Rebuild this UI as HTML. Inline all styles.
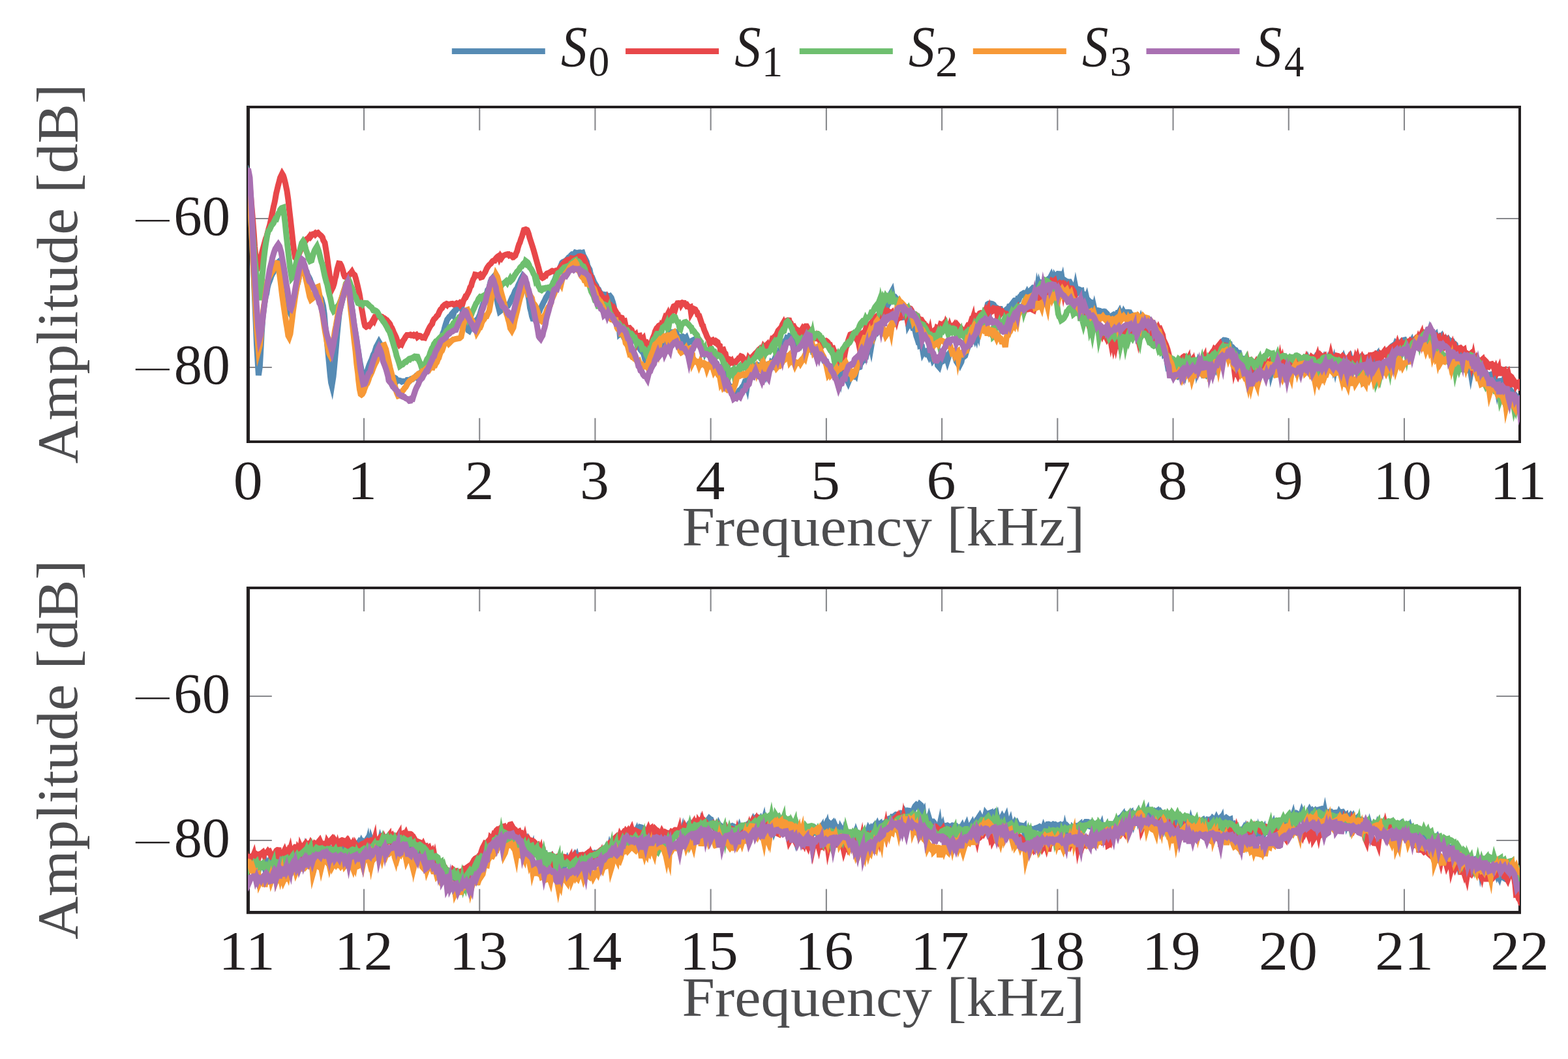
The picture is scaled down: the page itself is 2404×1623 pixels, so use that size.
<!DOCTYPE html>
<html><head><meta charset="utf-8"><title>Amplitude spectra</title><style>html,body{margin:0;padding:0;background:#fff;}svg{display:block;}</style></head><body>
<svg width="2404" height="1623" viewBox="0 0 2404 1623">
<rect width="2404" height="1623" fill="#ffffff"/>
<rect x="692.8" y="74.1" width="143" height="8.9" fill="#568bb4"/>
<text transform="translate(859.93 100.92) scale(0.8072 0.8787)" font-family='"Liberation Serif", serif' font-size="100" font-style="italic" fill="#231f20">S</text>
<text transform="translate(902.36 116.35) scale(0.6415 0.6533)" font-family='"Liberation Serif", serif' font-size="100" fill="#231f20">0</text>
<rect x="959.1" y="74.1" width="143" height="8.9" fill="#e8474a"/>
<text transform="translate(1126.23 100.92) scale(0.8072 0.8787)" font-family='"Liberation Serif", serif' font-size="100" font-style="italic" fill="#231f20">S</text>
<text transform="translate(1167.93 117.00) scale(0.6449 0.6682)" font-family='"Liberation Serif", serif' font-size="100" fill="#231f20">1</text>
<rect x="1225.8" y="74.1" width="143" height="8.9" fill="#6ebf6f"/>
<text transform="translate(1392.93 100.92) scale(0.8072 0.8787)" font-family='"Liberation Serif", serif' font-size="100" font-style="italic" fill="#231f20">S</text>
<text transform="translate(1433.93 117.00) scale(0.6983 0.6662)" font-family='"Liberation Serif", serif' font-size="100" fill="#231f20">2</text>
<rect x="1491.8" y="74.1" width="143" height="8.9" fill="#f79937"/>
<text transform="translate(1658.93 100.92) scale(0.8072 0.8787)" font-family='"Liberation Serif", serif' font-size="100" font-style="italic" fill="#231f20">S</text>
<text transform="translate(1701.42 116.34) scale(0.6634 0.6562)" font-family='"Liberation Serif", serif' font-size="100" fill="#231f20">3</text>
<rect x="1757.5" y="74.1" width="143" height="8.9" fill="#a970b2"/>
<text transform="translate(1924.63 100.92) scale(0.8072 0.8787)" font-family='"Liberation Serif", serif' font-size="100" font-style="italic" fill="#231f20">S</text>
<text transform="translate(1969.08 117.00) scale(0.6078 0.6702)" font-family='"Liberation Serif", serif' font-size="100" fill="#231f20">4</text>
<path d="M380.80 676.85V640.85 M380.80 163.80V199.80 M558.02 676.85V640.85 M558.02 163.80V199.80 M735.24 676.85V640.85 M735.24 163.80V199.80 M912.45 676.85V640.85 M912.45 163.80V199.80 M1089.67 676.85V640.85 M1089.67 163.80V199.80 M1266.89 676.85V640.85 M1266.89 163.80V199.80 M1444.11 676.85V640.85 M1444.11 163.80V199.80 M1621.33 676.85V640.85 M1621.33 163.80V199.80 M1798.55 676.85V640.85 M1798.55 163.80V199.80 M1975.76 676.85V640.85 M1975.76 163.80V199.80 M2152.98 676.85V640.85 M2152.98 163.80V199.80 M2330.20 676.85V640.85 M2330.20 163.80V199.80 M380.80 334.97H416.80 M2330.20 334.97H2294.20 M380.80 562.96H416.80 M2330.20 562.96H2294.20" stroke="#87888c" stroke-width="2.1" fill="none"/>
<path d="M377.9 162.1H2332.0V165.9H377.9Z M377.9 675.0H2332.0V678.9H377.9Z M377.9 162.1H383.0V678.9H377.9Z M2328.0 162.1H2332.0V678.9H2328.0Z" fill="#231f20"/>
<clipPath id="cu"><rect x="380.0" y="163.80" width="1950.0" height="513.05"/></clipPath>
<g clip-path="url(#cu)" fill="none" stroke-width="9.0" stroke-linejoin="miter" stroke-miterlimit="6">
<path d="M372.5 261.1 L374.3 261.8 L375.9 261.4 L376.9 263.2 L378.5 261.6 L381.0 270.7 L383.0 301.2 L385.2 343.5 L386.4 367.7 L387.7 397.2 L389.0 421.9 L390.9 464.8 L392.1 493.1 L393.5 527.9 L396.4 575.1 L398.3 562.3 L400.1 531.1 L401.3 509.0 L403.0 484.7 L405.8 463.0 L407.3 454.7 L408.7 449.9 L410.0 441.5 L411.6 435.2 L413.5 430.4 L415.1 425.9 L416.0 423.2 L417.8 419.3 L419.1 417.6 L420.5 412.9 L422.6 407.7 L423.7 404.4 L425.9 402.5 L428.1 408.5 L430.1 418.8 L431.1 422.1 L432.4 427.6 L434.1 435.7 L435.7 443.8 L437.3 450.4 L439.1 460.1 L440.5 465.6 L441.7 471.9 L442.9 475.6 L444.6 479.0 L446.7 474.4 L447.8 469.4 L449.5 463.4 L450.4 458.8 L451.9 454.4 L454.1 442.6 L455.4 436.6 L456.6 433.6 L458.2 426.0 L459.5 418.4 L461.0 411.8 L463.3 405.5 L464.6 405.1 L465.8 407.0 L467.0 409.0 L469.0 414.6 L470.1 416.0 L471.4 420.9 L473.4 424.4 L475.1 427.8 L475.9 430.1 L478.0 435.4 L480.0 439.6 L481.9 443.6 L483.6 445.1 L485.5 447.1 L486.8 451.0 L488.6 452.1 L489.6 453.9 L491.2 455.6 L492.6 458.2 L495.4 468.3 L497.2 481.2 L498.7 499.3 L500.2 512.0 L502.0 530.7 L502.9 540.0 L504.5 556.3 L506.2 574.7 L507.6 586.5 L508.8 591.1 L511.0 577.3 L512.3 564.2 L513.9 546.8 L515.5 529.0 L517.0 511.4 L518.6 495.0 L520.0 482.3 L521.4 473.7 L522.5 469.9 L524.3 462.1 L526.0 455.1 L527.6 448.9 L529.0 443.2 L529.9 440.6 L531.7 434.1 L533.0 433.7 L535.2 442.5 L536.0 447.7 L537.6 459.1 L539.2 469.1 L540.4 477.9 L542.6 495.8 L545.0 509.9 L546.8 520.8 L548.0 529.9 L549.9 541.8 L551.1 550.1 L552.4 557.6 L554.0 566.1 L557.0 581.4 L558.7 580.0 L560.4 577.4 L561.7 572.7 L563.0 568.6 L564.7 563.5 L566.2 559.0 L568.1 554.5 L570.0 550.3 L572.3 543.6 L574.2 540.3 L575.6 535.5 L577.0 531.4 L578.0 529.5 L581.0 523.9 L582.5 526.5 L584.3 531.7 L585.4 535.9 L587.5 544.6 L589.0 548.3 L590.5 552.8 L592.0 559.3 L593.1 562.1 L595.0 567.6 L597.0 573.2 L599.2 576.4 L600.8 576.7 L602.1 578.4 L603.9 579.4 L605.4 579.1 L606.6 579.8 L608.4 584.4 L609.7 583.1 L611.5 583.0 L612.6 583.2 L614.5 583.9 L616.0 584.9 L617.3 584.2 L618.9 584.2 L620.3 584.2 L621.6 583.9 L623.7 583.8 L624.5 582.4 L626.2 582.3 L627.8 582.4 L628.9 582.9 L630.5 580.9 L632.5 581.1 L634.8 579.2 L637.1 576.9 L638.5 578.1 L639.6 576.6 L641.4 575.5 L642.7 572.9 L644.5 571.3 L645.7 571.3 L647.0 570.5 L649.1 569.3 L650.5 567.4 L652.0 566.3 L653.5 563.9 L655.0 561.8 L656.3 561.8 L657.9 557.9 L659.0 556.6 L660.8 554.1 L662.6 551.8 L664.0 549.4 L665.5 546.4 L666.8 543.7 L668.6 543.1 L670.0 538.8 L671.6 533.9 L672.7 530.4 L674.0 527.7 L675.9 522.4 L677.3 516.4 L678.7 511.3 L680.6 507.3 L681.5 503.2 L683.4 496.5 L685.7 489.7 L687.8 487.1 L689.0 485.4 L690.8 484.2 L692.6 481.1 L693.5 480.1 L694.9 482.4 L696.5 477.3 L698.3 474.8 L700.2 472.0 L700.9 472.7 L703.2 469.5 L704.3 468.0 L705.5 466.3 L707.0 467.3 L708.6 474.9 L710.5 479.5 L711.8 486.6 L713.1 489.5 L714.6 494.8 L716.6 502.3 L717.8 506.3 L719.2 507.2 L720.7 504.3 L722.5 501.8 L724.2 498.8 L725.0 499.6 L726.5 496.1 L728.2 495.2 L729.8 491.4 L731.0 490.1 L732.4 489.7 L733.8 486.3 L735.7 482.1 L737.5 475.6 L738.9 471.1 L739.9 468.4 L741.4 463.8 L743.3 457.7 L745.1 452.1 L746.6 448.4 L747.7 444.3 L749.6 442.0 L751.1 435.7 L752.2 431.0 L754.0 427.4 L755.2 426.0 L756.5 430.1 L758.4 439.5 L759.5 444.1 L761.4 454.5 L763.0 465.3 L764.6 471.9 L766.0 477.6 L769.1 475.3 L770.6 473.5 L772.2 472.6 L773.4 472.2 L774.9 469.8 L776.2 470.2 L777.5 467.9 L779.1 468.0 L782.0 463.3 L784.0 458.4 L785.3 455.5 L786.8 453.2 L788.7 448.9 L789.5 446.5 L791.3 443.6 L792.5 442.6 L794.6 436.9 L795.8 434.4 L797.2 431.7 L798.5 428.5 L800.4 424.8 L801.7 422.4 L803.4 424.3 L806.2 437.1 L807.9 444.4 L809.3 450.7 L811.1 460.1 L812.6 471.8 L814.1 477.7 L815.5 484.5 L816.8 488.3 L818.3 488.3 L819.7 489.5 L821.2 487.1 L822.4 484.8 L824.5 479.1 L825.6 479.8 L826.9 477.9 L828.8 472.6 L830.2 470.1 L831.7 467.1 L833.2 463.7 L834.9 460.8 L836.0 458.3 L837.4 455.3 L839.4 452.7 L841.0 449.5 L842.6 446.2 L843.7 446.4 L845.5 440.3 L846.4 437.1 L847.9 434.9 L849.9 429.7 L851.1 427.0 L852.5 423.0 L854.0 424.5 L855.7 418.5 L857.2 413.4 L858.9 409.4 L861.7 402.7 L863.0 401.5 L864.9 400.7 L865.9 400.2 L867.7 401.3 L869.2 397.6 L870.7 395.9 L871.9 394.5 L873.8 393.6 L875.4 391.1 L877.0 389.7 L878.7 390.0 L879.7 390.6 L882.1 387.0 L884.1 387.6 L886.1 387.4 L887.5 387.0 L889.2 386.9 L890.6 387.6 L892.1 387.3 L893.0 387.1 L894.3 391.2 L896.1 394.3 L897.7 397.2 L899.5 400.9 L900.8 406.9 L902.3 410.2 L904.0 413.0 L905.0 417.5 L906.9 425.0 L907.9 425.2 L910.6 431.8 L912.9 435.7 L914.2 437.8 L915.6 441.4 L917.6 443.4 L918.6 445.8 L919.9 448.0 L921.6 454.8 L922.9 457.3 L925.0 453.0 L926.0 451.2 L928.2 451.6 L929.1 451.7 L930.6 452.8 L932.4 457.7 L933.6 454.3 L935.2 453.6 L937.2 456.1 L939.4 462.6 L941.1 468.9 L943.1 480.6 L944.1 483.1 L945.6 489.9 L947.4 495.8 L949.1 501.3 L950.1 511.5 L951.4 510.3 L953.5 511.4 L955.0 514.2 L956.4 512.3 L957.5 512.1 L959.0 511.9 L961.0 512.1 L962.5 513.5 L964.1 512.1 L965.5 510.7 L967.7 510.9 L970.1 515.2 L971.5 521.4 L972.9 520.7 L974.4 522.0 L975.7 524.4 L977.2 527.2 L978.9 532.0 L980.3 533.0 L982.0 536.2 L983.6 538.1 L985.1 539.9 L986.2 540.2 L988.1 547.6 L989.6 543.6 L990.7 544.7 L992.5 544.9 L993.5 541.4 L995.3 540.7 L996.8 539.1 L998.5 537.7 L1000.1 541.1 L1001.0 541.2 L1002.9 536.4 L1004.4 538.1 L1005.5 535.7 L1008.5 531.9 L1010.7 532.3 L1011.5 531.1 L1013.3 529.9 L1014.7 527.4 L1016.4 522.9 L1017.9 521.0 L1019.3 524.9 L1020.7 519.5 L1022.3 515.1 L1023.7 512.8 L1025.6 512.5 L1026.8 509.6 L1028.9 513.3 L1031.1 508.9 L1033.2 509.1 L1034.2 509.0 L1036.1 512.7 L1037.4 511.2 L1039.2 521.6 L1040.0 516.0 L1042.2 518.8 L1043.5 517.1 L1044.9 516.0 L1046.5 515.6 L1048.0 516.5 L1049.3 521.7 L1050.9 518.6 L1052.1 517.4 L1053.4 520.8 L1055.4 525.2 L1056.8 523.9 L1058.6 523.8 L1059.6 522.7 L1061.6 521.7 L1063.2 520.9 L1064.6 526.8 L1066.2 524.3 L1067.0 526.0 L1069.7 525.4 L1071.7 524.6 L1073.0 526.9 L1074.5 528.9 L1075.9 531.0 L1078.1 530.9 L1079.2 532.4 L1080.9 539.3 L1082.3 536.2 L1084.0 538.3 L1085.5 543.5 L1086.7 544.2 L1088.0 540.3 L1089.5 541.5 L1091.1 545.1 L1092.6 552.7 L1094.1 549.0 L1095.7 556.7 L1097.4 555.7 L1098.7 556.9 L1100.2 564.0 L1102.1 562.6 L1102.9 562.5 L1104.4 564.3 L1105.9 568.0 L1108.1 569.7 L1109.4 570.6 L1111.0 576.5 L1113.7 583.8 L1115.6 585.0 L1116.6 588.1 L1118.3 591.6 L1119.9 592.0 L1121.5 595.9 L1122.6 599.6 L1124.9 607.1 L1127.1 604.6 L1129.2 605.4 L1130.6 603.3 L1131.9 601.2 L1133.5 598.3 L1136.0 596.4 L1138.2 592.8 L1139.3 592.5 L1140.5 589.3 L1142.3 591.9 L1143.9 585.5 L1145.5 591.4 L1146.9 582.1 L1147.9 577.5 L1149.9 573.3 L1151.6 571.1 L1152.9 571.4 L1154.7 568.2 L1155.8 564.3 L1158.3 560.2 L1160.6 558.9 L1161.7 559.5 L1163.6 559.9 L1164.7 559.8 L1166.4 562.1 L1168.1 563.6 L1169.5 568.1 L1170.9 563.0 L1172.7 565.7 L1173.5 564.5 L1175.0 571.1 L1177.5 563.8 L1179.9 564.0 L1181.1 562.0 L1182.5 556.8 L1184.3 558.8 L1185.8 553.1 L1187.3 550.8 L1188.9 547.2 L1190.2 547.5 L1192.1 545.9 L1193.1 541.2 L1194.5 540.1 L1196.2 535.5 L1198.1 535.2 L1199.0 537.5 L1200.6 533.4 L1202.6 524.8 L1203.7 522.2 L1205.6 520.3 L1206.4 518.1 L1209.3 519.4 L1211.0 514.8 L1213.0 515.1 L1214.7 514.4 L1216.2 516.5 L1217.5 517.2 L1219.1 516.9 L1220.7 521.7 L1221.8 519.2 L1223.0 521.4 L1225.1 522.2 L1226.2 520.2 L1227.7 521.0 L1230.0 525.0 L1231.9 523.3 L1233.6 523.3 L1235.4 525.1 L1237.0 525.5 L1238.7 529.4 L1240.1 529.9 L1241.7 529.3 L1242.9 530.5 L1244.5 529.7 L1245.9 536.8 L1247.0 536.1 L1248.4 536.2 L1250.8 534.3 L1253.5 536.7 L1254.8 539.5 L1255.9 539.4 L1257.8 540.6 L1259.3 543.1 L1260.5 545.5 L1262.1 550.6 L1263.6 553.6 L1265.2 555.2 L1267.0 554.9 L1268.0 558.5 L1269.8 561.5 L1271.4 560.8 L1273.2 562.1 L1275.0 562.2 L1277.1 564.0 L1278.6 564.1 L1280.0 563.3 L1281.5 562.0 L1283.1 563.1 L1284.6 562.6 L1286.3 565.9 L1287.9 571.9 L1289.2 578.5 L1290.5 571.6 L1292.0 580.6 L1293.6 577.1 L1295.0 579.4 L1296.8 580.5 L1298.6 582.1 L1300.5 586.2 L1302.4 581.6 L1304.0 579.0 L1305.7 574.8 L1307.2 573.8 L1308.9 575.4 L1310.0 573.2 L1311.6 575.2 L1313.4 566.0 L1314.9 564.1 L1316.3 563.3 L1318.1 562.6 L1319.0 558.1 L1320.6 556.3 L1322.8 551.9 L1325.7 551.9 L1327.2 542.9 L1328.4 543.8 L1330.0 536.8 L1331.5 532.3 L1332.5 531.1 L1334.4 526.7 L1335.6 532.2 L1337.2 522.9 L1338.5 520.0 L1339.9 515.1 L1342.1 511.2 L1343.5 507.8 L1345.0 509.3 L1346.7 506.8 L1349.0 507.9 L1350.9 494.6 L1352.6 499.3 L1354.0 495.8 L1355.6 483.7 L1356.6 485.0 L1358.5 474.8 L1359.5 471.6 L1361.0 467.3 L1362.5 465.3 L1364.3 456.7 L1365.8 449.9 L1367.4 446.9 L1368.7 454.5 L1370.5 454.3 L1371.8 454.6 L1373.2 456.3 L1374.5 459.4 L1376.1 461.6 L1378.1 469.6 L1380.2 476.9 L1382.6 477.2 L1384.1 476.0 L1385.1 479.3 L1386.6 485.8 L1388.5 485.3 L1389.6 486.7 L1391.7 488.3 L1392.7 497.8 L1394.5 494.5 L1396.0 492.9 L1397.1 496.3 L1399.1 501.4 L1400.2 500.9 L1401.5 503.9 L1402.9 506.6 L1404.8 514.9 L1406.4 519.4 L1407.6 523.3 L1409.6 522.4 L1410.6 529.7 L1412.6 528.9 L1413.4 529.8 L1415.2 540.3 L1416.5 537.9 L1418.3 538.4 L1419.7 538.0 L1421.2 543.1 L1423.1 543.0 L1424.4 545.8 L1425.9 542.3 L1428.0 545.1 L1430.3 552.1 L1432.0 549.8 L1433.6 550.4 L1434.9 551.6 L1436.2 551.4 L1437.6 560.1 L1439.6 562.4 L1441.0 557.6 L1442.3 555.6 L1443.6 554.6 L1445.2 553.8 L1447.1 551.0 L1448.1 548.5 L1450.1 546.4 L1451.3 548.2 L1452.6 552.7 L1454.2 547.6 L1455.5 541.4 L1458.2 537.6 L1459.9 538.4 L1461.6 541.2 L1463.5 543.2 L1464.6 547.7 L1466.3 554.0 L1468.0 556.6 L1469.4 552.9 L1471.0 552.4 L1472.6 557.5 L1474.0 554.8 L1475.4 547.8 L1476.7 544.3 L1478.4 546.4 L1479.7 545.3 L1482.0 538.0 L1483.9 532.6 L1485.5 529.3 L1487.1 528.6 L1488.9 521.4 L1490.4 517.6 L1491.9 513.6 L1493.6 517.7 L1494.9 511.9 L1496.2 515.6 L1497.5 506.5 L1499.2 511.3 L1500.5 499.6 L1502.0 494.4 L1503.5 489.2 L1505.2 484.8 L1507.0 484.0 L1510.0 479.7 L1511.1 474.3 L1512.6 473.0 L1514.3 466.2 L1515.5 465.5 L1517.2 465.7 L1518.9 470.4 L1520.6 465.5 L1521.4 465.7 L1523.5 467.1 L1525.0 470.6 L1526.4 470.6 L1527.4 471.3 L1529.6 472.6 L1530.6 474.0 L1532.3 473.5 L1533.8 473.5 L1535.6 478.6 L1536.9 476.9 L1538.7 477.5 L1540.0 477.2 L1541.4 479.7 L1542.9 474.4 L1544.3 473.3 L1545.9 473.9 L1547.3 469.6 L1548.7 469.4 L1550.4 467.2 L1551.5 473.6 L1553.3 464.8 L1554.8 463.2 L1556.1 460.5 L1557.9 460.3 L1559.4 462.3 L1560.5 458.3 L1562.1 458.6 L1563.7 454.6 L1565.4 453.1 L1566.5 451.0 L1568.1 450.0 L1569.8 448.9 L1571.3 449.1 L1572.4 452.6 L1574.7 448.0 L1575.6 449.8 L1577.4 449.9 L1578.6 450.5 L1580.4 444.6 L1581.7 443.3 L1583.2 446.1 L1585.0 445.8 L1586.4 441.1 L1587.9 441.1 L1589.5 451.4 L1590.6 442.5 L1592.0 448.4 L1593.6 438.3 L1595.2 443.4 L1596.9 434.6 L1598.2 435.5 L1599.6 432.5 L1601.0 433.8 L1602.9 432.7 L1604.0 430.0 L1605.8 428.7 L1607.5 437.3 L1608.9 429.3 L1610.0 425.6 L1611.5 422.7 L1613.7 429.3 L1614.5 422.9 L1616.4 434.0 L1617.7 425.0 L1619.4 427.7 L1620.7 421.3 L1622.0 419.7 L1624.3 419.8 L1627.1 432.6 L1628.5 428.1 L1629.7 435.8 L1631.3 428.6 L1632.8 429.6 L1634.7 440.7 L1635.4 435.4 L1637.1 431.6 L1638.7 432.0 L1640.0 431.9 L1642.0 435.4 L1643.2 445.7 L1644.4 442.4 L1646.4 441.1 L1647.7 447.3 L1649.0 440.3 L1650.9 449.9 L1652.3 448.7 L1653.6 443.3 L1655.1 443.9 L1656.8 445.7 L1658.1 445.4 L1659.3 452.9 L1661.7 450.8 L1662.8 451.4 L1664.1 460.7 L1665.8 456.0 L1667.6 464.0 L1669.1 468.4 L1670.4 462.0 L1672.1 463.8 L1673.5 463.5 L1674.9 464.5 L1676.2 476.7 L1677.5 471.6 L1679.5 480.5 L1680.9 476.4 L1683.2 475.6 L1685.6 476.1 L1686.6 478.0 L1688.7 479.1 L1690.2 477.6 L1690.9 477.5 L1692.7 483.4 L1694.7 482.4 L1696.2 479.8 L1697.4 481.0 L1698.5 484.5 L1700.0 485.5 L1701.6 486.5 L1703.7 492.4 L1705.0 490.2 L1706.2 482.9 L1708.0 481.7 L1709.6 482.0 L1710.6 486.7 L1712.6 481.8 L1713.6 479.3 L1715.2 479.2 L1716.4 477.1 L1718.0 481.2 L1719.8 481.3 L1720.9 482.9 L1722.8 478.3 L1724.0 480.4 L1726.3 478.4 L1728.6 478.5 L1730.1 478.2 L1731.9 478.5 L1733.5 482.0 L1735.0 490.5 L1736.5 483.5 L1737.9 484.7 L1739.3 488.7 L1740.7 490.1 L1742.0 488.4 L1745.0 488.5 L1746.9 487.5 L1748.0 496.8 L1749.7 490.1 L1751.0 493.8 L1752.7 494.5 L1754.5 502.3 L1755.7 502.6 L1757.4 497.9 L1758.5 496.9 L1760.2 493.2 L1761.7 494.3 L1763.3 491.3 L1765.0 493.0 L1766.5 496.5 L1768.1 497.0 L1769.6 500.1 L1770.4 500.4 L1772.3 509.9 L1773.7 510.2 L1775.4 511.1 L1776.5 511.6 L1778.5 520.6 L1780.0 521.3 L1781.7 526.1 L1782.4 532.7 L1784.2 540.6 L1785.8 538.5 L1787.6 544.8 L1790.0 559.3 L1791.6 557.3 L1793.5 555.3 L1794.7 554.9 L1796.1 563.8 L1798.1 561.9 L1799.6 566.2 L1800.7 567.1 L1802.3 575.4 L1805.0 577.0 L1807.1 573.8 L1808.6 569.1 L1810.0 568.3 L1811.4 574.4 L1812.9 573.3 L1814.3 571.6 L1815.9 575.0 L1817.1 569.9 L1818.9 562.0 L1820.4 557.9 L1821.8 557.3 L1823.4 554.3 L1824.8 561.0 L1826.5 562.2 L1828.0 557.3 L1829.0 552.4 L1832.1 552.7 L1833.5 554.6 L1835.0 565.2 L1836.7 558.5 L1838.3 564.1 L1839.7 564.1 L1841.1 566.7 L1843.0 571.6 L1844.2 574.0 L1846.1 572.8 L1847.1 572.4 L1848.9 573.6 L1850.2 575.3 L1852.1 574.0 L1853.4 570.4 L1854.9 566.8 L1856.0 563.6 L1858.0 560.4 L1860.0 559.7 L1862.6 563.9 L1863.5 558.7 L1864.9 550.0 L1867.0 542.2 L1868.7 542.2 L1870.1 535.9 L1871.2 529.8 L1873.1 529.2 L1873.9 523.7 L1876.4 521.2 L1878.8 521.5 L1880.6 522.0 L1881.6 528.0 L1883.3 525.1 L1885.2 526.4 L1886.1 531.5 L1887.7 534.0 L1890.0 532.8 L1892.0 535.2 L1894.0 536.2 L1895.2 547.2 L1896.7 539.2 L1898.1 540.4 L1899.8 540.6 L1901.4 546.0 L1902.7 549.4 L1905.5 549.6 L1907.6 552.1 L1908.8 554.7 L1910.2 553.2 L1912.2 555.5 L1913.0 559.9 L1914.4 560.9 L1916.6 567.7 L1917.6 573.4 L1920.0 573.2 L1922.2 571.3 L1923.7 569.2 L1925.6 568.7 L1926.6 574.4 L1928.0 570.0 L1929.6 568.4 L1931.7 566.6 L1932.7 569.4 L1934.2 568.4 L1936.0 567.6 L1937.6 562.6 L1940.0 560.9 L1941.6 559.7 L1943.2 559.4 L1944.9 561.6 L1946.1 563.8 L1947.6 558.9 L1949.1 570.7 L1950.6 565.1 L1952.6 557.2 L1954.0 559.4 L1955.0 561.8 L1956.7 555.7 L1958.5 552.1 L1960.0 554.5 L1961.3 555.9 L1963.0 554.1 L1964.1 554.1 L1966.0 551.8 L1967.6 550.4 L1968.7 553.9 L1970.1 551.8 L1971.4 558.0 L1973.4 555.6 L1974.9 555.2 L1975.9 551.4 L1977.8 552.2 L1979.7 559.2 L1980.4 553.1 L1982.0 552.4 L1983.4 550.7 L1985.0 559.8 L1986.7 565.1 L1988.6 559.3 L1989.5 554.5 L1991.1 553.3 L1993.2 561.2 L1993.9 564.7 L1995.6 558.6 L1997.2 552.3 L1998.4 550.0 L2000.1 549.3 L2001.9 553.3 L2003.4 558.3 L2004.9 562.1 L2006.4 553.6 L2007.9 557.2 L2008.9 557.3 L2010.9 561.0 L2012.4 561.8 L2013.6 555.6 L2015.6 551.5 L2018.6 561.1 L2019.6 553.5 L2021.0 550.1 L2023.0 558.2 L2024.5 552.5 L2026.1 551.6 L2027.4 555.0 L2028.7 552.1 L2030.3 559.8 L2031.8 556.0 L2033.4 557.8 L2035.2 555.6 L2036.1 552.8 L2038.0 558.5 L2040.0 554.1 L2042.7 558.6 L2043.6 562.1 L2045.3 555.0 L2047.1 564.1 L2048.4 557.6 L2049.8 554.1 L2051.5 551.8 L2053.2 554.3 L2054.7 551.4 L2055.5 550.0 L2057.0 550.1 L2058.6 553.2 L2060.0 549.3 L2062.0 555.0 L2063.6 562.3 L2064.5 554.1 L2065.9 555.7 L2067.7 551.3 L2069.4 555.8 L2071.0 551.7 L2072.3 556.7 L2073.9 552.9 L2075.6 551.5 L2077.1 550.8 L2078.0 548.6 L2080.0 548.7 L2081.5 548.5 L2083.1 548.4 L2084.2 551.6 L2085.5 549.6 L2087.3 553.2 L2088.7 551.6 L2090.0 558.7 L2092.0 551.4 L2093.4 550.2 L2094.9 552.7 L2096.4 555.4 L2097.5 549.0 L2098.9 561.7 L2100.7 551.3 L2102.6 552.2 L2103.9 550.1 L2105.5 552.3 L2106.9 549.2 L2108.5 548.0 L2110.2 545.0 L2111.5 543.3 L2113.1 552.8 L2114.7 550.9 L2116.4 546.1 L2118.5 541.8 L2119.9 541.7 L2122.1 542.3 L2123.1 540.1 L2124.6 539.6 L2126.0 538.2 L2127.9 540.2 L2128.9 546.9 L2131.0 535.7 L2132.1 532.7 L2134.0 530.7 L2135.6 529.6 L2137.0 533.8 L2138.2 530.5 L2139.9 526.1 L2141.6 527.9 L2143.0 529.0 L2144.1 532.7 L2145.4 529.4 L2147.0 525.9 L2148.9 523.2 L2150.0 521.9 L2151.8 521.4 L2153.4 521.0 L2154.6 523.7 L2156.6 531.1 L2157.6 527.2 L2159.0 528.5 L2160.6 530.3 L2162.2 526.1 L2164.1 522.8 L2165.4 527.4 L2166.5 522.5 L2168.2 523.2 L2169.5 521.4 L2171.5 522.7 L2173.1 521.8 L2175.0 523.7 L2177.1 521.8 L2178.6 519.6 L2180.5 520.4 L2182.2 518.3 L2183.1 519.6 L2184.8 515.9 L2186.1 522.6 L2187.4 516.1 L2189.4 517.3 L2190.5 513.3 L2192.5 526.8 L2195.0 518.0 L2196.9 517.3 L2198.1 513.5 L2200.0 514.5 L2201.1 513.3 L2203.0 522.2 L2204.4 517.5 L2205.9 516.3 L2207.1 518.9 L2209.1 516.5 L2210.2 522.7 L2212.0 519.3 L2213.3 517.7 L2214.8 517.6 L2216.5 522.5 L2217.7 520.0 L2219.5 519.0 L2220.8 521.0 L2222.5 521.4 L2224.0 522.2 L2226.5 522.8 L2228.2 527.0 L2230.2 527.0 L2231.3 528.0 L2232.7 534.0 L2234.5 543.8 L2235.6 538.3 L2237.7 538.2 L2240.0 552.5 L2241.6 549.1 L2243.5 552.2 L2245.1 564.2 L2246.5 566.1 L2247.9 567.2 L2251.0 564.0 L2252.6 561.8 L2253.8 564.5 L2255.0 571.8 L2256.8 562.3 L2258.1 555.5 L2260.0 558.0 L2261.6 557.2 L2263.1 554.8 L2264.4 555.6 L2266.0 557.0 L2267.4 563.6 L2268.8 561.6 L2270.0 563.0 L2271.6 564.6 L2273.3 565.4 L2274.9 566.7 L2276.1 570.1 L2277.5 571.4 L2280.0 578.7 L2282.6 579.4 L2283.6 574.5 L2285.2 574.0 L2286.8 578.8 L2288.1 587.2 L2289.8 581.7 L2291.3 580.0 L2292.4 581.8 L2294.7 594.0 L2295.8 586.7 L2297.0 584.0 L2299.2 583.8 L2300.0 585.0 L2302.0 595.3 L2303.3 590.8 L2304.6 597.6 L2306.2 596.6 L2307.8 590.8 L2309.2 593.7 L2310.6 594.9 L2312.2 597.3 L2313.7 602.5 L2315.5 603.1 L2316.6 599.0 L2317.9 601.1 L2320.1 604.6 L2321.0 603.6 L2322.9 608.6 L2324.3 606.6 L2326.2 608.7 L2327.1 609.9 L2329.1 610.6 L2330.0 614.5 L2331.5 614.2 L2334.0 618.9 L2336.4 614.7 L2337.9 617.5" stroke="#568bb4"/>
<path d="M372.6 262.4 L374.7 261.8 L375.6 261.8 L377.0 261.3 L378.7 264.7 L381.0 268.8 L383.0 284.8 L385.1 308.1 L387.0 330.3 L389.3 359.4 L390.5 377.3 L392.1 395.2 L393.7 409.0 L395.3 409.8 L396.8 405.6 L398.6 400.7 L399.6 395.3 L401.1 389.1 L402.9 382.2 L405.0 374.4 L407.6 365.3 L408.5 363.7 L410.6 355.6 L411.9 350.8 L413.6 344.9 L415.0 338.7 L418.0 324.0 L419.4 316.8 L421.0 310.4 L422.1 304.6 L423.5 296.5 L425.0 290.3 L426.4 284.3 L428.7 275.9 L429.5 272.4 L432.5 266.2 L434.2 269.0 L435.5 272.8 L437.5 280.7 L440.0 292.8 L441.9 306.1 L443.5 321.0 L444.8 332.0 L446.3 345.5 L448.1 361.6 L449.1 371.4 L450.6 383.0 L452.6 394.8 L454.2 396.5 L455.3 394.3 L457.0 390.5 L458.5 389.0 L460.0 385.4 L463.1 378.3 L464.3 376.8 L465.8 374.2 L467.4 370.5 L468.7 369.0 L470.2 366.5 L471.6 366.0 L473.6 363.7 L475.1 361.7 L476.0 362.9 L478.0 360.3 L479.5 359.0 L481.1 359.2 L482.7 357.9 L483.6 359.2 L485.6 357.2 L487.4 356.6 L489.6 359.1 L491.1 360.3 L492.5 361.5 L494.4 363.8 L495.6 368.1 L498.0 372.1 L500.6 388.0 L502.0 397.6 L503.5 409.0 L504.9 418.8 L506.3 430.7 L507.6 438.7 L508.8 443.4 L510.5 440.0 L512.3 434.4 L513.5 428.1 L515.0 422.9 L517.0 412.3 L519.5 403.7 L521.5 404.0 L523.1 406.9 L524.3 410.1 L526.0 415.6 L527.1 420.7 L528.5 424.0 L530.0 424.6 L531.4 425.2 L533.0 422.3 L535.0 422.1 L536.6 419.4 L537.4 419.0 L539.5 416.3 L541.0 419.1 L542.3 420.2 L543.8 421.5 L545.3 426.2 L547.0 432.8 L548.1 437.4 L551.0 450.0 L552.4 458.5 L554.6 473.7 L555.5 478.0 L557.1 487.5 L558.4 494.4 L559.7 499.4 L561.5 500.8 L563.6 499.7 L565.0 498.6 L566.2 499.3 L567.7 497.0 L569.6 494.8 L570.8 492.6 L572.6 489.4 L573.8 491.3 L575.0 488.6 L576.5 484.7 L578.4 482.9 L581.0 483.9 L582.7 485.9 L584.1 484.9 L585.6 485.4 L587.5 487.2 L588.8 487.4 L590.7 488.9 L591.5 490.5 L593.1 490.7 L594.5 492.6 L596.2 494.4 L598.0 496.9 L599.2 500.5 L600.7 502.3 L602.0 505.3 L603.7 509.5 L605.3 512.7 L606.9 516.2 L607.9 518.5 L609.5 524.4 L612.0 528.3 L614.4 525.8 L615.9 527.2 L617.2 524.4 L618.7 521.2 L619.9 519.9 L621.7 516.5 L624.0 513.4 L626.4 513.4 L628.0 513.2 L629.1 512.9 L630.6 514.1 L632.0 514.2 L633.9 513.2 L635.2 514.5 L636.5 514.0 L638.1 513.2 L640.0 516.6 L641.7 515.3 L642.9 514.5 L644.3 514.7 L645.8 515.9 L647.4 517.4 L649.2 517.3 L651.0 517.7 L653.0 513.3 L654.4 511.1 L656.1 506.8 L659.0 501.0 L661.1 498.0 L662.7 496.1 L663.5 492.7 L665.5 489.1 L666.9 487.9 L668.7 485.9 L669.6 484.3 L671.5 482.9 L672.7 480.0 L674.1 476.8 L675.6 474.1 L677.7 472.3 L678.8 469.9 L680.3 468.4 L682.1 466.7 L683.6 466.0 L685.1 467.3 L685.9 465.9 L688.2 466.6 L689.4 466.3 L691.1 465.8 L693.7 465.5 L695.6 466.8 L696.9 466.3 L698.0 466.0 L699.9 464.9 L700.9 465.7 L702.7 466.0 L704.1 464.8 L705.6 467.2 L707.0 465.4 L709.1 465.5 L710.6 460.5 L711.9 458.3 L713.5 454.8 L714.5 455.0 L716.2 451.6 L717.8 448.5 L719.3 445.2 L720.8 440.3 L722.5 438.0 L723.6 433.4 L725.6 427.9 L727.0 425.6 L728.5 420.9 L729.7 421.1 L731.6 422.2 L732.6 421.9 L733.9 422.2 L735.5 421.1 L737.3 425.0 L739.2 424.4 L741.5 420.5 L743.6 417.5 L745.2 414.1 L746.0 412.0 L747.8 409.1 L750.0 406.1 L752.6 404.0 L754.0 401.8 L755.4 400.0 L756.8 399.3 L758.5 399.4 L760.1 396.3 L761.1 395.2 L763.3 393.0 L764.7 392.1 L765.8 395.4 L767.2 392.5 L769.1 395.2 L770.5 393.1 L772.0 391.7 L773.5 391.0 L775.1 390.3 L776.7 390.0 L778.2 389.6 L779.5 389.6 L781.1 391.8 L782.6 391.3 L783.4 391.1 L785.7 393.5 L787.0 392.5 L788.0 393.4 L790.0 391.8 L791.5 387.7 L792.8 384.9 L794.1 379.7 L795.8 374.2 L797.0 372.0 L798.7 366.5 L800.4 362.0 L802.0 356.5 L803.3 352.4 L806.1 351.6 L808.1 352.4 L809.4 355.5 L810.6 358.8 L811.9 363.9 L813.9 370.1 L815.3 374.4 L816.8 379.0 L818.0 383.1 L820.2 390.7 L821.5 395.7 L823.1 401.4 L824.2 405.4 L825.7 410.6 L827.4 417.3 L828.7 421.6 L830.2 424.8 L831.8 426.0 L833.4 425.2 L834.7 422.8 L836.6 422.8 L838.1 419.7 L838.9 418.9 L841.3 418.2 L843.7 417.1 L845.7 415.6 L846.6 415.1 L848.6 415.9 L849.7 415.8 L851.6 415.6 L852.5 414.8 L855.6 414.8 L857.4 411.9 L858.6 410.4 L860.2 410.7 L861.5 406.7 L863.1 404.6 L865.8 401.9 L867.8 399.8 L869.6 398.8 L870.6 398.0 L872.5 397.8 L874.1 398.3 L875.2 398.4 L876.4 395.8 L878.6 396.2 L880.0 396.5 L882.1 396.1 L884.1 394.9 L886.0 394.5 L887.4 392.9 L888.7 392.7 L890.5 394.0 L891.5 393.2 L894.3 394.3 L896.7 400.2 L898.0 403.6 L898.9 404.9 L900.9 409.5 L902.5 417.1 L903.7 420.2 L905.7 423.1 L906.6 424.9 L908.0 432.8 L910.6 437.0 L912.9 439.4 L914.1 441.1 L916.2 443.1 L917.5 446.1 L919.0 450.5 L920.8 450.6 L923.6 456.0 L924.6 456.6 L926.0 456.8 L928.1 459.2 L929.1 461.0 L930.9 468.9 L932.1 462.6 L933.5 466.5 L935.3 467.0 L936.9 472.0 L939.2 471.1 L941.3 478.4 L942.9 480.7 L944.1 477.3 L946.1 480.6 L947.2 481.6 L948.4 489.8 L950.1 486.5 L951.5 486.5 L953.4 487.1 L955.5 493.2 L957.7 492.4 L959.5 500.4 L960.6 503.4 L962.1 504.4 L963.6 502.6 L965.1 502.5 L966.9 504.5 L968.3 505.6 L970.0 510.2 L971.8 514.7 L973.0 514.2 L974.3 513.0 L976.2 522.2 L977.7 517.5 L978.4 514.7 L980.4 514.4 L981.6 520.5 L983.5 522.9 L984.5 520.3 L986.1 518.6 L988.0 527.5 L989.4 523.9 L990.6 524.0 L992.5 527.9 L994.1 537.8 L996.3 534.3 L998.2 529.4 L999.7 521.6 L1001.2 517.4 L1003.2 512.8 L1004.4 508.1 L1006.9 503.0 L1008.8 501.1 L1010.1 499.2 L1011.8 498.3 L1013.5 500.4 L1014.7 496.2 L1016.0 496.7 L1018.7 490.3 L1020.6 484.9 L1021.9 485.3 L1023.9 481.4 L1025.1 485.2 L1027.0 485.9 L1028.2 483.5 L1030.1 477.0 L1031.2 473.5 L1033.0 469.4 L1034.0 469.0 L1035.7 472.5 L1037.0 468.1 L1038.7 464.7 L1040.1 464.6 L1041.6 465.1 L1043.7 464.5 L1044.5 466.9 L1046.3 464.1 L1049.3 464.3 L1050.8 466.4 L1052.3 468.5 L1053.5 467.6 L1055.1 469.9 L1057.0 471.2 L1058.4 470.7 L1059.6 479.9 L1061.3 476.9 L1063.2 474.3 L1064.1 473.4 L1065.9 474.2 L1067.7 477.6 L1068.8 478.5 L1070.0 482.7 L1071.8 483.6 L1073.9 490.0 L1076.6 498.2 L1077.8 499.1 L1078.9 503.3 L1080.3 507.1 L1082.5 511.9 L1083.8 515.5 L1086.6 520.5 L1088.4 526.8 L1089.9 522.7 L1091.5 521.7 L1092.5 521.2 L1094.2 523.8 L1095.9 524.9 L1097.8 522.7 L1100.2 524.3 L1101.5 528.9 L1103.6 530.0 L1104.5 537.0 L1107.4 536.3 L1109.0 535.9 L1110.4 539.9 L1112.2 541.9 L1114.1 551.4 L1115.6 550.9 L1116.9 550.0 L1118.6 550.6 L1119.9 555.2 L1121.7 553.3 L1122.6 555.6 L1124.9 556.7 L1127.6 555.3 L1129.1 552.9 L1130.5 551.8 L1132.2 549.9 L1132.9 548.8 L1134.5 548.2 L1136.0 545.9 L1137.7 546.5 L1139.2 548.4 L1140.7 554.3 L1142.0 557.1 L1143.8 558.0 L1145.6 554.1 L1147.1 551.9 L1148.0 548.8 L1150.2 551.4 L1151.1 549.1 L1152.7 547.3 L1155.2 545.0 L1157.2 542.8 L1158.7 541.0 L1160.0 540.1 L1161.4 538.6 L1163.1 536.2 L1164.8 534.7 L1165.9 536.3 L1167.9 533.5 L1169.7 534.1 L1170.8 530.9 L1172.1 532.4 L1174.2 529.9 L1175.5 528.6 L1176.7 534.1 L1178.6 535.2 L1179.4 533.5 L1180.7 526.9 L1183.2 523.4 L1184.3 519.5 L1185.5 519.8 L1187.0 516.7 L1190.2 513.3 L1192.1 509.2 L1193.1 506.8 L1194.9 504.8 L1196.1 506.2 L1198.2 500.9 L1199.5 497.5 L1201.2 494.6 L1202.3 497.4 L1204.0 492.5 L1205.0 492.0 L1207.7 490.8 L1210.0 491.0 L1211.1 494.7 L1212.4 495.3 L1214.4 500.8 L1216.0 501.2 L1217.3 500.6 L1218.5 502.7 L1220.2 504.3 L1221.6 505.1 L1223.7 511.8 L1224.9 513.4 L1226.4 514.6 L1228.0 507.5 L1229.7 504.6 L1231.2 507.8 L1231.9 503.2 L1233.4 501.1 L1234.8 500.0 L1236.7 500.0 L1238.5 503.3 L1239.7 511.6 L1241.5 513.3 L1243.0 516.5 L1244.1 512.2 L1246.0 510.7 L1248.4 514.0 L1250.3 513.1 L1252.1 512.6 L1253.7 522.4 L1254.4 518.0 L1257.1 522.4 L1259.6 528.0 L1260.7 528.9 L1262.2 526.3 L1263.7 522.1 L1265.2 523.2 L1266.8 522.4 L1268.0 523.3 L1269.5 525.0 L1271.1 530.7 L1273.1 529.8 L1274.7 533.4 L1275.5 536.0 L1277.6 534.8 L1278.6 537.3 L1280.7 539.9 L1281.5 540.2 L1284.2 543.5 L1285.9 552.1 L1287.8 551.1 L1289.3 554.5 L1290.9 554.3 L1292.2 557.1 L1293.8 551.9 L1294.9 543.8 L1297.0 533.0 L1298.7 529.4 L1300.0 523.3 L1301.5 518.6 L1303.7 512.6 L1306.2 511.6 L1307.0 512.6 L1308.8 513.8 L1310.6 513.9 L1312.0 517.7 L1313.1 519.4 L1314.6 516.8 L1316.4 525.7 L1317.7 518.8 L1319.0 515.4 L1320.6 511.4 L1322.5 510.4 L1323.8 518.1 L1325.3 509.8 L1326.5 507.6 L1327.9 502.5 L1329.2 503.0 L1331.6 502.7 L1332.8 498.3 L1334.4 496.5 L1335.9 504.7 L1337.3 496.1 L1338.5 492.1 L1339.9 491.7 L1342.0 486.9 L1343.6 485.1 L1345.1 484.0 L1346.5 485.1 L1347.4 487.6 L1349.6 483.3 L1350.8 481.1 L1352.3 481.4 L1354.2 479.6 L1355.5 478.0 L1356.8 484.0 L1358.6 480.6 L1359.8 477.5 L1361.0 476.4 L1363.0 477.7 L1364.6 478.3 L1365.9 480.1 L1367.1 479.1 L1369.2 487.3 L1370.5 487.1 L1371.5 483.0 L1373.4 482.8 L1374.9 488.7 L1375.9 484.9 L1377.9 487.6 L1379.0 486.7 L1380.2 486.7 L1382.4 483.3 L1384.1 482.7 L1385.1 482.3 L1386.9 478.7 L1388.5 476.8 L1389.4 481.4 L1391.1 475.3 L1392.9 471.9 L1394.6 472.5 L1395.7 472.9 L1397.7 476.1 L1399.2 480.2 L1400.2 480.1 L1401.7 481.5 L1403.4 481.6 L1404.9 483.1 L1406.6 484.2 L1407.6 487.6 L1410.0 488.8 L1412.1 493.1 L1413.7 491.9 L1415.1 494.2 L1416.6 495.3 L1418.5 503.8 L1419.7 502.7 L1421.6 511.8 L1422.9 508.9 L1424.2 513.5 L1425.7 508.0 L1427.4 517.2 L1428.9 509.6 L1431.1 507.7 L1433.4 513.1 L1434.7 508.1 L1436.5 502.4 L1438.1 503.3 L1439.2 506.4 L1440.7 501.9 L1442.3 496.9 L1444.0 497.5 L1445.5 497.9 L1446.6 496.6 L1448.6 499.6 L1449.9 495.7 L1451.3 498.9 L1452.6 501.0 L1454.5 505.2 L1456.0 500.4 L1457.2 503.9 L1459.0 500.8 L1460.5 499.6 L1461.6 500.2 L1463.4 497.8 L1464.5 500.3 L1466.2 501.6 L1467.8 497.9 L1469.5 499.9 L1471.0 504.5 L1472.4 507.9 L1473.4 507.6 L1475.0 505.0 L1476.9 507.1 L1479.0 506.3 L1481.5 504.2 L1482.8 501.2 L1484.4 498.2 L1485.4 498.2 L1487.2 497.6 L1489.1 491.7 L1490.0 492.5 L1491.6 487.5 L1493.2 498.3 L1494.9 489.6 L1497.5 484.4 L1499.4 484.9 L1500.4 483.7 L1502.1 480.2 L1503.6 479.6 L1505.1 479.8 L1507.1 484.7 L1508.1 479.8 L1509.9 476.8 L1511.1 481.5 L1513.1 478.4 L1514.5 475.3 L1515.6 486.7 L1517.4 477.5 L1518.8 478.4 L1520.4 477.5 L1522.1 473.2 L1523.1 472.2 L1525.5 473.0 L1527.8 473.1 L1529.2 482.7 L1531.0 477.8 L1532.1 476.7 L1533.5 480.6 L1535.1 477.7 L1536.4 477.1 L1538.7 479.8 L1539.7 480.1 L1541.6 480.7 L1542.8 480.7 L1544.6 482.7 L1545.8 488.2 L1547.0 483.4 L1548.6 483.2 L1550.2 485.2 L1551.5 485.6 L1553.4 479.1 L1554.5 478.7 L1556.3 474.5 L1557.8 473.2 L1559.7 473.4 L1560.7 471.8 L1562.6 476.4 L1565.0 474.3 L1567.1 475.1 L1568.3 472.9 L1570.2 477.5 L1571.6 474.2 L1572.7 470.6 L1574.5 469.9 L1575.5 471.2 L1577.1 473.8 L1579.1 473.5 L1580.1 472.8 L1582.9 474.6 L1584.8 475.6 L1586.0 471.9 L1588.0 467.8 L1589.4 463.7 L1590.6 460.7 L1592.0 458.8 L1594.2 458.8 L1595.4 453.7 L1596.9 464.0 L1598.5 451.8 L1600.0 448.2 L1603.1 442.8 L1604.2 440.6 L1606.0 444.1 L1607.6 438.7 L1609.2 438.1 L1610.7 438.5 L1612.1 434.3 L1613.1 430.9 L1614.7 432.0 L1616.5 430.4 L1617.7 435.3 L1619.6 436.9 L1620.7 441.9 L1622.0 438.7 L1623.9 434.3 L1625.0 433.5 L1627.2 434.8 L1628.0 434.5 L1630.0 445.3 L1631.2 438.3 L1632.5 437.0 L1634.2 440.7 L1635.8 439.1 L1636.9 445.1 L1638.5 451.1 L1640.3 451.1 L1641.6 441.9 L1643.4 442.1 L1646.6 447.4 L1647.5 453.0 L1648.9 460.8 L1650.8 463.6 L1652.6 469.2 L1653.9 467.9 L1655.1 471.7 L1656.9 479.0 L1659.3 481.4 L1661.3 485.5 L1663.0 490.2 L1664.5 487.3 L1665.7 487.2 L1667.1 488.0 L1668.7 495.5 L1670.3 500.9 L1671.5 504.1 L1673.0 506.8 L1674.5 505.5 L1676.4 502.2 L1677.9 500.2 L1680.0 501.6 L1682.2 500.7 L1684.2 508.2 L1685.2 512.0 L1686.9 510.6 L1688.0 507.5 L1690.0 512.8 L1691.0 510.4 L1693.1 509.8 L1694.2 508.1 L1695.9 516.7 L1697.5 519.9 L1698.6 518.3 L1700.1 519.2 L1701.4 513.9 L1703.2 524.2 L1704.7 517.1 L1707.1 529.4 L1709.1 520.5 L1710.7 528.3 L1712.4 519.9 L1713.6 520.2 L1715.5 519.2 L1716.8 525.5 L1718.5 516.3 L1720.0 511.4 L1721.1 510.2 L1723.0 510.9 L1725.0 508.4 L1727.3 513.2 L1729.0 508.9 L1730.3 510.7 L1731.5 514.4 L1733.3 514.8 L1734.5 513.1 L1736.5 512.9 L1738.1 512.5 L1739.0 507.8 L1741.0 508.4 L1742.3 507.8 L1745.0 519.5 L1746.6 510.3 L1748.6 508.8 L1749.4 510.1 L1751.7 511.0 L1752.7 511.3 L1754.7 508.1 L1755.6 510.3 L1757.6 513.8 L1758.6 515.4 L1760.0 510.8 L1762.0 513.6 L1763.6 511.8 L1764.9 511.0 L1766.0 513.8 L1767.5 512.7 L1769.4 516.0 L1771.0 511.3 L1772.6 512.3 L1774.0 506.3 L1775.7 502.7 L1776.6 504.7 L1778.5 503.9 L1781.6 511.2 L1782.6 513.4 L1784.5 525.7 L1785.9 524.8 L1787.5 528.2 L1790.0 535.4 L1792.1 543.5 L1793.7 548.7 L1794.5 554.2 L1796.7 560.9 L1797.9 564.4 L1800.0 566.8 L1802.5 564.6 L1803.8 565.8 L1805.4 560.7 L1806.4 559.6 L1808.2 555.4 L1809.8 558.6 L1810.9 552.1 L1813.7 547.5 L1815.8 546.0 L1817.1 546.5 L1818.5 554.2 L1820.7 551.6 L1821.5 550.1 L1822.9 564.1 L1824.7 555.6 L1826.7 553.0 L1827.4 557.1 L1829.0 563.1 L1830.6 557.0 L1832.0 562.3 L1834.0 558.0 L1835.1 558.2 L1836.7 558.8 L1838.6 553.2 L1839.6 552.1 L1841.1 551.5 L1843.1 556.0 L1844.5 551.4 L1846.2 547.9 L1847.6 561.3 L1848.9 550.9 L1850.0 550.9 L1851.5 549.6 L1853.1 548.0 L1855.0 545.5 L1857.4 541.8 L1859.7 538.4 L1860.7 538.1 L1861.9 535.3 L1864.0 537.2 L1865.5 540.9 L1866.6 531.8 L1868.0 530.0 L1870.3 527.2 L1873.0 532.9 L1874.3 529.9 L1876.1 529.6 L1877.2 533.9 L1879.1 534.4 L1880.4 532.9 L1881.7 536.0 L1883.4 543.7 L1884.7 541.0 L1887.0 538.2 L1889.4 542.7 L1890.7 553.7 L1892.2 565.3 L1893.4 560.6 L1895.6 570.3 L1897.8 574.9 L1899.6 570.3 L1900.9 572.3 L1903.2 567.8 L1904.4 576.1 L1906.0 566.9 L1907.2 568.4 L1908.4 566.2 L1910.5 563.0 L1912.1 567.1 L1913.3 560.6 L1914.5 566.4 L1916.2 557.2 L1917.7 554.6 L1918.9 553.2 L1920.7 555.6 L1922.0 561.3 L1924.0 558.1 L1925.5 555.5 L1926.8 558.8 L1928.5 555.4 L1930.2 556.0 L1931.1 554.3 L1932.8 556.5 L1934.6 558.1 L1935.5 558.9 L1937.5 556.1 L1939.2 556.0 L1941.5 554.6 L1943.3 559.2 L1944.9 558.0 L1946.1 555.1 L1947.8 553.5 L1949.0 551.7 L1950.9 563.6 L1952.3 565.2 L1953.5 556.8 L1955.3 553.9 L1956.9 560.1 L1958.2 557.2 L1960.0 562.4 L1961.3 559.3 L1962.8 550.8 L1964.0 556.4 L1965.4 552.1 L1967.2 562.2 L1968.9 552.0 L1970.6 550.0 L1971.8 552.5 L1973.3 549.3 L1975.0 550.3 L1976.2 557.1 L1978.1 554.7 L1979.3 553.2 L1980.7 548.8 L1982.6 548.8 L1983.6 549.5 L1985.0 548.3 L1986.7 549.0 L1988.7 552.7 L1989.9 550.2 L1990.9 548.9 L1993.0 551.2 L1994.1 549.6 L1995.8 549.6 L1997.4 549.2 L1999.0 548.8 L2000.5 548.0 L2001.8 553.9 L2003.5 548.9 L2004.4 550.7 L2006.4 549.2 L2008.0 549.8 L2009.6 549.1 L2010.7 547.1 L2012.0 548.2 L2013.9 547.9 L2015.2 555.2 L2016.9 551.8 L2017.9 550.8 L2019.5 546.4 L2021.4 555.4 L2023.0 552.6 L2024.4 551.6 L2025.7 545.5 L2027.4 547.2 L2029.1 546.4 L2030.6 545.4 L2032.1 550.6 L2033.3 556.8 L2035.5 548.8 L2038.2 548.6 L2039.0 551.0 L2040.4 544.7 L2042.0 551.3 L2043.9 547.8 L2045.6 549.1 L2046.5 547.1 L2048.3 546.6 L2049.4 545.0 L2051.2 545.4 L2053.0 548.2 L2054.5 549.4 L2056.0 550.9 L2057.3 547.0 L2058.4 545.8 L2060.4 548.0 L2062.0 558.3 L2063.2 551.1 L2065.9 550.2 L2067.8 547.7 L2068.9 555.3 L2070.4 549.2 L2072.3 550.4 L2073.8 553.2 L2075.4 551.3 L2076.9 555.7 L2078.6 548.9 L2079.9 551.9 L2081.1 548.4 L2082.7 554.7 L2084.2 554.2 L2085.7 551.4 L2087.6 549.2 L2088.5 547.4 L2090.1 550.3 L2091.9 550.8 L2093.1 548.3 L2094.7 547.9 L2096.5 557.6 L2098.0 548.9 L2099.6 546.1 L2100.8 547.1 L2102.6 548.9 L2103.7 544.3 L2105.0 544.3 L2106.8 543.3 L2108.5 542.9 L2109.4 542.0 L2111.3 542.9 L2112.5 555.7 L2114.4 548.9 L2116.2 550.8 L2117.5 543.2 L2119.0 544.4 L2120.4 540.6 L2122.1 538.4 L2123.5 541.8 L2124.8 543.3 L2127.1 537.4 L2129.5 535.9 L2130.5 534.3 L2132.3 532.7 L2133.7 531.8 L2135.3 531.3 L2136.8 530.4 L2138.1 529.4 L2139.5 535.3 L2141.6 530.4 L2142.5 527.6 L2145.0 535.5 L2147.1 529.4 L2148.8 526.1 L2150.1 528.7 L2151.5 531.9 L2153.5 527.1 L2154.8 525.8 L2156.4 525.8 L2157.8 523.5 L2159.2 523.2 L2161.1 523.5 L2161.9 522.5 L2163.8 524.6 L2167.0 522.9 L2168.4 521.9 L2170.0 519.9 L2171.6 522.3 L2173.2 523.4 L2174.6 519.0 L2176.0 522.4 L2177.6 515.4 L2179.1 512.2 L2180.5 520.5 L2181.7 515.7 L2183.7 510.6 L2186.5 512.7 L2188.0 516.2 L2189.1 515.2 L2190.7 512.3 L2192.3 510.9 L2193.4 522.3 L2195.0 519.0 L2196.5 513.9 L2198.1 513.3 L2199.8 517.6 L2201.5 517.2 L2202.7 515.9 L2204.3 518.2 L2205.6 517.4 L2207.0 531.7 L2209.7 527.3 L2212.0 525.1 L2212.9 522.2 L2214.5 527.0 L2216.0 523.4 L2217.8 528.9 L2219.4 525.5 L2221.2 532.7 L2222.1 528.2 L2224.0 529.3 L2225.5 533.3 L2227.0 529.0 L2228.1 532.8 L2230.0 530.8 L2231.5 536.2 L2233.0 545.6 L2234.3 540.9 L2235.9 535.2 L2237.3 533.6 L2239.1 533.1 L2241.8 535.8 L2243.6 536.4 L2244.5 535.8 L2246.0 543.8 L2248.0 540.8 L2249.1 541.5 L2250.5 547.4 L2252.1 544.5 L2254.2 542.6 L2255.0 545.4 L2256.7 555.9 L2258.7 547.1 L2259.4 550.9 L2261.6 555.3 L2262.5 550.8 L2264.5 554.4 L2265.4 550.5 L2267.8 554.3 L2270.1 557.1 L2271.7 551.7 L2273.3 550.3 L2274.4 553.4 L2276.4 552.2 L2278.2 554.0 L2279.5 562.2 L2280.9 562.3 L2282.4 559.2 L2283.5 560.5 L2285.2 558.2 L2286.9 557.8 L2288.2 560.2 L2289.7 560.0 L2291.2 566.7 L2293.0 563.1 L2295.3 570.0 L2297.5 565.2 L2298.8 575.7 L2300.1 567.3 L2301.8 566.4 L2303.6 567.9 L2304.9 568.3 L2306.2 567.6 L2307.4 574.1 L2309.3 583.0 L2310.6 572.9 L2312.0 571.0 L2314.1 580.2 L2315.1 576.0 L2317.0 577.5 L2318.6 588.9 L2320.1 588.6 L2321.4 583.9 L2322.9 586.0 L2324.2 590.7 L2326.0 587.7 L2327.5 586.7 L2328.9 589.1 L2330.1 590.9 L2331.4 594.6 L2334.0 594.7 L2336.2 594.0 L2337.8 601.5" stroke="#e8474a"/>
<path d="M373.1 261.9 L374.6 264.1 L376.0 262.1 L377.1 262.3 L378.5 261.8 L381.0 268.6 L382.9 290.8 L385.1 322.7 L386.7 347.3 L387.6 359.6 L389.0 377.3 L390.5 396.3 L392.3 413.1 L394.1 431.6 L395.2 443.8 L397.8 459.9 L400.1 444.2 L401.3 430.5 L402.6 417.0 L404.0 401.4 L406.2 382.8 L407.3 375.0 L409.8 359.7 L411.4 354.0 L413.4 351.9 L415.2 348.0 L416.0 345.9 L417.6 344.1 L419.2 342.1 L421.0 337.9 L422.3 335.3 L423.8 335.6 L424.9 332.3 L427.0 326.9 L428.2 326.3 L429.5 321.6 L431.7 318.9 L434.0 318.1 L436.0 332.3 L437.3 343.5 L438.5 355.7 L441.0 378.6 L443.5 399.9 L444.8 411.1 L447.3 425.9 L449.6 423.2 L450.7 418.0 L452.1 411.5 L455.0 399.4 L456.5 395.3 L458.3 387.8 L459.8 383.9 L460.9 379.0 L462.7 372.4 L464.7 369.5 L466.2 371.7 L466.9 374.1 L469.1 382.6 L470.6 387.0 L471.9 390.8 L473.0 395.6 L475.4 400.3 L477.7 399.3 L479.4 392.7 L480.7 388.2 L482.3 383.8 L483.6 381.5 L486.0 377.6 L488.6 384.6 L490.1 390.4 L491.0 394.2 L492.8 401.5 L494.2 405.1 L495.7 412.2 L498.0 423.1 L500.3 431.9 L501.8 436.4 L503.6 445.5 L504.7 450.3 L506.5 457.3 L508.0 464.8 L509.5 472.9 L511.5 476.9 L514.1 474.7 L515.1 472.4 L517.0 469.8 L518.3 468.6 L519.8 466.6 L522.2 461.2 L524.5 454.9 L525.7 450.0 L527.0 446.6 L529.0 440.6 L530.2 434.8 L533.0 430.8 L534.9 429.7 L536.3 432.7 L537.6 436.7 L539.5 440.8 L541.2 445.9 L542.5 452.0 L544.0 453.4 L545.2 455.0 L546.7 458.8 L549.0 464.6 L551.6 465.7 L552.8 465.7 L554.0 464.7 L555.8 466.6 L557.1 464.8 L558.9 464.3 L560.2 464.4 L562.4 464.6 L564.9 466.9 L566.4 468.6 L567.7 469.8 L569.7 471.1 L570.4 472.4 L572.5 476.0 L573.6 476.3 L574.9 475.6 L576.5 476.3 L578.4 478.0 L580.1 480.7 L581.5 484.2 L582.6 485.1 L584.3 487.2 L585.5 489.2 L587.2 492.1 L588.6 493.8 L589.9 495.6 L591.6 498.6 L593.6 502.0 L594.8 504.9 L597.2 508.3 L599.6 515.3 L600.5 518.7 L601.9 523.0 L603.5 528.8 L605.5 535.3 L607.1 541.1 L608.0 545.3 L609.9 550.6 L611.4 554.9 L613.2 561.0 L616.0 559.1 L617.2 558.8 L619.1 556.6 L620.7 554.8 L621.9 554.1 L623.0 554.4 L624.7 552.4 L626.8 550.5 L628.1 550.9 L629.2 549.3 L630.7 548.9 L632.4 549.1 L634.1 547.2 L635.1 546.6 L636.9 547.9 L638.4 546.4 L640.0 546.6 L643.2 554.6 L644.6 557.2 L645.5 560.4 L648.0 568.0 L650.2 563.1 L651.5 558.6 L653.2 554.5 L654.9 550.3 L656.5 548.3 L658.1 545.6 L659.6 540.5 L660.7 537.8 L662.3 533.7 L664.0 531.2 L665.4 527.1 L667.0 525.1 L668.5 522.9 L670.2 522.3 L671.6 520.7 L672.6 521.4 L674.0 518.1 L675.6 516.5 L677.5 514.6 L678.7 514.7 L680.3 514.3 L681.9 512.3 L683.7 508.7 L684.5 507.5 L686.6 507.9 L687.4 504.7 L689.4 501.6 L690.8 500.6 L692.1 499.8 L693.7 498.5 L695.2 495.3 L696.8 493.8 L698.0 493.9 L699.8 492.3 L701.0 489.8 L702.8 488.4 L704.3 485.8 L705.7 485.2 L707.0 485.2 L708.9 485.0 L710.3 484.6 L711.5 484.5 L713.1 484.5 L714.6 485.0 L716.7 489.4 L717.8 487.1 L720.5 486.1 L722.3 483.0 L723.8 478.8 L725.1 475.8 L726.6 472.8 L728.1 469.3 L730.0 465.0 L731.5 463.3 L733.8 457.9 L735.8 455.5 L737.5 456.6 L738.8 454.6 L740.6 453.6 L741.4 456.6 L743.5 453.6 L744.5 455.5 L747.2 452.6 L749.3 450.3 L751.0 448.6 L752.0 447.2 L753.4 445.7 L755.7 444.2 L756.8 442.9 L758.2 443.1 L760.6 445.0 L762.9 442.2 L764.6 439.2 L765.7 437.8 L767.0 441.0 L769.0 436.6 L770.1 435.9 L772.0 434.3 L774.0 432.8 L776.0 431.0 L777.6 433.2 L779.2 430.1 L781.1 429.3 L782.2 427.3 L783.7 430.1 L785.6 428.3 L787.4 425.0 L789.5 421.3 L791.3 418.9 L792.6 416.6 L794.2 415.0 L795.8 413.5 L797.3 410.3 L798.7 408.7 L800.0 408.4 L802.1 404.4 L803.6 403.0 L804.9 404.0 L806.1 400.1 L808.2 401.7 L809.0 402.3 L811.1 406.1 L812.4 410.1 L813.6 411.1 L815.4 413.9 L816.8 416.7 L817.9 419.6 L819.5 421.8 L821.5 430.4 L822.9 428.9 L824.0 432.7 L825.6 438.4 L827.5 441.5 L828.4 443.9 L830.2 444.8 L831.8 443.4 L833.2 442.1 L834.7 442.5 L836.3 441.2 L837.5 440.9 L839.6 440.7 L840.7 440.5 L842.4 440.0 L843.5 441.1 L845.4 438.4 L847.0 436.4 L848.1 433.1 L850.1 431.9 L851.6 427.3 L852.8 424.0 L854.1 421.7 L855.6 418.6 L856.9 417.9 L859.2 416.4 L860.7 414.7 L861.5 413.6 L863.7 411.2 L864.6 410.2 L866.6 410.7 L868.1 408.7 L869.9 408.2 L872.7 406.7 L874.0 407.0 L875.5 403.8 L876.6 403.1 L878.5 401.4 L879.4 400.3 L881.1 399.2 L882.6 398.5 L884.1 401.9 L885.8 400.2 L886.9 400.6 L889.2 403.7 L890.3 404.9 L892.0 407.5 L893.3 407.8 L894.5 408.2 L896.4 411.7 L899.1 422.1 L900.9 427.4 L902.0 430.4 L904.1 438.8 L906.6 447.3 L908.2 450.0 L910.1 453.5 L911.1 456.9 L912.5 460.9 L914.1 461.8 L916.8 469.2 L918.6 469.2 L920.3 469.8 L921.8 468.3 L923.5 471.0 L925.2 471.8 L926.4 470.4 L927.5 467.2 L929.0 467.9 L931.0 470.9 L932.7 474.3 L933.5 472.3 L935.4 481.3 L936.7 481.8 L938.1 487.4 L939.9 488.6 L941.5 489.5 L943.0 489.7 L944.1 491.1 L945.6 493.9 L947.3 495.5 L948.6 495.4 L950.1 497.5 L951.8 504.7 L953.2 501.7 L954.9 502.9 L956.7 509.0 L958.0 504.6 L959.0 505.8 L961.2 508.6 L962.2 511.2 L963.5 508.8 L965.1 510.9 L966.4 511.3 L967.7 511.3 L969.8 513.8 L971.0 517.3 L973.2 517.3 L974.2 520.1 L975.8 525.4 L977.2 523.1 L980.0 525.2 L981.8 525.7 L982.9 527.8 L984.9 534.6 L986.2 534.2 L987.5 534.5 L989.3 536.8 L991.0 543.3 L992.2 545.6 L993.5 540.1 L995.6 539.6 L996.8 533.7 L998.6 533.5 L999.7 527.9 L1001.6 521.2 L1003.1 519.3 L1004.4 519.2 L1006.1 514.0 L1007.4 511.5 L1008.9 511.4 L1009.9 513.8 L1011.9 512.0 L1013.4 511.4 L1015.1 504.8 L1016.2 502.0 L1017.5 501.6 L1018.7 499.7 L1020.7 499.2 L1022.2 495.9 L1023.9 503.1 L1024.9 502.1 L1026.4 493.9 L1028.7 490.4 L1030.1 490.7 L1031.5 486.4 L1032.8 485.1 L1035.0 486.0 L1036.9 490.9 L1039.0 493.9 L1040.1 493.9 L1042.0 502.9 L1043.2 504.1 L1044.6 498.8 L1046.2 496.7 L1047.7 495.6 L1049.1 494.1 L1051.3 493.5 L1053.9 495.9 L1055.4 496.9 L1058.0 500.3 L1059.9 501.7 L1061.5 506.8 L1062.9 506.5 L1064.4 508.1 L1065.9 510.7 L1067.2 511.8 L1068.9 514.0 L1070.3 520.8 L1071.6 519.9 L1073.6 522.7 L1074.7 524.1 L1076.0 536.3 L1078.7 539.2 L1080.5 535.5 L1081.9 541.9 L1083.7 540.7 L1085.1 540.5 L1086.5 537.3 L1088.1 536.7 L1089.8 534.9 L1091.1 534.8 L1092.8 537.9 L1094.2 540.0 L1095.7 539.5 L1097.0 541.9 L1099.0 545.9 L1101.0 544.0 L1103.1 544.9 L1105.2 546.8 L1106.5 548.7 L1108.1 552.0 L1110.5 563.0 L1112.5 559.6 L1113.6 561.0 L1115.1 562.4 L1117.0 566.5 L1118.2 575.3 L1120.1 570.3 L1123.1 567.3 L1124.2 566.4 L1125.9 575.7 L1127.6 571.6 L1129.7 570.5 L1131.4 565.3 L1133.2 562.2 L1134.5 561.0 L1136.4 564.4 L1137.7 563.0 L1139.0 563.6 L1141.0 560.4 L1142.5 558.7 L1144.1 561.9 L1145.6 560.4 L1146.8 560.8 L1148.4 556.0 L1150.1 559.8 L1151.7 560.8 L1152.7 553.2 L1154.1 552.0 L1155.6 550.4 L1157.1 548.3 L1159.0 546.7 L1161.5 541.4 L1163.4 544.4 L1164.9 540.6 L1166.3 544.8 L1168.0 540.9 L1169.0 548.9 L1171.0 541.8 L1171.9 544.4 L1174.1 539.8 L1175.3 540.6 L1177.5 538.7 L1179.6 538.9 L1181.6 536.0 L1182.5 532.7 L1184.2 528.9 L1186.0 526.2 L1187.6 532.7 L1188.5 527.9 L1190.0 523.2 L1191.9 520.9 L1193.4 520.4 L1194.6 523.4 L1195.9 517.8 L1197.7 510.4 L1199.6 506.9 L1200.9 508.0 L1201.9 507.5 L1203.5 501.5 L1205.6 494.2 L1207.7 492.3 L1209.9 494.6 L1211.5 498.7 L1213.1 502.1 L1214.4 504.1 L1215.7 509.4 L1217.6 511.0 L1218.9 514.4 L1220.6 516.2 L1222.1 518.2 L1223.6 522.6 L1225.0 519.8 L1226.2 520.8 L1227.5 519.7 L1229.4 526.6 L1231.6 522.7 L1233.6 519.0 L1235.2 520.6 L1236.7 515.4 L1238.5 510.7 L1239.9 511.2 L1241.2 511.5 L1242.9 509.0 L1244.5 518.7 L1245.8 512.8 L1246.9 518.6 L1249.0 515.1 L1250.5 512.4 L1251.5 511.6 L1254.0 511.5 L1256.4 513.5 L1257.5 516.9 L1259.2 519.1 L1260.4 518.7 L1262.6 523.1 L1265.1 528.7 L1266.7 528.5 L1268.5 529.8 L1269.8 530.5 L1271.0 533.1 L1273.0 536.7 L1274.5 536.8 L1275.4 540.1 L1277.6 543.5 L1279.4 553.8 L1281.9 549.7 L1283.6 546.0 L1284.8 543.6 L1286.1 546.5 L1287.7 549.3 L1289.0 540.6 L1290.9 537.4 L1292.3 534.5 L1294.1 532.6 L1297.1 527.5 L1298.7 526.5 L1299.7 525.4 L1300.9 526.6 L1302.5 525.2 L1304.1 522.3 L1306.9 515.9 L1308.9 511.3 L1310.3 509.6 L1312.1 509.7 L1313.0 508.0 L1314.7 505.7 L1316.5 503.5 L1317.9 499.2 L1319.6 495.8 L1321.0 494.1 L1321.9 495.4 L1324.0 492.4 L1325.3 492.9 L1327.1 488.4 L1328.0 490.1 L1329.7 486.8 L1332.4 486.1 L1334.4 483.6 L1336.1 478.8 L1337.3 478.8 L1338.8 476.8 L1340.3 473.3 L1341.6 470.7 L1343.5 468.3 L1345.0 469.6 L1346.3 466.1 L1347.7 474.6 L1349.2 469.6 L1350.5 461.8 L1351.9 467.5 L1354.1 458.9 L1355.2 461.4 L1357.9 454.3 L1359.6 456.9 L1361.1 454.7 L1362.9 456.1 L1364.3 454.0 L1365.9 465.6 L1367.4 457.8 L1368.8 455.6 L1370.6 461.6 L1372.9 460.7 L1374.8 464.5 L1376.7 462.4 L1378.0 467.0 L1380.2 467.1 L1382.0 467.9 L1383.9 469.1 L1385.2 471.8 L1386.9 471.2 L1388.7 471.0 L1389.9 477.1 L1391.5 474.0 L1392.4 472.7 L1395.0 479.3 L1397.1 485.6 L1398.8 482.2 L1400.2 481.6 L1401.8 481.0 L1403.0 481.8 L1405.0 485.8 L1406.1 485.4 L1407.7 492.9 L1409.0 494.6 L1410.4 495.3 L1412.0 497.1 L1414.2 497.0 L1415.5 497.7 L1417.0 501.5 L1418.0 501.9 L1419.6 504.4 L1421.6 508.6 L1423.1 514.2 L1424.0 511.8 L1425.9 512.3 L1427.4 516.1 L1428.7 514.8 L1430.2 514.6 L1431.6 519.5 L1434.3 515.8 L1436.5 515.2 L1437.4 513.0 L1439.3 522.1 L1441.1 512.8 L1442.0 509.7 L1443.4 505.7 L1445.5 507.3 L1446.6 505.4 L1448.4 502.4 L1450.3 498.7 L1452.7 508.3 L1453.9 512.0 L1455.6 509.8 L1457.3 505.1 L1458.8 507.1 L1460.2 503.3 L1461.9 503.3 L1463.5 504.1 L1464.5 508.5 L1466.2 513.1 L1467.7 515.1 L1469.4 510.3 L1471.1 509.7 L1472.5 507.2 L1473.7 513.7 L1475.5 513.1 L1476.7 514.4 L1479.0 512.0 L1481.2 522.2 L1483.1 513.4 L1483.9 510.8 L1486.0 505.8 L1487.3 506.1 L1488.4 507.9 L1490.2 503.0 L1492.0 503.5 L1493.6 499.2 L1494.9 502.8 L1496.5 496.8 L1498.1 493.6 L1499.7 495.9 L1500.8 490.1 L1501.9 487.0 L1503.9 483.6 L1504.9 482.7 L1506.5 487.3 L1508.0 482.1 L1509.9 485.8 L1511.0 496.0 L1512.9 501.3 L1514.5 504.5 L1516.0 506.0 L1517.3 506.1 L1519.2 509.8 L1520.1 508.8 L1521.9 504.9 L1523.1 515.6 L1524.7 514.2 L1526.1 504.8 L1528.2 500.9 L1530.0 499.7 L1532.0 494.9 L1533.6 500.2 L1535.0 496.0 L1536.6 497.7 L1538.3 493.5 L1539.7 497.2 L1541.3 489.9 L1543.0 492.8 L1544.2 487.1 L1545.8 485.1 L1547.8 485.6 L1550.4 481.3 L1551.5 478.6 L1553.0 481.3 L1554.9 476.9 L1556.5 474.9 L1557.5 473.6 L1559.3 481.7 L1560.5 474.5 L1562.2 474.4 L1563.9 470.4 L1565.4 471.0 L1566.7 473.3 L1568.6 468.4 L1570.0 476.1 L1573.2 465.3 L1574.1 462.9 L1576.1 460.0 L1577.4 458.6 L1579.2 462.4 L1580.2 461.3 L1582.1 456.9 L1583.2 453.4 L1585.0 450.6 L1586.5 449.6 L1588.1 448.7 L1590.0 446.4 L1591.9 443.1 L1594.0 438.9 L1595.4 436.2 L1596.5 434.1 L1598.5 433.4 L1599.7 437.5 L1602.0 429.1 L1604.5 430.2 L1606.0 431.1 L1607.6 433.1 L1609.1 439.6 L1609.9 438.7 L1611.9 445.7 L1613.7 448.5 L1615.0 447.4 L1616.5 453.2 L1617.6 456.3 L1619.3 461.5 L1620.5 465.4 L1622.4 481.0 L1624.1 485.7 L1625.5 487.0 L1627.0 491.0 L1629.0 489.8 L1631.1 487.7 L1632.8 484.8 L1634.6 481.6 L1635.6 477.5 L1637.2 476.4 L1639.1 473.3 L1639.9 472.2 L1641.4 471.3 L1643.4 469.9 L1645.1 477.7 L1646.0 481.3 L1647.8 479.8 L1649.4 474.3 L1650.4 474.4 L1652.6 478.8 L1655.0 477.7 L1656.8 491.7 L1658.2 484.3 L1660.0 492.8 L1660.9 496.1 L1662.7 488.9 L1663.9 488.1 L1665.8 490.2 L1667.3 495.9 L1669.0 496.9 L1670.2 495.9 L1671.4 504.9 L1673.1 500.3 L1674.8 509.6 L1676.1 501.9 L1677.5 499.3 L1679.5 499.1 L1680.9 500.3 L1681.9 499.8 L1684.0 507.7 L1685.0 515.9 L1687.0 507.0 L1688.6 507.0 L1689.6 506.8 L1690.9 507.1 L1692.8 509.2 L1694.3 508.1 L1695.7 509.3 L1697.2 509.3 L1699.2 514.2 L1700.7 512.0 L1701.5 516.2 L1703.3 513.5 L1704.6 511.5 L1706.4 511.9 L1707.6 514.9 L1708.9 516.8 L1710.8 513.9 L1712.1 513.4 L1713.9 514.6 L1715.1 513.9 L1717.1 514.7 L1718.4 526.5 L1719.8 520.4 L1721.3 516.3 L1722.9 516.8 L1724.3 517.0 L1725.8 527.2 L1727.1 521.1 L1729.0 515.9 L1730.2 520.1 L1731.6 515.4 L1734.2 515.7 L1736.2 518.5 L1738.0 514.9 L1739.1 514.1 L1740.4 515.3 L1742.1 516.4 L1744.0 511.6 L1745.0 516.8 L1746.9 523.1 L1748.4 513.5 L1750.0 515.2 L1752.7 510.5 L1754.6 511.1 L1755.7 513.2 L1756.9 513.3 L1758.8 514.5 L1760.0 518.5 L1761.5 522.5 L1763.1 521.4 L1764.8 526.5 L1766.3 527.0 L1767.7 529.6 L1768.9 530.3 L1770.9 529.0 L1772.4 526.5 L1773.4 526.0 L1775.5 531.4 L1776.9 536.5 L1778.3 535.0 L1780.1 539.5 L1781.0 538.7 L1782.9 538.3 L1785.0 542.0 L1787.4 543.6 L1788.9 544.2 L1790.2 544.9 L1792.1 549.2 L1793.3 548.0 L1794.6 549.2 L1796.0 548.9 L1798.4 550.1 L1799.6 552.1 L1800.9 563.6 L1802.5 561.7 L1804.2 559.5 L1805.5 552.9 L1806.7 550.7 L1808.5 552.5 L1809.9 558.6 L1811.1 562.9 L1812.9 558.8 L1814.7 564.6 L1816.2 554.5 L1817.2 554.6 L1819.1 555.4 L1820.1 551.5 L1821.7 554.3 L1823.1 552.0 L1824.4 554.7 L1826.7 559.6 L1827.5 553.1 L1829.1 552.0 L1830.7 551.8 L1832.6 555.0 L1833.6 558.2 L1835.2 555.2 L1836.8 557.5 L1838.6 556.5 L1840.0 561.4 L1841.5 559.0 L1843.0 553.1 L1843.9 557.1 L1846.1 550.8 L1847.1 550.6 L1848.8 555.3 L1849.9 561.1 L1852.1 552.7 L1853.0 549.3 L1855.2 552.2 L1856.3 547.7 L1858.0 545.7 L1859.4 548.2 L1860.4 544.1 L1862.4 541.8 L1863.6 543.4 L1865.0 552.5 L1867.1 544.5 L1868.1 544.1 L1870.1 543.3 L1871.1 539.0 L1873.0 533.8 L1874.5 531.7 L1875.7 534.3 L1878.0 530.8 L1880.1 531.0 L1881.4 535.2 L1883.5 539.1 L1885.1 535.0 L1886.2 540.7 L1887.6 537.6 L1889.1 538.1 L1890.8 549.7 L1892.7 544.8 L1894.0 548.0 L1895.5 545.4 L1896.7 547.1 L1898.1 548.9 L1900.0 549.6 L1901.6 547.9 L1902.9 552.8 L1904.7 551.0 L1905.8 551.5 L1907.2 556.5 L1908.4 554.1 L1910.1 551.0 L1912.0 564.0 L1913.5 559.0 L1914.6 552.9 L1916.2 551.6 L1917.5 551.3 L1919.2 552.7 L1920.7 555.7 L1922.6 559.7 L1923.9 558.3 L1925.6 562.0 L1926.5 557.7 L1928.1 554.2 L1930.1 550.8 L1931.1 549.0 L1932.7 555.2 L1934.0 551.5 L1935.4 548.7 L1937.4 546.8 L1938.7 547.8 L1940.2 544.8 L1941.7 544.3 L1943.7 539.5 L1945.9 540.5 L1947.5 541.8 L1948.9 542.2 L1950.9 541.7 L1952.3 548.1 L1953.5 555.9 L1955.2 548.4 L1956.5 549.1 L1958.3 544.6 L1960.0 551.4 L1963.1 546.9 L1964.5 546.7 L1966.2 545.6 L1967.3 545.1 L1968.8 545.4 L1969.9 545.7 L1972.1 547.3 L1973.5 548.4 L1974.9 550.1 L1977.4 547.5 L1979.5 549.4 L1981.0 550.7 L1982.1 547.5 L1984.0 547.7 L1985.3 547.0 L1987.0 544.8 L1988.0 544.6 L1990.1 545.7 L1991.2 546.4 L1993.1 550.0 L1995.7 549.1 L1997.4 554.2 L1998.4 549.2 L2000.1 547.1 L2002.2 547.6 L2003.4 547.4 L2005.0 548.4 L2006.3 558.3 L2007.7 556.7 L2009.0 550.6 L2010.9 550.6 L2012.7 550.4 L2013.8 551.2 L2015.0 557.4 L2017.0 556.8 L2018.0 557.8 L2019.9 564.5 L2021.6 555.4 L2022.5 554.4 L2024.7 555.2 L2026.0 553.0 L2027.6 550.0 L2028.5 548.5 L2030.3 547.7 L2032.0 548.5 L2033.5 547.6 L2034.6 547.3 L2036.7 546.7 L2038.6 546.7 L2041.1 550.1 L2042.6 549.7 L2044.1 550.7 L2045.3 551.0 L2047.1 552.2 L2048.6 551.9 L2049.9 553.0 L2051.4 552.8 L2052.5 556.9 L2054.1 553.2 L2056.2 554.7 L2057.4 554.2 L2060.0 553.5 L2061.9 554.5 L2063.2 555.8 L2064.8 555.8 L2066.1 560.1 L2067.6 560.1 L2069.3 558.2 L2070.8 559.0 L2072.5 561.2 L2074.0 566.1 L2075.2 561.1 L2076.6 563.0 L2078.4 564.9 L2080.0 562.3 L2082.8 570.3 L2084.5 574.5 L2085.7 568.8 L2087.2 580.5 L2089.0 580.5 L2090.5 575.2 L2091.9 574.7 L2093.5 579.1 L2094.7 579.2 L2096.7 579.0 L2097.9 582.0 L2099.5 581.3 L2102.5 577.5 L2103.4 577.2 L2105.3 575.8 L2106.9 573.0 L2108.2 572.5 L2110.1 585.1 L2111.6 581.3 L2112.8 574.7 L2115.0 580.4 L2117.5 569.8 L2119.1 564.0 L2120.2 561.9 L2121.7 562.1 L2123.3 562.0 L2125.0 560.1 L2126.4 559.6 L2128.2 554.8 L2129.3 558.0 L2130.7 564.7 L2132.4 551.8 L2134.2 547.4 L2135.4 551.1 L2136.9 545.8 L2138.4 545.6 L2140.0 542.7 L2142.8 541.2 L2144.1 543.6 L2146.0 539.9 L2147.4 544.5 L2149.0 539.1 L2150.5 536.8 L2151.8 534.8 L2153.6 536.1 L2154.7 533.3 L2156.6 543.7 L2157.9 535.9 L2160.0 538.3 L2162.2 538.1 L2164.1 530.2 L2165.5 526.4 L2167.1 524.7 L2168.4 524.2 L2170.1 522.1 L2171.0 525.2 L2172.8 527.8 L2174.0 520.9 L2176.0 520.0 L2177.1 526.0 L2178.7 520.4 L2180.3 517.6 L2181.7 514.0 L2183.3 512.3 L2185.2 516.4 L2187.7 514.0 L2189.0 513.8 L2190.5 521.5 L2192.0 522.5 L2193.7 521.1 L2195.0 522.8 L2196.6 530.5 L2198.6 531.6 L2199.9 531.5 L2201.5 531.0 L2203.1 532.7 L2205.0 545.9 L2207.3 540.1 L2209.1 543.5 L2210.4 542.1 L2212.0 545.2 L2213.3 544.3 L2214.7 545.4 L2216.3 546.4 L2217.6 548.3 L2219.5 549.5 L2220.9 553.5 L2222.2 553.0 L2223.9 554.7 L2225.1 559.4 L2227.1 557.3 L2228.0 558.5 L2229.8 558.7 L2231.2 568.6 L2232.5 562.7 L2234.1 561.6 L2235.4 560.2 L2236.9 565.0 L2238.6 559.9 L2240.6 556.4 L2241.4 570.1 L2243.0 562.1 L2244.6 561.1 L2246.4 553.7 L2247.9 550.6 L2249.6 549.3 L2250.8 548.5 L2252.2 549.3 L2254.1 547.0 L2255.6 544.5 L2258.0 545.6 L2259.5 552.0 L2261.3 553.2 L2262.7 554.6 L2263.9 551.9 L2265.7 552.5 L2268.0 555.7 L2270.4 566.1 L2272.0 564.8 L2273.6 568.5 L2274.9 581.5 L2276.0 587.3 L2277.5 590.5 L2280.0 584.8 L2282.6 587.0 L2283.5 587.0 L2285.6 589.7 L2286.4 587.9 L2288.5 592.4 L2289.6 591.4 L2291.4 594.3 L2292.4 598.2 L2295.0 597.1 L2297.1 603.2 L2298.5 599.9 L2300.2 612.1 L2302.0 606.9 L2303.3 608.3 L2304.4 606.3 L2306.7 614.4 L2307.4 610.3 L2309.4 623.8 L2310.8 621.4 L2312.4 621.2 L2313.7 619.7 L2315.3 616.5 L2316.5 614.4 L2318.5 616.7 L2319.6 615.9 L2321.3 625.6 L2322.5 621.0 L2324.0 626.1 L2325.7 619.4 L2327.1 619.7 L2328.6 622.1 L2330.6 626.8 L2331.9 621.4 L2334.0 620.5 L2335.9 619.9 L2337.6 621.4" stroke="#6ebf6f"/>
<path d="M373.1 261.1 L374.2 262.2 L376.0 261.9 L377.6 262.4 L378.9 265.0 L381.0 271.9 L383.5 310.4 L384.8 336.5 L386.4 367.0 L388.0 398.7 L390.9 452.2 L392.5 481.3 L393.7 503.9 L396.4 536.6 L398.4 529.3 L400.2 513.0 L401.1 500.7 L403.0 481.7 L404.6 468.6 L405.8 462.3 L407.2 450.2 L410.0 431.7 L411.5 427.2 L413.6 422.7 L414.5 421.1 L415.9 418.1 L418.1 415.0 L419.5 412.1 L421.2 409.0 L422.5 405.5 L424.1 403.2 L425.9 403.6 L428.0 415.7 L430.1 431.3 L431.5 443.4 L432.6 452.4 L435.0 469.7 L437.6 487.1 L438.9 495.7 L440.1 502.5 L441.9 514.4 L443.3 516.9 L445.0 511.8 L446.7 498.3 L448.1 487.2 L449.2 477.7 L450.4 469.7 L453.0 451.7 L455.5 437.4 L457.0 431.2 L458.1 426.0 L460.2 416.4 L461.2 414.9 L463.3 406.8 L466.2 414.4 L467.6 420.5 L468.5 425.1 L470.6 434.4 L471.6 439.1 L473.5 448.3 L474.9 455.0 L476.7 459.3 L479.6 457.0 L480.4 453.1 L482.0 449.6 L484.2 444.7 L485.5 440.3 L487.4 439.5 L489.9 452.6 L491.3 462.1 L492.5 469.1 L494.1 479.4 L495.7 489.6 L497.0 499.4 L498.7 509.6 L500.5 519.4 L502.0 528.9 L503.5 537.6 L504.8 542.1 L506.2 544.8 L507.4 541.8 L509.2 532.3 L511.0 522.6 L512.2 515.7 L513.6 506.4 L515.0 499.6 L516.9 488.7 L518.3 479.4 L520.0 470.7 L522.5 461.4 L524.0 456.6 L525.6 451.4 L527.0 446.3 L529.2 439.7 L530.4 436.3 L531.5 434.3 L533.0 433.1 L534.7 445.6 L536.1 455.8 L537.7 474.4 L539.4 488.3 L540.5 498.3 L543.0 520.9 L545.0 537.6 L546.9 558.4 L548.7 572.2 L549.4 580.6 L551.4 596.7 L553.0 604.1 L554.3 605.0 L555.5 604.1 L557.5 600.4 L558.7 596.3 L560.1 592.9 L562.0 587.9 L562.9 587.5 L564.6 583.4 L566.6 577.2 L567.5 575.7 L570.0 570.2 L572.3 563.9 L573.7 560.7 L575.3 557.2 L577.1 554.0 L578.1 550.4 L580.0 544.9 L581.4 541.9 L582.9 538.6 L583.9 535.5 L585.4 531.5 L587.0 529.4 L589.0 528.8 L591.6 535.2 L593.6 543.9 L594.9 549.6 L596.2 555.3 L597.9 563.0 L600.0 571.2 L602.2 579.5 L603.6 585.2 L605.3 591.0 L606.5 595.5 L608.2 601.6 L610.5 606.8 L612.4 606.2 L614.2 603.4 L616.1 600.9 L617.6 598.3 L618.7 597.3 L620.4 594.6 L622.0 593.1 L623.2 591.1 L624.5 588.5 L626.8 585.1 L629.3 582.6 L631.0 581.8 L632.7 580.6 L633.6 579.2 L634.9 578.5 L636.9 577.3 L638.1 576.3 L640.1 574.5 L641.5 572.8 L642.8 572.5 L644.5 572.6 L646.2 570.6 L647.5 572.1 L648.6 572.2 L650.3 569.0 L651.5 566.6 L653.4 565.0 L654.7 566.5 L656.0 566.0 L657.6 566.8 L659.2 564.1 L661.0 561.0 L661.9 562.9 L663.5 563.2 L665.1 559.2 L667.1 559.5 L668.0 557.5 L669.6 555.5 L671.5 550.4 L672.7 548.8 L674.4 543.0 L675.9 539.3 L677.5 537.8 L678.6 534.9 L680.3 529.8 L682.0 526.8 L683.0 526.3 L684.4 526.1 L686.4 523.9 L688.1 526.6 L689.4 525.3 L691.0 523.6 L691.9 522.7 L693.7 521.2 L695.2 520.2 L696.7 520.1 L698.5 519.4 L699.9 519.2 L701.3 518.9 L702.5 518.7 L704.6 518.3 L707.0 516.2 L708.8 507.3 L710.4 497.6 L711.8 492.4 L713.4 482.7 L715.0 475.4 L716.7 474.8 L717.8 477.8 L718.9 480.0 L720.6 483.6 L722.6 489.8 L724.0 491.7 L725.3 494.4 L726.6 498.4 L728.5 501.4 L731.0 509.7 L732.5 507.2 L734.5 502.7 L735.9 502.3 L737.5 498.7 L738.5 494.9 L740.6 490.9 L741.8 489.9 L743.5 486.9 L744.6 484.2 L746.2 484.3 L747.7 480.9 L750.0 476.6 L752.3 463.4 L754.0 456.7 L755.4 447.4 L757.0 437.4 L758.3 430.5 L760.6 420.9 L762.5 424.2 L763.9 429.1 L766.1 437.9 L767.3 443.7 L768.8 449.9 L770.4 455.3 L771.8 460.7 L774.0 469.3 L776.3 480.3 L778.0 485.0 L779.2 489.7 L780.6 494.3 L782.4 503.2 L784.7 506.7 L787.1 502.0 L788.5 494.2 L789.6 489.1 L791.6 481.2 L793.0 475.7 L794.1 470.5 L795.6 464.3 L797.7 456.0 L799.1 452.5 L800.0 448.7 L801.5 441.9 L803.4 436.5 L804.9 435.9 L806.4 438.8 L807.4 440.8 L809.5 449.1 L810.8 448.1 L812.4 451.9 L814.0 454.5 L815.4 456.8 L816.9 463.6 L819.5 466.7 L821.3 469.5 L823.1 474.4 L824.5 479.0 L825.9 483.2 L827.2 487.9 L828.7 490.5 L830.2 491.8 L831.9 489.8 L833.4 486.6 L834.8 483.4 L836.5 481.1 L838.2 476.0 L839.0 473.9 L841.0 470.3 L842.4 469.8 L843.6 467.7 L845.2 461.1 L846.5 457.7 L848.0 454.4 L849.8 450.2 L851.2 446.5 L853.0 443.2 L855.0 438.7 L857.2 437.3 L859.2 432.4 L860.4 434.8 L861.7 429.3 L863.6 424.6 L865.0 423.4 L866.6 420.4 L867.6 418.4 L870.0 415.6 L872.0 412.7 L873.4 409.9 L875.3 407.5 L876.9 405.8 L878.1 404.3 L879.5 403.7 L882.1 401.6 L883.9 404.1 L885.5 411.2 L887.0 415.0 L888.7 416.5 L890.4 421.2 L892.3 424.3 L894.7 426.5 L896.1 429.8 L898.1 430.2 L899.6 434.4 L900.8 434.1 L902.4 436.1 L903.6 435.9 L905.4 437.6 L907.1 438.8 L908.6 440.0 L910.6 442.3 L913.0 448.7 L914.1 452.6 L915.6 456.4 L917.2 457.8 L918.8 460.6 L920.3 461.6 L921.8 464.4 L923.4 470.4 L924.4 470.5 L927.0 477.2 L928.9 476.6 L930.6 477.9 L932.3 479.5 L934.1 481.4 L935.0 486.5 L936.8 488.8 L938.3 488.2 L940.0 490.2 L941.3 489.9 L942.7 492.1 L944.2 491.7 L946.0 502.0 L947.3 504.2 L949.1 504.8 L950.4 506.5 L951.6 511.1 L953.3 510.8 L954.5 512.7 L956.6 515.3 L958.1 519.9 L959.2 525.7 L960.7 527.5 L962.2 529.9 L963.7 535.6 L965.5 542.4 L966.9 541.8 L968.6 546.1 L969.8 547.6 L971.8 547.9 L973.0 550.0 L974.1 550.7 L975.5 551.9 L977.1 554.4 L978.7 556.1 L979.9 554.8 L981.5 559.2 L983.4 558.8 L984.7 562.9 L986.3 560.8 L987.8 561.6 L990.2 560.4 L992.6 563.3 L994.1 556.8 L995.1 557.4 L996.7 548.2 L998.3 544.3 L1000.0 545.8 L1001.4 537.9 L1003.0 532.1 L1004.4 527.9 L1007.1 525.8 L1008.8 523.8 L1010.2 532.0 L1011.7 524.0 L1013.2 520.8 L1015.2 521.1 L1016.1 517.7 L1018.7 515.1 L1020.6 515.0 L1022.4 517.9 L1023.5 521.0 L1025.5 513.7 L1026.7 513.7 L1028.4 520.1 L1029.5 512.6 L1031.2 510.6 L1033.1 509.4 L1035.0 515.0 L1037.2 517.6 L1039.0 523.1 L1040.0 527.3 L1043.2 538.5 L1044.5 540.2 L1046.6 538.9 L1047.9 535.8 L1049.2 536.7 L1051.2 534.0 L1052.0 536.5 L1053.8 534.9 L1055.4 534.2 L1056.9 533.9 L1058.7 539.0 L1059.5 538.9 L1061.5 542.6 L1062.5 554.4 L1064.1 551.2 L1065.6 553.6 L1067.1 554.5 L1068.5 554.0 L1069.9 554.4 L1071.8 560.0 L1073.6 555.5 L1074.6 558.9 L1075.9 557.9 L1077.6 556.9 L1079.1 558.5 L1080.4 557.1 L1081.9 558.0 L1083.8 564.8 L1085.2 560.9 L1086.6 559.6 L1088.5 561.5 L1090.1 562.3 L1091.4 561.8 L1092.5 562.7 L1094.6 569.5 L1096.0 567.2 L1097.8 566.9 L1100.1 572.5 L1101.5 575.2 L1103.6 577.4 L1105.1 586.2 L1106.2 584.2 L1109.0 593.3 L1110.7 591.4 L1112.5 595.2 L1113.6 596.1 L1114.9 593.4 L1116.9 595.0 L1118.6 596.3 L1120.1 598.8 L1121.7 599.4 L1122.5 595.9 L1124.1 596.8 L1125.9 591.8 L1127.2 588.8 L1129.7 579.1 L1132.1 576.7 L1133.1 575.2 L1134.8 575.9 L1136.2 575.1 L1138.1 574.1 L1139.4 573.5 L1140.7 575.1 L1142.4 574.9 L1145.4 571.6 L1147.1 571.3 L1148.5 568.8 L1150.0 567.9 L1151.0 566.2 L1153.6 571.0 L1155.5 565.1 L1157.1 567.0 L1159.0 563.8 L1160.2 568.6 L1162.2 562.0 L1163.5 562.3 L1165.0 561.4 L1166.2 563.8 L1168.1 559.0 L1169.6 561.8 L1171.1 557.4 L1172.7 560.9 L1174.1 560.5 L1175.2 567.0 L1177.1 562.9 L1178.3 559.9 L1179.5 557.1 L1181.0 556.6 L1183.0 556.1 L1185.4 557.1 L1187.2 557.9 L1189.1 560.8 L1190.5 564.0 L1191.7 562.6 L1193.4 561.3 L1194.8 561.3 L1196.6 558.1 L1197.8 557.1 L1198.9 556.1 L1200.7 552.2 L1202.5 551.6 L1203.7 549.8 L1205.5 546.4 L1206.6 547.6 L1209.3 545.0 L1211.1 554.4 L1212.9 552.0 L1214.7 554.8 L1215.9 555.7 L1216.9 554.3 L1218.9 559.9 L1220.2 557.2 L1221.4 555.4 L1223.7 556.1 L1224.6 556.5 L1226.5 554.3 L1227.5 556.5 L1230.0 552.4 L1232.7 547.0 L1234.0 548.8 L1235.2 544.1 L1236.4 539.2 L1238.0 537.3 L1239.6 536.1 L1241.2 530.9 L1243.2 528.1 L1244.3 529.5 L1245.5 528.7 L1247.6 539.5 L1249.0 537.8 L1250.3 536.9 L1252.1 531.8 L1253.5 531.3 L1254.7 530.6 L1257.1 534.7 L1259.3 540.5 L1260.7 543.4 L1262.7 546.8 L1263.8 550.6 L1265.1 554.3 L1267.0 560.0 L1268.6 567.8 L1269.9 573.9 L1272.8 570.1 L1274.0 574.5 L1276.0 572.4 L1277.6 569.7 L1278.6 570.4 L1280.7 567.7 L1282.0 565.6 L1283.1 569.3 L1285.8 565.9 L1287.6 565.6 L1289.7 563.5 L1290.7 560.9 L1292.5 561.6 L1293.5 559.1 L1295.5 556.4 L1296.5 555.2 L1298.9 560.0 L1301.6 560.2 L1302.6 567.9 L1304.0 571.6 L1306.2 570.5 L1307.0 576.9 L1308.4 575.6 L1310.1 573.6 L1311.9 569.5 L1313.2 565.5 L1315.1 554.4 L1316.5 552.0 L1317.9 546.2 L1319.2 540.7 L1321.0 530.3 L1322.8 524.7 L1325.6 517.6 L1327.0 517.7 L1328.6 519.4 L1329.6 524.3 L1331.3 513.4 L1332.8 509.5 L1334.1 514.4 L1335.5 506.9 L1337.4 504.0 L1339.0 502.4 L1340.3 508.9 L1341.9 502.6 L1343.3 493.5 L1345.1 491.0 L1346.4 492.6 L1347.8 495.5 L1349.5 499.9 L1351.0 500.2 L1352.6 503.6 L1353.9 509.0 L1355.4 507.6 L1357.9 514.6 L1359.7 511.9 L1361.6 506.0 L1363.1 503.3 L1364.6 500.6 L1366.1 507.2 L1367.4 498.0 L1369.0 497.7 L1370.0 489.4 L1371.9 484.2 L1373.0 483.0 L1374.6 475.8 L1376.0 477.2 L1377.7 470.5 L1380.2 463.0 L1382.6 466.8 L1383.7 465.5 L1384.9 466.8 L1387.1 469.5 L1388.3 472.7 L1389.6 475.4 L1391.2 475.1 L1392.9 476.3 L1395.0 476.8 L1397.3 480.0 L1399.2 484.0 L1400.7 492.5 L1402.0 490.5 L1403.0 490.8 L1405.0 494.9 L1406.4 496.7 L1407.5 504.3 L1408.8 504.0 L1411.1 504.8 L1412.6 504.9 L1413.8 511.3 L1415.6 516.1 L1417.1 516.9 L1418.3 513.1 L1419.8 515.9 L1421.6 516.9 L1423.2 517.6 L1424.5 517.5 L1426.2 518.9 L1427.2 526.2 L1429.1 533.9 L1430.2 527.9 L1432.0 529.3 L1434.3 527.0 L1435.9 525.8 L1438.1 527.9 L1439.2 525.6 L1440.4 523.1 L1442.2 522.0 L1443.9 522.0 L1447.0 523.5 L1448.6 523.8 L1450.0 528.5 L1451.1 529.0 L1453.1 528.2 L1454.4 530.2 L1455.7 530.2 L1457.0 530.9 L1459.8 540.6 L1461.6 539.4 L1463.2 543.3 L1465.1 538.9 L1465.9 540.1 L1468.0 538.6 L1469.4 549.9 L1470.8 543.6 L1472.4 542.1 L1473.7 541.1 L1475.8 542.7 L1478.6 539.5 L1480.0 533.8 L1481.1 541.1 L1482.5 532.0 L1484.2 528.0 L1486.1 516.0 L1486.9 515.4 L1488.8 509.8 L1490.3 504.0 L1491.7 502.4 L1493.6 499.3 L1495.0 501.8 L1496.2 503.5 L1497.6 501.8 L1499.2 501.3 L1501.2 502.2 L1502.6 506.1 L1503.7 502.0 L1505.7 503.4 L1507.6 505.5 L1509.4 502.8 L1511.4 502.0 L1512.9 504.3 L1514.0 514.5 L1515.6 506.1 L1516.9 509.2 L1518.4 507.7 L1520.4 510.5 L1521.9 506.6 L1523.6 507.0 L1524.4 509.0 L1525.9 513.6 L1528.1 518.6 L1530.0 514.4 L1532.2 517.3 L1534.1 518.4 L1535.7 523.4 L1536.5 523.4 L1538.2 524.5 L1539.9 525.4 L1541.2 531.9 L1542.7 519.9 L1544.1 513.4 L1545.7 513.3 L1547.0 509.6 L1548.5 508.2 L1550.0 504.5 L1552.1 501.6 L1553.0 496.3 L1554.9 498.9 L1556.5 492.8 L1558.0 490.5 L1559.1 493.2 L1560.5 484.7 L1563.0 478.0 L1564.9 474.9 L1567.0 473.3 L1568.3 471.0 L1570.1 466.5 L1571.0 462.0 L1572.7 459.9 L1574.7 455.8 L1576.5 456.3 L1579.1 454.9 L1580.0 460.9 L1581.7 459.5 L1583.5 459.8 L1584.7 463.8 L1586.2 468.6 L1588.0 465.6 L1590.0 471.3 L1592.3 470.4 L1593.6 465.5 L1595.0 465.6 L1596.8 470.2 L1598.1 463.6 L1600.0 463.0 L1601.4 460.0 L1602.5 458.8 L1604.0 461.3 L1605.9 468.8 L1607.0 460.4 L1609.2 455.7 L1610.2 455.0 L1611.5 453.0 L1613.0 457.6 L1615.0 453.1 L1616.5 452.0 L1617.8 453.7 L1619.6 449.8 L1622.0 446.3 L1623.9 452.9 L1624.9 448.4 L1627.2 444.8 L1628.6 448.4 L1629.6 445.2 L1631.2 447.9 L1632.5 447.4 L1635.4 444.3 L1637.1 448.6 L1639.0 450.2 L1640.1 451.5 L1641.7 449.2 L1643.3 455.1 L1645.0 457.7 L1647.7 462.8 L1649.5 464.0 L1650.5 464.5 L1652.0 470.0 L1654.2 473.7 L1656.1 472.7 L1658.5 476.2 L1659.9 475.4 L1661.6 474.1 L1662.8 475.1 L1664.5 476.0 L1665.8 477.2 L1667.2 478.2 L1668.6 479.4 L1670.3 478.3 L1671.6 477.6 L1673.6 485.2 L1675.1 484.0 L1676.1 484.0 L1677.4 480.7 L1680.0 489.4 L1682.1 486.0 L1684.0 485.9 L1685.2 490.1 L1687.1 486.2 L1688.6 486.2 L1689.4 486.6 L1690.9 484.9 L1692.9 487.8 L1694.6 489.6 L1695.5 487.4 L1697.1 487.8 L1699.2 487.7 L1701.5 490.2 L1703.3 489.6 L1704.5 495.0 L1706.2 498.1 L1708.0 492.6 L1709.3 489.6 L1711.0 488.2 L1712.6 487.1 L1713.9 495.6 L1715.7 488.4 L1716.4 486.2 L1717.9 491.7 L1719.9 489.1 L1721.5 485.6 L1722.5 484.5 L1725.0 488.0 L1727.2 489.8 L1729.1 493.0 L1730.5 488.4 L1731.9 490.9 L1733.2 485.5 L1734.8 485.1 L1736.4 488.8 L1737.6 484.0 L1740.0 483.1 L1742.6 482.8 L1743.9 487.6 L1745.1 484.7 L1746.4 486.0 L1748.5 495.2 L1750.0 486.7 L1751.5 486.9 L1752.5 485.0 L1755.0 488.0 L1757.2 486.9 L1758.9 487.4 L1760.0 493.3 L1762.1 492.2 L1763.6 492.2 L1764.4 491.7 L1766.5 493.9 L1767.8 496.2 L1769.4 499.8 L1770.5 499.2 L1772.1 502.6 L1775.0 506.1 L1776.8 507.2 L1778.1 512.2 L1780.0 516.3 L1781.0 519.9 L1783.1 524.4 L1784.2 528.7 L1785.8 531.9 L1787.3 542.5 L1788.8 544.4 L1790.0 546.2 L1792.0 547.0 L1793.1 552.1 L1794.9 554.3 L1796.1 557.1 L1797.5 562.4 L1800.0 570.7 L1802.4 572.3 L1803.6 575.9 L1805.6 574.6 L1806.8 571.7 L1808.2 568.9 L1810.1 570.9 L1811.6 573.5 L1813.0 578.8 L1815.0 574.5 L1817.0 576.0 L1818.7 572.4 L1820.1 574.2 L1822.0 572.9 L1823.7 570.8 L1824.5 575.0 L1826.2 572.3 L1827.6 579.4 L1829.4 573.2 L1830.5 571.7 L1832.0 573.8 L1833.8 575.1 L1835.0 574.6 L1836.4 571.2 L1838.0 571.1 L1839.5 571.6 L1841.4 569.9 L1842.8 573.5 L1844.4 575.2 L1845.5 575.6 L1847.4 574.5 L1848.7 572.2 L1850.4 568.8 L1851.8 568.9 L1853.1 568.1 L1854.5 576.7 L1856.0 575.3 L1857.6 568.4 L1859.0 564.4 L1860.7 558.7 L1862.0 556.9 L1863.8 554.4 L1865.3 554.2 L1866.6 553.9 L1868.1 562.1 L1869.9 552.5 L1871.4 546.5 L1872.8 543.3 L1874.0 541.0 L1875.9 538.1 L1877.7 538.2 L1879.5 537.1 L1881.8 542.8 L1883.3 548.4 L1885.0 543.5 L1886.5 555.2 L1887.5 549.2 L1889.3 551.6 L1890.7 560.1 L1892.2 561.8 L1893.4 555.1 L1895.0 555.0 L1896.5 556.3 L1898.0 557.1 L1899.9 563.0 L1901.4 564.0 L1903.1 571.0 L1904.2 569.2 L1905.6 574.7 L1907.1 574.6 L1910.0 581.1 L1911.8 581.6 L1913.5 588.8 L1914.7 581.6 L1916.5 580.8 L1918.1 590.1 L1919.4 584.5 L1921.1 582.4 L1922.6 584.5 L1923.9 584.6 L1925.2 584.9 L1927.0 589.6 L1928.1 579.8 L1929.6 583.2 L1931.4 576.3 L1932.8 574.4 L1934.4 574.2 L1936.0 574.2 L1937.2 569.9 L1938.5 568.4 L1940.1 567.1 L1942.1 563.8 L1943.7 560.4 L1945.0 558.4 L1946.8 559.2 L1948.1 558.5 L1949.0 558.8 L1950.6 559.8 L1952.5 562.0 L1953.8 562.4 L1955.2 566.8 L1956.7 574.6 L1958.4 574.2 L1960.1 571.8 L1962.1 570.1 L1964.3 573.6 L1966.1 578.2 L1967.4 574.6 L1969.1 573.1 L1970.2 568.6 L1972.1 566.7 L1973.2 566.0 L1974.5 567.4 L1976.5 568.4 L1978.0 573.2 L1979.4 577.4 L1980.9 566.9 L1982.5 564.7 L1984.1 562.2 L1985.5 559.8 L1986.5 564.0 L1988.5 562.4 L1989.5 568.1 L1991.4 562.1 L1992.7 558.4 L1994.4 557.9 L1996.1 557.5 L1997.6 572.1 L1998.9 564.0 L2000.3 564.9 L2001.5 571.3 L2003.4 569.4 L2005.1 568.7 L2006.5 569.6 L2008.0 568.8 L2010.9 576.8 L2012.3 576.6 L2013.7 572.8 L2015.6 582.6 L2016.6 576.9 L2018.6 583.5 L2020.1 585.2 L2021.7 588.2 L2023.3 584.2 L2025.8 578.5 L2027.5 586.9 L2028.6 577.2 L2029.9 579.8 L2032.1 573.6 L2033.3 573.9 L2035.1 568.1 L2036.1 564.7 L2038.6 563.2 L2040.7 565.4 L2042.6 569.7 L2043.5 570.7 L2044.9 566.7 L2046.9 566.5 L2048.4 566.5 L2049.5 571.3 L2051.5 570.5 L2052.5 569.1 L2055.0 571.5 L2057.6 582.0 L2058.7 577.8 L2060.3 581.8 L2061.4 588.6 L2063.6 589.7 L2064.6 586.8 L2066.2 590.7 L2067.8 581.9 L2069.0 578.6 L2070.6 582.5 L2072.0 580.0 L2073.7 591.0 L2074.9 583.6 L2076.6 582.5 L2078.0 588.1 L2079.9 584.9 L2081.0 582.2 L2082.7 580.9 L2084.4 580.1 L2085.6 581.1 L2087.4 578.2 L2088.5 576.6 L2090.0 586.7 L2092.0 585.3 L2093.4 587.7 L2094.4 580.2 L2096.3 579.5 L2098.0 577.4 L2099.2 580.4 L2100.5 577.5 L2102.4 576.1 L2104.1 575.7 L2105.7 576.1 L2106.9 582.7 L2108.5 579.0 L2109.4 576.6 L2111.3 573.8 L2113.0 571.4 L2114.5 578.4 L2115.8 573.9 L2117.0 571.1 L2118.7 568.5 L2120.0 570.8 L2122.1 568.6 L2123.2 567.4 L2125.0 571.0 L2126.4 567.9 L2127.5 564.7 L2129.6 563.4 L2130.8 561.4 L2132.1 558.6 L2133.4 564.2 L2135.0 558.9 L2137.1 554.0 L2138.2 554.6 L2140.0 564.4 L2142.8 555.4 L2143.9 553.3 L2146.1 558.2 L2147.5 554.7 L2148.6 556.7 L2150.4 561.5 L2151.8 558.7 L2153.6 557.4 L2155.2 555.6 L2157.7 554.8 L2159.7 554.5 L2160.6 550.1 L2162.4 550.7 L2163.6 544.2 L2165.5 540.6 L2166.6 535.8 L2168.7 529.1 L2169.5 527.4 L2171.1 522.3 L2173.0 518.5 L2175.6 520.5 L2177.4 521.3 L2178.6 522.1 L2180.6 537.9 L2181.5 529.7 L2183.0 525.9 L2185.0 531.6 L2186.3 536.4 L2187.4 533.4 L2189.5 534.8 L2191.1 532.0 L2192.8 538.5 L2194.2 535.9 L2195.6 534.7 L2197.0 544.5 L2198.5 540.1 L2199.9 542.2 L2201.5 549.0 L2202.9 547.1 L2204.0 545.7 L2205.5 554.6 L2207.0 549.9 L2208.5 555.7 L2211.2 551.0 L2213.1 553.8 L2214.5 554.3 L2216.5 551.4 L2217.7 549.8 L2219.5 549.2 L2220.6 550.4 L2222.2 549.3 L2223.7 556.8 L2225.3 550.8 L2226.5 560.4 L2228.4 553.6 L2229.7 552.8 L2231.7 550.0 L2233.1 553.9 L2235.0 551.7 L2237.5 553.9 L2239.2 552.5 L2239.9 550.5 L2241.6 551.4 L2243.6 551.1 L2245.2 555.7 L2246.3 555.6 L2247.9 562.6 L2249.5 557.5 L2250.9 558.4 L2252.0 555.0 L2255.0 559.7 L2257.0 563.7 L2257.9 563.7 L2259.9 564.0 L2261.7 565.6 L2262.9 570.1 L2264.6 575.0 L2265.7 578.7 L2267.3 577.9 L2268.5 580.7 L2270.9 588.6 L2273.3 587.3 L2274.9 584.4 L2276.1 587.2 L2277.7 586.1 L2279.0 586.9 L2280.5 592.1 L2282.3 592.1 L2283.8 602.7 L2285.7 596.1 L2286.5 595.3 L2288.1 593.3 L2290.0 594.0 L2291.3 595.0 L2292.4 596.3 L2294.7 601.6 L2295.5 599.8 L2296.9 601.7 L2298.5 604.9 L2300.4 605.9 L2301.4 605.5 L2303.3 605.9 L2304.8 610.8 L2306.3 608.5 L2307.6 611.1 L2309.1 623.7 L2310.7 616.8 L2312.3 612.6 L2313.7 614.9 L2314.9 614.7 L2316.4 613.6 L2318.2 615.5 L2319.6 614.4 L2321.7 623.5 L2323.1 626.0 L2324.0 622.4 L2326.2 621.4 L2327.3 620.1 L2328.7 619.8 L2330.3 621.7 L2331.6 624.6 L2334.0 622.5 L2336.0 625.5 L2337.7 623.7" stroke="#f79937"/>
<path d="M373.0 261.1 L374.6 262.9 L375.7 263.4 L376.9 262.1 L378.9 261.2 L381.0 261.7 L383.0 272.1 L384.8 303.0 L386.7 344.2 L388.0 374.3 L390.0 416.9 L392.7 457.7 L393.4 468.5 L395.6 499.0 L397.8 519.2 L399.8 512.7 L401.7 497.6 L402.7 489.2 L405.0 469.9 L407.7 450.5 L409.0 442.2 L410.5 432.1 L412.0 422.0 L413.4 413.5 L414.6 408.3 L416.5 400.9 L417.6 395.2 L420.0 387.0 L422.1 381.4 L423.7 378.9 L425.0 376.7 L426.6 374.5 L428.5 377.4 L431.2 387.0 L432.8 396.6 L434.2 404.0 L437.0 420.9 L438.9 434.8 L440.2 441.6 L441.4 448.5 L443.5 463.4 L444.7 472.2 L446.0 473.4 L448.0 467.1 L449.6 458.6 L450.9 454.4 L452.2 445.4 L455.0 429.5 L457.1 419.6 L458.6 412.6 L459.7 408.1 L461.5 401.8 L463.3 397.6 L464.7 398.7 L465.8 403.5 L467.1 406.4 L468.6 412.8 L470.2 418.3 L472.0 423.3 L473.5 428.8 L474.4 431.4 L476.3 432.9 L478.2 436.0 L479.2 438.4 L480.6 441.3 L482.0 444.2 L483.6 447.1 L485.1 452.6 L486.6 454.9 L488.1 458.4 L489.8 464.9 L491.1 466.5 L492.8 473.0 L494.6 480.1 L495.4 484.5 L497.3 494.2 L500.0 507.8 L501.9 515.8 L503.1 519.2 L505.1 526.2 L506.7 531.5 L508.8 538.6 L511.1 528.8 L512.4 520.4 L514.1 513.4 L515.3 505.1 L516.6 498.2 L518.3 488.2 L520.0 480.0 L522.9 467.2 L524.5 461.3 L525.6 456.3 L527.0 452.1 L528.9 443.9 L530.3 438.3 L533.0 432.3 L534.4 437.7 L536.1 448.2 L538.1 464.2 L539.4 471.7 L541.0 482.0 L542.5 493.6 L545.0 510.2 L546.6 520.6 L548.4 532.8 L549.9 543.3 L551.6 557.6 L552.9 567.9 L554.4 575.4 L555.4 581.5 L557.0 588.9 L559.1 588.3 L560.4 585.7 L561.8 581.3 L563.2 577.6 L565.2 572.2 L566.1 571.1 L567.7 569.8 L569.3 563.2 L570.9 557.8 L571.9 554.5 L574.0 548.7 L575.3 544.8 L577.2 543.6 L578.7 537.2 L581.0 532.4 L582.5 535.5 L584.1 539.7 L585.7 545.7 L587.0 553.1 L590.0 560.6 L592.0 566.3 L593.0 569.7 L594.9 576.7 L596.0 583.3 L597.2 584.9 L599.6 587.6 L600.7 589.6 L602.5 592.8 L603.8 593.5 L605.3 596.0 L606.8 596.9 L608.2 598.5 L609.8 599.8 L611.1 603.9 L613.4 605.1 L616.0 607.3 L617.2 606.9 L618.8 608.4 L620.0 608.3 L622.1 610.5 L623.2 611.1 L625.2 611.6 L626.0 612.6 L627.7 614.5 L629.4 614.2 L630.8 611.2 L632.6 611.4 L633.5 608.4 L635.3 603.0 L636.8 598.4 L638.3 594.6 L639.8 591.8 L641.2 589.4 L642.8 585.2 L644.1 582.7 L645.7 580.9 L647.3 579.4 L649.2 575.6 L650.1 574.0 L651.6 571.9 L653.3 568.9 L654.8 569.0 L656.3 564.6 L658.9 558.8 L661.0 554.2 L662.6 551.2 L663.7 547.8 L665.4 546.4 L666.9 541.4 L668.1 538.3 L669.8 535.5 L671.2 532.5 L673.2 529.5 L675.0 524.7 L677.3 521.3 L679.1 520.8 L680.6 519.4 L681.5 518.7 L683.4 517.7 L685.7 513.9 L688.1 511.2 L689.2 511.2 L691.1 509.2 L692.5 508.3 L693.9 507.9 L695.1 506.8 L696.7 506.0 L699.0 505.5 L701.6 498.6 L702.4 496.4 L704.7 491.6 L705.9 489.3 L707.6 484.1 L708.7 484.8 L710.1 481.4 L712.4 476.5 L713.6 476.7 L714.8 478.2 L716.3 483.0 L717.4 486.1 L719.2 489.1 L720.9 493.0 L722.3 494.7 L723.8 497.2 L725.5 500.5 L727.1 504.9 L728.5 506.1 L731.0 499.9 L733.0 494.3 L734.4 491.0 L735.7 488.5 L737.6 480.5 L739.2 475.1 L740.3 473.2 L741.9 467.3 L744.5 461.8 L746.2 453.9 L748.2 446.3 L749.0 444.9 L750.7 437.8 L752.7 431.7 L753.7 427.5 L755.2 426.5 L756.7 429.3 L758.3 435.3 L760.1 439.9 L761.1 447.0 L762.7 452.5 L764.5 457.1 L766.0 460.5 L768.9 465.0 L770.1 469.2 L771.9 470.8 L773.4 471.6 L775.0 473.5 L776.5 475.7 L777.9 479.2 L779.1 479.0 L780.7 482.9 L782.0 483.1 L784.7 487.0 L786.4 480.5 L788.4 474.3 L789.7 468.7 L791.7 461.5 L792.7 458.1 L794.1 451.9 L795.7 446.2 L797.4 440.6 L799.2 433.7 L800.0 431.0 L801.6 428.9 L803.4 424.0 L805.1 425.7 L806.5 430.6 L807.9 434.7 L809.0 440.5 L810.4 443.8 L812.5 452.8 L814.0 459.5 L817.2 470.9 L818.1 474.7 L820.1 485.8 L821.4 491.6 L822.8 496.0 L824.4 505.2 L826.1 515.7 L827.2 517.5 L828.9 519.4 L830.5 516.4 L831.9 514.0 L833.1 508.2 L834.9 502.6 L836.3 496.9 L837.5 489.5 L839.5 481.9 L841.0 476.8 L843.8 465.5 L845.1 463.6 L846.5 455.4 L849.5 444.1 L851.0 442.9 L852.7 441.9 L854.0 442.6 L855.7 437.5 L857.0 434.6 L859.7 431.3 L861.6 427.7 L863.0 425.6 L865.0 422.8 L866.7 422.0 L867.9 422.8 L869.9 419.8 L872.7 414.8 L873.5 414.2 L875.2 414.0 L876.6 412.3 L878.0 411.6 L879.9 413.6 L882.1 411.9 L884.6 412.3 L886.1 412.2 L887.3 412.0 L888.9 416.1 L890.3 414.1 L892.3 415.5 L895.1 417.6 L896.4 417.7 L897.4 418.2 L898.9 419.6 L900.9 421.8 L902.5 423.1 L903.9 428.0 L905.1 431.4 L906.6 437.0 L908.0 441.2 L910.6 450.9 L913.0 458.7 L914.0 458.4 L915.6 465.1 L916.9 464.7 L918.6 466.9 L919.9 468.7 L921.4 473.4 L922.9 474.3 L924.9 477.8 L926.1 482.7 L927.9 481.0 L929.6 480.0 L930.9 483.7 L932.4 479.6 L933.9 482.7 L935.1 482.4 L936.9 483.6 L938.5 484.3 L940.0 488.0 L941.5 490.2 L943.2 493.5 L944.6 496.2 L945.8 496.0 L947.3 497.5 L949.1 499.0 L950.3 504.7 L951.9 502.3 L953.2 502.6 L955.0 504.6 L956.3 504.5 L957.4 506.3 L959.6 509.5 L962.7 519.2 L963.6 519.6 L965.2 522.5 L967.1 530.0 L968.2 535.6 L969.6 535.5 L971.8 540.0 L973.9 544.7 L975.5 549.3 L977.3 554.6 L978.9 561.6 L980.4 563.1 L982.0 568.2 L984.0 569.5 L986.1 574.4 L988.0 576.6 L990.2 577.3 L992.4 581.0 L993.7 575.8 L995.1 570.8 L996.8 569.4 L998.0 565.7 L1000.4 561.0 L1002.7 557.6 L1004.0 551.9 L1005.7 548.1 L1007.0 544.4 L1008.5 540.5 L1010.4 546.2 L1012.1 544.1 L1013.4 540.3 L1014.7 537.7 L1016.6 538.5 L1018.0 536.3 L1019.3 541.8 L1020.8 538.5 L1022.5 534.9 L1024.0 536.3 L1025.0 534.1 L1026.9 537.6 L1028.0 532.3 L1030.2 529.9 L1031.6 527.4 L1033.0 526.1 L1033.9 524.8 L1037.0 523.3 L1038.8 528.6 L1040.2 527.1 L1041.4 526.8 L1043.4 527.3 L1045.1 532.8 L1046.0 533.0 L1049.3 534.1 L1050.9 536.7 L1052.0 538.6 L1055.0 544.4 L1056.8 553.2 L1058.6 546.2 L1059.9 540.1 L1061.0 535.8 L1062.5 535.0 L1064.1 530.7 L1065.5 527.4 L1067.5 524.3 L1069.1 522.6 L1070.4 522.9 L1072.1 529.9 L1073.0 531.2 L1074.9 535.1 L1077.1 542.7 L1079.2 542.0 L1080.6 542.7 L1082.4 542.1 L1083.4 542.4 L1085.5 544.0 L1086.9 544.9 L1088.2 544.6 L1089.9 550.9 L1091.3 552.6 L1093.1 550.3 L1094.6 551.7 L1096.0 557.7 L1097.5 556.1 L1099.0 558.0 L1101.0 563.0 L1103.3 568.1 L1104.9 566.3 L1106.6 569.8 L1107.6 571.2 L1109.6 580.8 L1111.1 587.0 L1112.4 583.8 L1113.7 583.3 L1115.2 585.6 L1116.8 592.8 L1118.4 595.1 L1120.0 599.5 L1121.6 603.5 L1122.5 604.0 L1124.9 611.1 L1127.6 609.1 L1129.1 610.1 L1130.7 607.7 L1132.1 606.3 L1132.9 606.8 L1134.6 608.3 L1136.0 605.2 L1137.7 602.9 L1139.2 599.2 L1140.6 598.6 L1142.4 597.0 L1144.0 591.4 L1145.6 591.7 L1148.3 588.9 L1149.7 582.5 L1151.6 577.7 L1152.4 575.8 L1154.6 576.9 L1155.4 573.7 L1157.0 570.9 L1158.3 567.9 L1160.3 573.2 L1161.6 575.1 L1164.7 578.0 L1166.3 578.7 L1167.8 582.5 L1169.4 577.1 L1170.6 579.4 L1172.3 574.1 L1173.8 574.3 L1175.0 575.9 L1177.5 579.4 L1179.5 569.3 L1181.3 565.2 L1182.9 562.4 L1184.0 560.5 L1185.5 556.9 L1187.1 555.3 L1189.0 551.5 L1190.2 550.0 L1191.8 547.4 L1192.9 551.2 L1194.7 546.0 L1196.2 547.1 L1198.0 542.1 L1199.6 548.7 L1201.4 540.5 L1203.5 534.2 L1205.1 527.2 L1206.5 525.1 L1209.3 524.8 L1211.4 523.1 L1212.5 521.7 L1214.0 524.3 L1215.7 529.8 L1217.5 541.9 L1218.7 536.2 L1220.5 535.9 L1223.5 535.1 L1224.6 533.7 L1226.5 531.3 L1228.2 529.9 L1230.0 526.9 L1232.5 522.5 L1234.1 519.2 L1234.9 528.9 L1237.2 520.8 L1238.1 516.7 L1239.6 513.3 L1241.6 514.2 L1242.6 527.1 L1244.3 531.6 L1245.7 535.2 L1247.2 534.5 L1248.8 535.1 L1250.8 543.3 L1252.0 547.3 L1253.4 542.4 L1255.1 547.0 L1256.1 542.9 L1257.8 542.9 L1259.3 544.6 L1260.7 547.4 L1263.5 552.1 L1264.9 551.5 L1266.9 554.3 L1268.0 556.8 L1269.5 558.7 L1271.5 560.6 L1272.8 561.0 L1274.1 567.0 L1276.3 570.4 L1277.6 571.9 L1279.0 575.8 L1280.2 579.6 L1281.5 580.2 L1283.2 585.1 L1285.8 594.1 L1287.8 588.8 L1288.9 588.2 L1290.5 587.8 L1292.3 581.0 L1293.6 579.8 L1295.4 580.1 L1296.7 571.2 L1298.9 567.0 L1300.9 561.3 L1302.6 559.6 L1304.7 558.3 L1306.1 559.4 L1306.9 559.1 L1308.9 555.6 L1310.1 550.8 L1311.6 549.1 L1313.5 547.6 L1315.1 545.9 L1316.5 544.9 L1317.9 542.9 L1319.0 540.5 L1320.7 547.8 L1322.8 539.4 L1324.1 542.2 L1325.3 538.1 L1327.0 536.1 L1328.6 530.3 L1329.4 536.4 L1331.5 528.1 L1332.9 528.3 L1335.5 521.3 L1337.2 518.4 L1338.6 517.1 L1340.1 511.2 L1341.6 511.3 L1343.5 503.5 L1344.9 505.1 L1346.7 497.7 L1349.7 495.9 L1350.8 501.7 L1352.2 494.0 L1353.7 491.5 L1355.7 499.7 L1356.5 490.5 L1357.9 486.5 L1359.6 485.9 L1361.6 488.6 L1362.7 487.6 L1364.3 484.1 L1365.9 483.4 L1367.3 482.5 L1368.6 486.1 L1370.6 486.6 L1371.9 485.0 L1372.9 487.0 L1375.1 477.4 L1376.0 473.6 L1377.7 471.8 L1380.2 471.2 L1382.3 470.8 L1384.1 471.0 L1385.4 474.7 L1386.6 471.9 L1389.7 475.3 L1391.5 476.9 L1393.0 476.5 L1394.5 480.2 L1395.8 478.6 L1397.0 482.6 L1399.1 483.5 L1400.5 481.7 L1402.5 485.1 L1404.7 488.2 L1406.4 492.2 L1407.4 494.8 L1409.0 497.8 L1412.0 506.2 L1414.0 519.8 L1415.5 515.6 L1416.8 515.2 L1417.9 514.5 L1420.2 519.0 L1421.6 520.5 L1424.6 528.5 L1426.1 537.0 L1427.0 537.1 L1428.5 537.6 L1431.1 541.7 L1433.0 549.4 L1434.3 552.5 L1436.6 552.8 L1437.4 551.6 L1439.0 547.5 L1441.1 547.5 L1442.5 543.6 L1443.9 546.1 L1445.1 542.9 L1447.0 535.4 L1448.2 533.4 L1449.6 531.2 L1450.9 526.2 L1453.5 521.8 L1455.5 521.2 L1456.9 523.3 L1458.5 520.7 L1460.0 519.8 L1463.0 519.8 L1464.9 522.1 L1466.0 525.9 L1467.4 522.5 L1469.1 524.9 L1470.6 524.4 L1471.9 523.6 L1474.2 525.3 L1476.9 530.3 L1478.4 535.0 L1479.5 531.9 L1482.1 531.7 L1484.4 529.9 L1485.8 527.4 L1487.3 522.3 L1488.6 525.2 L1489.9 523.4 L1491.8 519.3 L1493.0 515.8 L1494.9 513.0 L1496.5 509.4 L1497.9 504.0 L1499.4 505.7 L1501.1 499.8 L1502.7 496.5 L1503.8 494.3 L1505.0 492.7 L1507.6 490.9 L1509.9 490.1 L1511.0 488.5 L1512.9 489.6 L1514.2 494.1 L1515.9 493.1 L1517.7 490.4 L1518.4 492.6 L1520.2 491.4 L1522.2 494.4 L1523.5 494.0 L1525.5 492.2 L1528.2 493.3 L1529.3 495.0 L1530.9 497.6 L1532.4 500.2 L1533.8 499.6 L1535.1 502.2 L1536.8 507.3 L1538.2 508.5 L1539.9 507.9 L1541.3 504.5 L1542.4 505.4 L1544.5 499.5 L1545.7 495.1 L1547.8 499.5 L1550.4 490.2 L1552.1 490.1 L1553.3 486.3 L1554.5 483.4 L1556.2 479.5 L1558.0 478.1 L1559.5 483.1 L1560.5 476.8 L1563.7 471.7 L1565.6 470.6 L1566.6 471.1 L1567.9 473.0 L1569.6 474.9 L1571.6 472.9 L1572.6 472.2 L1574.6 471.2 L1576.5 470.0 L1578.7 465.8 L1580.0 463.0 L1582.0 472.8 L1583.0 463.1 L1585.2 453.7 L1586.1 460.5 L1587.7 448.8 L1589.2 444.6 L1591.0 444.4 L1592.5 443.5 L1594.1 445.9 L1594.9 446.9 L1596.4 443.8 L1598.1 447.8 L1599.4 439.9 L1601.4 449.1 L1603.1 440.2 L1605.2 438.7 L1607.5 436.8 L1608.8 436.6 L1610.0 442.8 L1611.8 438.1 L1613.4 437.2 L1614.4 435.8 L1616.5 436.3 L1617.8 438.9 L1619.4 439.1 L1621.1 443.2 L1622.4 449.5 L1623.8 444.2 L1625.4 447.2 L1626.8 449.5 L1628.1 450.6 L1629.7 452.3 L1631.0 452.9 L1632.3 455.0 L1634.4 457.4 L1635.5 459.1 L1637.5 462.9 L1639.0 462.7 L1640.4 458.8 L1641.4 457.6 L1643.6 463.0 L1644.9 465.5 L1646.6 467.4 L1649.2 462.5 L1650.6 463.2 L1652.1 461.4 L1654.1 463.2 L1655.6 460.1 L1656.6 472.7 L1659.3 466.1 L1661.1 471.8 L1662.8 467.9 L1664.7 473.6 L1665.9 477.4 L1667.4 479.5 L1668.9 479.6 L1670.3 483.9 L1671.6 483.4 L1673.1 484.1 L1674.9 483.5 L1676.6 485.6 L1677.6 487.2 L1680.0 492.3 L1682.4 500.2 L1683.5 498.9 L1685.1 497.4 L1686.6 498.4 L1688.5 500.2 L1689.5 509.1 L1691.2 507.0 L1693.0 508.5 L1694.6 502.6 L1695.8 501.2 L1696.9 507.2 L1698.7 504.4 L1700.2 510.6 L1701.6 508.8 L1703.5 508.3 L1704.7 506.4 L1707.1 505.6 L1709.0 503.0 L1710.9 504.9 L1712.3 503.7 L1713.6 503.0 L1715.4 500.9 L1716.9 503.4 L1718.0 506.4 L1719.8 503.9 L1721.0 503.0 L1723.1 500.2 L1725.6 498.6 L1727.1 497.9 L1728.7 498.5 L1730.4 497.8 L1732.2 497.0 L1733.2 502.2 L1734.5 500.4 L1736.1 500.5 L1738.1 501.8 L1739.1 499.3 L1740.4 512.3 L1742.2 503.4 L1743.4 512.3 L1745.1 508.6 L1747.1 500.4 L1748.3 500.5 L1749.9 498.0 L1751.0 495.6 L1752.7 499.5 L1754.6 496.9 L1755.6 493.9 L1757.0 496.8 L1758.7 498.5 L1760.0 496.0 L1761.7 499.9 L1763.1 496.3 L1764.8 493.6 L1765.9 495.7 L1767.4 495.4 L1769.3 506.5 L1770.9 502.3 L1772.1 505.4 L1774.0 516.4 L1775.1 513.0 L1777.1 517.6 L1778.5 514.9 L1780.1 516.8 L1781.6 521.4 L1784.3 532.9 L1785.5 537.2 L1787.7 546.4 L1789.0 552.7 L1789.9 557.0 L1791.8 561.1 L1793.3 575.5 L1795.4 575.6 L1797.8 575.5 L1799.0 578.1 L1800.7 574.9 L1802.1 574.4 L1804.5 574.2 L1807.0 573.8 L1808.0 572.0 L1809.7 570.1 L1811.0 575.9 L1812.9 571.1 L1814.6 575.7 L1816.8 567.1 L1818.9 569.4 L1820.5 564.4 L1822.1 568.0 L1823.1 571.9 L1825.1 569.5 L1826.6 564.2 L1827.9 562.5 L1829.5 565.8 L1832.1 564.2 L1833.5 566.9 L1835.7 565.0 L1837.2 560.1 L1838.0 566.3 L1839.7 562.0 L1841.4 557.2 L1842.5 561.9 L1844.2 563.6 L1846.2 563.2 L1847.4 557.2 L1848.8 557.2 L1850.5 559.3 L1852.1 558.5 L1853.7 558.6 L1855.0 571.3 L1856.7 565.0 L1857.7 563.4 L1859.6 571.4 L1862.3 562.0 L1863.9 560.6 L1865.4 560.3 L1866.5 554.5 L1868.6 550.3 L1870.0 547.9 L1871.8 546.4 L1874.5 558.2 L1875.6 550.8 L1877.0 545.6 L1878.9 546.3 L1880.1 546.2 L1881.9 542.7 L1883.3 538.2 L1885.0 537.2 L1887.1 543.2 L1889.5 540.4 L1890.7 543.0 L1891.9 556.6 L1893.9 558.4 L1895.6 554.0 L1896.9 560.6 L1899.4 556.0 L1901.4 558.3 L1903.1 559.2 L1904.3 560.6 L1905.6 564.2 L1907.4 571.7 L1909.2 570.9 L1910.6 572.7 L1911.6 572.1 L1913.5 574.9 L1914.4 583.4 L1916.2 578.7 L1917.6 588.2 L1919.6 588.0 L1921.0 585.3 L1922.0 579.0 L1923.7 574.9 L1925.7 573.8 L1926.5 572.7 L1928.6 579.0 L1929.4 578.3 L1931.5 572.1 L1932.7 575.4 L1934.5 571.8 L1936.0 573.8 L1937.6 573.1 L1938.4 572.7 L1940.6 578.4 L1942.0 573.1 L1943.2 576.7 L1945.3 574.3 L1948.1 570.2 L1949.7 566.0 L1951.0 567.2 L1952.0 563.4 L1953.9 560.4 L1955.6 560.9 L1956.9 560.2 L1959.0 553.0 L1960.9 558.3 L1962.7 569.1 L1964.0 561.8 L1965.5 561.5 L1967.6 565.0 L1969.7 572.5 L1971.7 566.5 L1973.5 578.1 L1974.8 571.6 L1976.4 566.3 L1977.6 570.6 L1979.2 567.7 L1980.7 566.4 L1982.4 567.4 L1985.0 568.4 L1986.9 570.6 L1988.5 569.0 L1989.7 567.1 L1991.2 564.4 L1993.1 563.6 L1994.6 569.6 L1995.9 564.8 L1997.3 565.5 L2000.3 560.3 L2002.0 563.8 L2003.3 561.6 L2004.5 564.4 L2006.4 557.7 L2008.0 557.5 L2009.5 556.3 L2011.0 561.5 L2012.7 570.8 L2014.0 568.2 L2015.3 562.4 L2016.5 560.7 L2018.6 561.1 L2019.7 564.7 L2021.0 564.7 L2023.3 563.2 L2024.6 563.6 L2025.7 562.7 L2026.9 565.2 L2028.7 561.6 L2030.5 559.8 L2031.9 556.2 L2033.3 561.8 L2035.3 556.9 L2036.5 555.4 L2037.5 555.5 L2038.9 557.7 L2040.7 556.1 L2042.7 562.4 L2043.9 564.2 L2045.6 560.8 L2046.9 559.5 L2048.2 562.1 L2050.6 562.6 L2052.9 565.3 L2054.1 563.5 L2055.9 568.9 L2057.5 562.6 L2058.9 559.6 L2060.1 565.8 L2062.1 563.3 L2063.1 565.2 L2064.7 571.2 L2065.9 562.0 L2067.8 567.3 L2069.1 563.2 L2071.0 567.2 L2072.6 564.2 L2073.8 567.2 L2075.5 563.3 L2076.5 564.1 L2077.9 564.3 L2079.5 568.2 L2081.2 563.6 L2082.8 566.9 L2084.0 565.7 L2086.1 562.5 L2087.3 560.5 L2088.8 560.9 L2090.5 559.6 L2091.5 559.3 L2093.1 562.2 L2094.8 565.3 L2096.5 559.8 L2097.9 564.9 L2099.1 561.7 L2100.5 558.3 L2102.6 566.4 L2104.1 560.3 L2105.1 558.9 L2107.1 559.1 L2107.9 564.2 L2110.1 560.4 L2111.8 557.5 L2114.3 557.0 L2115.9 558.2 L2117.5 557.9 L2119.1 563.3 L2120.1 557.6 L2121.6 555.5 L2123.2 555.6 L2124.6 553.6 L2127.1 552.6 L2129.6 557.7 L2131.1 552.0 L2132.3 548.8 L2133.7 545.2 L2135.6 553.8 L2136.5 547.5 L2139.3 538.0 L2141.2 536.1 L2143.0 540.5 L2144.2 540.0 L2145.5 538.0 L2147.6 541.0 L2148.9 541.4 L2150.5 536.7 L2151.6 535.4 L2154.6 535.4 L2155.9 539.5 L2157.8 534.4 L2159.4 538.8 L2161.2 546.5 L2162.6 544.0 L2163.7 535.8 L2165.3 543.9 L2166.8 537.8 L2168.6 531.8 L2169.7 527.7 L2170.9 529.3 L2173.2 531.7 L2174.4 529.1 L2176.0 524.5 L2177.1 527.5 L2178.9 522.6 L2180.6 520.2 L2181.8 520.3 L2183.0 520.5 L2184.7 519.9 L2186.1 512.9 L2187.9 508.1 L2189.1 504.9 L2191.2 504.7 L2192.8 502.2 L2194.0 504.6 L2195.7 508.2 L2196.6 508.4 L2198.4 513.5 L2199.5 529.0 L2201.1 523.7 L2203.6 529.8 L2205.9 530.5 L2207.4 527.0 L2208.9 527.1 L2210.1 533.0 L2212.2 531.1 L2213.1 529.1 L2214.6 531.1 L2216.5 530.8 L2218.9 532.9 L2220.4 535.1 L2222.2 549.6 L2223.9 545.6 L2225.5 540.8 L2227.2 539.7 L2228.0 540.1 L2229.8 545.1 L2231.5 544.6 L2232.8 544.0 L2234.7 549.2 L2237.2 549.2 L2238.5 546.8 L2240.5 547.1 L2242.1 553.8 L2243.0 547.2 L2244.9 545.3 L2246.1 546.8 L2247.5 545.6 L2249.5 547.1 L2250.6 545.5 L2252.5 546.8 L2255.4 547.5 L2256.4 552.2 L2258.3 550.0 L2259.5 560.1 L2261.6 559.3 L2262.6 563.6 L2264.7 562.0 L2265.8 557.3 L2267.8 566.8 L2270.5 563.1 L2271.5 570.2 L2273.4 566.7 L2274.6 569.7 L2276.0 572.1 L2277.7 571.7 L2280.0 578.3 L2282.7 583.3 L2283.5 591.3 L2285.5 582.7 L2286.9 582.6 L2288.4 584.8 L2289.9 589.1 L2291.0 588.9 L2293.2 592.3 L2295.3 589.6 L2297.0 589.3 L2298.6 603.9 L2300.5 594.8 L2301.8 592.9 L2303.3 591.6 L2304.6 593.1 L2306.2 597.5 L2307.9 595.5 L2310.6 595.9 L2312.3 607.6 L2314.1 614.6 L2315.7 606.5 L2317.1 604.6 L2318.3 604.8 L2320.0 608.6 L2321.6 607.6 L2322.9 612.6 L2324.2 610.1 L2325.8 612.8 L2327.4 614.2 L2328.6 613.0 L2330.3 629.5 L2332.2 623.3 L2334.0 618.6 L2336.3 622.2 L2337.9 619.4" stroke="#a970b2"/>
</g>
<path d="M380.80 1398.40V1362.40 M380.80 901.00V937.00 M558.02 1398.40V1362.40 M558.02 901.00V937.00 M735.24 1398.40V1362.40 M735.24 901.00V937.00 M912.45 1398.40V1362.40 M912.45 901.00V937.00 M1089.67 1398.40V1362.40 M1089.67 901.00V937.00 M1266.89 1398.40V1362.40 M1266.89 901.00V937.00 M1444.11 1398.40V1362.40 M1444.11 901.00V937.00 M1621.33 1398.40V1362.40 M1621.33 901.00V937.00 M1798.55 1398.40V1362.40 M1798.55 901.00V937.00 M1975.76 1398.40V1362.40 M1975.76 901.00V937.00 M2152.98 1398.40V1362.40 M2152.98 901.00V937.00 M2330.20 1398.40V1362.40 M2330.20 901.00V937.00 M380.80 1067.00H416.80 M2330.20 1067.00H2294.20 M380.80 1288.00H416.80 M2330.20 1288.00H2294.20" stroke="#87888c" stroke-width="2.1" fill="none"/>
<path d="M377.9 899.0H2332.0V902.95H377.9Z M377.9 1396.1H2332.0V1400.8H377.9Z M377.9 899.0H383.0V1400.8H377.9Z M2328.0 899.0H2332.0V1400.8H2328.0Z" fill="#231f20"/>
<clipPath id="cl"><rect x="380.0" y="901.00" width="1950.0" height="497.40"/></clipPath>
<g clip-path="url(#cl)" fill="none" stroke-width="9.0" stroke-linejoin="miter" stroke-miterlimit="6">
<path d="M373.1 1329.0 L374.0 1330.6 L375.9 1329.2 L377.3 1334.8 L378.9 1328.1 L379.9 1327.0 L381.7 1327.5 L383.0 1325.4 L385.2 1325.1 L386.1 1325.9 L387.9 1331.0 L389.7 1326.4 L391.0 1329.8 L392.1 1327.7 L393.7 1328.4 L395.0 1332.6 L396.6 1327.1 L398.1 1325.5 L400.0 1326.8 L401.6 1327.1 L403.1 1326.3 L404.3 1324.0 L405.9 1330.4 L407.4 1324.5 L408.9 1330.1 L410.7 1323.8 L411.9 1321.4 L413.0 1322.7 L415.0 1322.7 L416.5 1325.7 L418.1 1320.5 L420.0 1323.0 L421.9 1318.4 L423.8 1317.8 L425.4 1320.1 L427.0 1317.7 L428.4 1323.0 L429.9 1324.4 L431.4 1317.8 L432.6 1317.4 L434.2 1323.4 L435.7 1324.0 L436.9 1317.9 L439.2 1316.3 L440.0 1319.2 L442.2 1323.6 L443.5 1320.5 L445.0 1316.3 L447.6 1316.6 L449.4 1317.5 L450.4 1317.3 L452.2 1319.0 L454.0 1315.1 L455.3 1314.2 L456.9 1316.0 L458.2 1311.5 L459.9 1311.0 L461.6 1310.6 L462.9 1310.5 L464.6 1311.4 L466.1 1316.8 L467.3 1310.1 L468.7 1318.8 L470.0 1316.3 L471.9 1317.3 L473.2 1311.7 L474.9 1313.3 L476.2 1307.9 L478.2 1310.6 L479.1 1307.9 L480.7 1312.0 L482.6 1312.4 L483.8 1315.8 L485.1 1309.9 L486.6 1319.6 L488.5 1307.9 L489.9 1304.8 L491.2 1304.1 L492.6 1302.9 L494.3 1303.3 L496.1 1303.4 L497.4 1302.2 L498.4 1301.8 L500.0 1300.7 L502.2 1300.5 L503.2 1301.4 L505.1 1305.4 L506.6 1302.4 L507.6 1304.1 L509.2 1302.0 L510.6 1300.7 L512.3 1304.7 L513.9 1302.5 L515.5 1301.2 L516.5 1303.0 L518.6 1301.4 L519.5 1306.0 L521.6 1310.8 L522.8 1313.1 L524.0 1306.7 L525.4 1300.8 L527.0 1305.4 L528.4 1299.3 L530.0 1299.2 L531.9 1298.0 L533.1 1302.5 L534.5 1301.1 L536.3 1296.5 L537.7 1295.7 L539.0 1294.8 L540.6 1297.0 L542.5 1293.0 L543.4 1292.7 L545.5 1294.8 L547.1 1292.8 L548.6 1293.2 L549.5 1292.1 L551.0 1289.7 L553.0 1291.5 L553.9 1289.5 L555.5 1292.7 L557.2 1290.7 L558.7 1292.4 L560.4 1289.8 L561.9 1296.8 L563.4 1291.2 L564.6 1300.8 L566.7 1295.8 L568.1 1294.6 L569.1 1288.5 L571.1 1294.8 L572.5 1299.8 L573.7 1290.2 L575.0 1286.7 L576.9 1291.0 L578.4 1295.4 L579.7 1299.0 L580.9 1295.5 L583.1 1286.4 L584.6 1290.8 L585.8 1292.5 L587.4 1286.8 L589.0 1285.5 L589.9 1287.0 L592.0 1283.3 L595.2 1281.2 L596.3 1281.2 L597.7 1283.5 L599.5 1287.5 L600.8 1291.1 L602.3 1285.0 L604.2 1283.6 L605.4 1287.6 L606.7 1298.4 L608.2 1298.9 L609.9 1289.2 L611.2 1290.7 L612.8 1299.0 L615.0 1290.8 L617.5 1289.7 L619.2 1288.7 L620.7 1296.1 L621.5 1290.1 L623.5 1294.7 L624.7 1293.4 L626.3 1291.0 L627.4 1296.1 L629.7 1292.5 L631.1 1295.8 L632.6 1295.1 L633.5 1295.9 L635.2 1306.4 L636.8 1299.1 L638.3 1299.5 L640.0 1302.8 L641.4 1306.6 L643.1 1302.0 L643.9 1298.8 L645.6 1302.3 L647.0 1302.9 L649.1 1303.7 L650.6 1306.9 L651.9 1308.1 L653.1 1306.2 L655.0 1307.0 L656.4 1310.2 L658.0 1318.4 L659.3 1319.7 L660.9 1313.7 L662.7 1313.6 L665.0 1317.8 L666.4 1325.3 L668.5 1320.6 L669.5 1321.7 L671.1 1324.9 L672.8 1331.0 L674.6 1329.7 L676.1 1341.1 L677.2 1339.0 L679.1 1332.4 L680.3 1331.3 L681.4 1333.1 L683.5 1334.9 L685.0 1335.2 L687.5 1337.7 L689.3 1343.0 L690.9 1344.8 L692.7 1351.6 L694.1 1356.4 L695.5 1347.2 L696.9 1345.3 L698.0 1343.6 L700.0 1346.1 L701.1 1347.2 L702.8 1347.6 L705.0 1347.3 L707.1 1358.9 L709.0 1360.1 L710.2 1357.4 L712.0 1351.5 L713.2 1343.9 L714.9 1343.0 L716.2 1341.0 L717.5 1339.3 L718.9 1341.8 L720.6 1338.5 L722.6 1339.0 L723.8 1348.6 L725.5 1341.0 L726.8 1335.5 L728.0 1337.2 L730.1 1330.2 L731.7 1334.0 L732.9 1327.7 L734.2 1324.5 L735.7 1321.3 L737.1 1318.4 L739.2 1315.3 L740.6 1316.9 L742.0 1311.7 L743.1 1312.2 L745.0 1306.4 L746.3 1304.7 L747.6 1317.5 L749.4 1314.5 L750.5 1308.5 L752.2 1299.6 L754.0 1294.0 L755.2 1296.4 L756.9 1299.3 L758.1 1295.3 L760.0 1287.5 L761.6 1284.5 L763.1 1299.4 L764.5 1297.1 L765.7 1286.2 L767.5 1290.7 L768.8 1287.0 L770.0 1282.3 L772.2 1282.6 L773.1 1281.4 L774.8 1282.9 L776.7 1280.5 L777.9 1277.3 L780.0 1278.9 L782.3 1278.2 L783.8 1276.2 L785.4 1276.2 L787.0 1277.5 L788.1 1280.6 L789.9 1277.1 L790.9 1279.7 L792.5 1277.2 L794.0 1278.0 L795.6 1277.4 L797.1 1284.0 L798.6 1282.7 L800.2 1282.2 L801.5 1285.0 L803.0 1288.0 L805.1 1287.7 L806.2 1286.5 L808.0 1299.2 L809.1 1296.6 L810.6 1295.8 L812.5 1301.3 L813.6 1306.7 L815.0 1305.2 L816.9 1299.1 L818.0 1305.8 L819.9 1301.3 L821.4 1300.5 L822.7 1303.9 L824.4 1304.3 L825.5 1302.3 L827.4 1302.7 L829.2 1305.2 L830.5 1308.6 L832.0 1306.5 L833.3 1306.8 L835.1 1307.0 L836.1 1309.5 L837.4 1317.4 L838.9 1316.6 L840.7 1317.4 L842.0 1316.4 L843.8 1312.6 L845.2 1311.5 L846.7 1315.8 L848.5 1328.3 L849.5 1323.5 L850.9 1316.2 L852.6 1315.8 L854.1 1316.2 L855.7 1316.5 L857.1 1318.6 L858.4 1330.2 L860.0 1329.3 L862.0 1323.6 L862.9 1318.4 L864.6 1328.8 L866.1 1322.2 L868.0 1319.1 L869.1 1317.0 L870.7 1321.5 L872.1 1322.0 L873.7 1322.6 L875.6 1317.0 L877.2 1315.1 L878.5 1313.2 L879.7 1322.6 L881.1 1321.5 L882.7 1315.6 L884.1 1312.6 L885.7 1318.6 L886.9 1315.1 L888.9 1312.1 L890.3 1312.1 L892.0 1314.4 L893.0 1313.4 L894.3 1311.3 L896.3 1312.5 L897.5 1310.5 L899.4 1310.6 L901.2 1308.4 L902.1 1309.5 L903.6 1310.4 L904.9 1308.9 L906.5 1312.5 L908.5 1308.8 L910.0 1310.2 L911.5 1308.3 L912.8 1309.4 L914.7 1306.9 L916.1 1306.8 L917.1 1321.4 L918.7 1309.5 L920.0 1306.5 L921.7 1305.6 L923.3 1307.1 L924.8 1317.1 L925.9 1306.0 L927.9 1302.2 L929.1 1306.5 L930.8 1303.1 L932.0 1312.3 L934.1 1301.0 L935.0 1297.0 L936.6 1301.5 L938.0 1296.6 L939.8 1298.0 L941.6 1302.7 L942.4 1297.8 L944.5 1294.7 L945.5 1292.4 L947.2 1298.0 L948.4 1293.2 L950.0 1296.0 L951.9 1289.5 L953.5 1286.1 L954.5 1283.9 L956.2 1283.8 L957.6 1284.2 L959.2 1284.6 L960.7 1286.4 L962.1 1285.6 L964.0 1284.2 L965.7 1279.8 L966.6 1278.7 L968.2 1275.0 L970.1 1273.2 L971.5 1274.1 L972.9 1275.3 L974.5 1275.3 L975.5 1273.2 L977.5 1281.8 L978.6 1273.2 L981.5 1267.5 L983.6 1268.0 L985.0 1269.5 L985.9 1278.0 L987.4 1284.7 L989.7 1277.6 L990.5 1279.4 L992.3 1276.8 L993.5 1277.1 L995.1 1274.5 L996.9 1279.5 L997.9 1277.2 L999.7 1277.1 L1001.1 1280.1 L1002.8 1294.5 L1005.0 1288.2 L1007.0 1283.4 L1008.5 1281.2 L1010.0 1281.0 L1012.0 1283.5 L1013.3 1283.1 L1014.8 1281.8 L1016.0 1280.5 L1017.4 1280.2 L1020.0 1281.4 L1022.4 1289.5 L1023.6 1284.3 L1025.2 1280.4 L1026.5 1277.0 L1028.1 1277.1 L1030.2 1278.4 L1031.6 1283.1 L1032.8 1275.8 L1034.4 1274.4 L1036.2 1275.6 L1037.6 1276.9 L1038.9 1273.7 L1040.3 1273.6 L1042.0 1279.6 L1043.1 1284.2 L1044.8 1279.2 L1046.6 1272.6 L1047.9 1279.4 L1049.6 1274.0 L1050.6 1271.1 L1052.6 1268.3 L1053.7 1273.5 L1055.0 1272.8 L1057.1 1267.7 L1058.5 1274.1 L1059.5 1268.4 L1061.2 1273.0 L1063.0 1273.4 L1065.0 1280.0 L1067.3 1273.1 L1068.9 1267.5 L1070.1 1262.9 L1071.7 1264.4 L1073.1 1276.6 L1075.1 1265.9 L1076.0 1269.6 L1078.1 1261.1 L1079.2 1262.2 L1080.6 1261.9 L1082.5 1264.5 L1083.9 1265.0 L1085.1 1256.9 L1087.3 1253.9 L1088.6 1255.1 L1090.1 1255.8 L1091.6 1259.8 L1093.0 1261.1 L1094.7 1266.7 L1096.2 1269.6 L1097.6 1264.4 L1099.1 1263.4 L1100.4 1267.2 L1101.8 1263.3 L1103.5 1266.8 L1104.8 1269.1 L1106.5 1266.5 L1107.5 1267.2 L1110.0 1273.0 L1112.5 1269.8 L1114.1 1269.6 L1115.0 1269.2 L1117.1 1267.8 L1118.5 1266.8 L1119.9 1266.9 L1121.6 1266.1 L1122.5 1267.4 L1124.6 1266.5 L1125.5 1266.9 L1127.4 1281.8 L1128.8 1275.8 L1130.0 1274.0 L1132.2 1270.0 L1133.1 1267.8 L1134.6 1272.8 L1136.2 1281.2 L1137.4 1277.5 L1140.0 1268.7 L1142.0 1268.5 L1143.7 1265.0 L1145.1 1264.0 L1146.8 1265.8 L1148.3 1263.4 L1150.2 1261.4 L1151.2 1260.4 L1152.9 1260.0 L1154.6 1256.4 L1155.9 1259.2 L1157.2 1254.2 L1160.2 1251.9 L1161.8 1252.6 L1163.5 1257.5 L1165.1 1255.4 L1166.1 1259.0 L1167.7 1261.3 L1169.6 1261.1 L1170.9 1256.7 L1172.4 1266.6 L1174.0 1264.6 L1175.0 1262.3 L1177.0 1258.9 L1178.5 1260.5 L1179.8 1257.4 L1181.2 1257.0 L1183.2 1262.5 L1185.3 1262.0 L1187.2 1272.0 L1189.1 1266.8 L1190.6 1265.1 L1191.5 1267.3 L1193.0 1260.9 L1195.0 1260.1 L1196.3 1260.7 L1197.5 1260.4 L1199.3 1265.8 L1200.4 1277.3 L1202.5 1268.1 L1203.9 1266.6 L1205.6 1265.8 L1207.0 1267.5 L1208.4 1267.4 L1209.7 1277.5 L1210.9 1276.2 L1213.0 1273.5 L1214.0 1270.6 L1215.9 1273.5 L1217.3 1277.8 L1218.9 1283.5 L1220.1 1274.7 L1222.0 1275.3 L1223.0 1270.9 L1224.4 1275.8 L1226.0 1278.8 L1228.0 1271.3 L1229.3 1269.5 L1230.7 1268.6 L1232.2 1267.8 L1234.1 1271.1 L1235.0 1268.7 L1237.1 1272.3 L1238.4 1271.4 L1240.0 1271.1 L1240.9 1272.9 L1243.0 1274.5 L1244.4 1269.1 L1245.8 1268.6 L1247.1 1277.0 L1250.0 1275.1 L1251.7 1270.7 L1253.4 1272.2 L1254.6 1281.8 L1256.6 1271.5 L1258.0 1269.8 L1259.4 1267.6 L1260.5 1277.8 L1262.1 1270.0 L1264.0 1268.2 L1265.5 1265.0 L1266.6 1268.5 L1268.1 1264.0 L1269.8 1272.3 L1271.0 1268.0 L1273.0 1263.0 L1274.3 1264.2 L1276.1 1262.3 L1277.6 1271.2 L1280.4 1265.0 L1281.7 1268.1 L1283.5 1267.3 L1284.6 1267.8 L1286.0 1276.2 L1288.1 1274.7 L1289.2 1269.3 L1290.8 1272.1 L1291.9 1275.7 L1294.1 1277.6 L1295.1 1273.2 L1296.8 1277.4 L1298.5 1274.6 L1300.2 1275.1 L1301.1 1288.4 L1302.8 1279.6 L1304.5 1277.6 L1305.7 1276.0 L1307.0 1276.2 L1308.9 1280.6 L1310.5 1277.0 L1311.9 1281.9 L1313.0 1276.8 L1315.0 1282.0 L1316.2 1282.1 L1317.5 1277.5 L1319.4 1277.8 L1320.6 1277.9 L1322.1 1278.7 L1324.6 1276.2 L1326.6 1281.1 L1328.7 1273.3 L1330.0 1273.5 L1331.4 1269.8 L1332.5 1271.6 L1333.9 1270.0 L1335.8 1276.4 L1337.5 1270.7 L1338.5 1270.0 L1340.4 1265.7 L1341.5 1264.4 L1343.3 1266.4 L1344.8 1263.5 L1346.3 1267.4 L1347.4 1263.7 L1349.3 1262.3 L1350.7 1268.7 L1353.2 1269.6 L1355.5 1270.2 L1356.5 1260.9 L1358.0 1260.0 L1359.8 1260.3 L1361.2 1257.4 L1363.1 1254.7 L1364.0 1254.3 L1365.5 1254.8 L1367.7 1255.8 L1368.5 1251.9 L1370.3 1252.1 L1371.8 1249.8 L1373.6 1248.4 L1375.2 1248.8 L1375.9 1252.6 L1377.9 1261.5 L1380.0 1249.5 L1382.0 1246.2 L1383.5 1246.4 L1385.0 1248.7 L1386.9 1243.6 L1388.7 1246.3 L1389.8 1245.7 L1391.6 1249.8 L1393.0 1242.3 L1395.1 1242.6 L1397.4 1243.7 L1399.0 1243.2 L1400.5 1241.7 L1401.9 1237.6 L1403.2 1235.2 L1404.9 1233.4 L1406.3 1234.6 L1408.1 1236.6 L1410.2 1232.4 L1412.0 1234.0 L1413.5 1249.4 L1415.6 1245.3 L1416.8 1257.2 L1418.4 1254.9 L1420.3 1260.5 L1422.8 1258.2 L1424.3 1253.2 L1425.5 1257.2 L1427.4 1262.6 L1428.8 1259.1 L1430.6 1259.1 L1432.1 1260.8 L1433.2 1265.7 L1435.0 1265.2 L1437.1 1267.1 L1439.7 1268.2 L1440.5 1264.6 L1442.3 1278.7 L1443.9 1268.8 L1444.9 1266.2 L1446.7 1274.4 L1448.4 1266.6 L1450.0 1265.6 L1451.0 1265.4 L1452.4 1267.7 L1453.9 1265.8 L1455.5 1266.7 L1457.4 1267.1 L1458.9 1265.9 L1460.2 1265.0 L1462.2 1265.3 L1464.8 1265.5 L1466.0 1270.1 L1467.5 1267.6 L1469.5 1267.7 L1471.1 1270.0 L1472.3 1270.8 L1474.1 1267.5 L1475.0 1266.0 L1476.8 1270.9 L1478.2 1272.9 L1480.1 1267.5 L1481.7 1264.0 L1482.8 1268.1 L1484.5 1269.1 L1485.9 1268.0 L1487.4 1265.0 L1489.1 1264.1 L1490.3 1262.0 L1491.8 1267.3 L1493.7 1271.6 L1494.7 1265.6 L1496.2 1263.3 L1497.8 1256.1 L1499.1 1255.0 L1500.9 1251.9 L1502.1 1250.1 L1504.1 1254.2 L1505.0 1254.5 L1508.0 1261.2 L1509.7 1253.9 L1511.3 1246.8 L1512.8 1248.8 L1515.0 1246.9 L1517.4 1246.0 L1518.6 1249.8 L1520.1 1248.0 L1522.0 1255.6 L1523.3 1246.8 L1524.7 1245.6 L1526.6 1252.2 L1528.1 1249.4 L1529.0 1254.0 L1531.8 1258.4 L1533.7 1256.8 L1535.7 1253.3 L1536.5 1251.7 L1538.7 1256.0 L1539.7 1253.6 L1541.0 1255.0 L1542.4 1251.9 L1544.3 1261.8 L1545.7 1262.8 L1547.5 1262.8 L1548.9 1259.0 L1550.1 1264.8 L1551.6 1264.5 L1553.0 1265.1 L1555.1 1261.4 L1557.0 1266.1 L1559.3 1262.3 L1560.7 1265.4 L1562.4 1264.8 L1564.2 1265.9 L1565.5 1265.1 L1567.0 1265.4 L1568.4 1269.8 L1570.2 1267.7 L1571.6 1282.4 L1573.7 1274.6 L1575.4 1270.0 L1577.0 1270.1 L1578.5 1269.3 L1580.1 1269.8 L1582.0 1280.7 L1583.1 1278.4 L1585.1 1275.6 L1586.3 1271.0 L1587.5 1269.4 L1590.0 1268.5 L1592.4 1267.7 L1593.8 1266.9 L1595.3 1268.0 L1597.1 1278.9 L1598.0 1273.5 L1599.9 1267.8 L1601.0 1270.5 L1602.5 1266.1 L1604.6 1266.3 L1606.1 1263.2 L1607.5 1263.1 L1608.9 1263.6 L1610.3 1264.0 L1612.3 1265.8 L1615.1 1263.1 L1616.0 1263.4 L1617.9 1267.5 L1619.0 1270.5 L1620.6 1265.5 L1622.6 1266.9 L1624.1 1264.2 L1625.4 1263.6 L1627.2 1265.5 L1628.7 1264.6 L1629.7 1274.5 L1631.4 1278.3 L1633.0 1269.5 L1634.1 1273.9 L1636.2 1269.2 L1637.2 1266.8 L1638.8 1268.5 L1640.9 1274.2 L1643.2 1273.4 L1644.5 1268.8 L1646.2 1270.8 L1647.7 1276.3 L1649.2 1267.6 L1650.4 1265.8 L1652.7 1266.4 L1653.5 1265.2 L1655.6 1263.5 L1657.0 1275.7 L1658.1 1269.0 L1659.9 1265.2 L1661.3 1262.5 L1663.2 1261.2 L1664.6 1259.5 L1666.0 1259.5 L1667.6 1259.6 L1668.7 1261.4 L1670.2 1266.3 L1671.5 1266.8 L1673.3 1262.7 L1674.5 1260.8 L1676.4 1261.7 L1677.7 1263.9 L1679.4 1273.0 L1680.9 1276.4 L1681.9 1269.3 L1684.2 1264.9 L1685.0 1264.5 L1687.1 1268.2 L1688.5 1264.8 L1689.8 1271.8 L1691.1 1276.5 L1692.8 1269.4 L1694.6 1269.0 L1696.1 1266.5 L1697.4 1273.4 L1699.6 1280.9 L1701.5 1274.5 L1702.9 1265.7 L1705.0 1264.6 L1706.1 1272.8 L1707.6 1264.9 L1709.2 1262.0 L1710.4 1264.4 L1712.0 1262.6 L1714.0 1259.9 L1715.0 1254.6 L1716.9 1253.4 L1718.0 1255.8 L1719.9 1251.1 L1721.7 1248.8 L1722.9 1255.2 L1724.8 1252.1 L1726.1 1255.6 L1726.9 1251.1 L1728.8 1252.6 L1730.6 1249.1 L1731.7 1246.9 L1733.7 1245.5 L1735.1 1261.1 L1736.6 1251.1 L1737.9 1250.5 L1739.0 1257.6 L1741.0 1251.3 L1741.9 1249.2 L1743.8 1245.9 L1745.1 1252.5 L1746.5 1247.4 L1748.1 1246.6 L1750.0 1247.2 L1751.6 1245.6 L1752.8 1247.5 L1754.7 1245.6 L1755.5 1246.2 L1757.0 1247.2 L1758.6 1243.9 L1760.1 1256.0 L1761.4 1247.9 L1763.1 1245.0 L1764.5 1247.2 L1766.5 1245.9 L1767.4 1249.9 L1769.2 1244.2 L1770.5 1242.8 L1772.2 1243.8 L1775.1 1241.9 L1777.0 1245.3 L1778.6 1243.7 L1779.7 1245.3 L1781.3 1259.6 L1782.7 1251.4 L1784.6 1249.7 L1785.6 1249.2 L1787.4 1250.7 L1788.6 1254.0 L1790.0 1258.8 L1791.5 1251.9 L1793.2 1252.3 L1794.4 1254.0 L1795.9 1255.1 L1798.0 1260.3 L1799.7 1257.3 L1800.5 1267.7 L1802.1 1259.1 L1804.1 1257.2 L1805.2 1263.6 L1806.6 1269.4 L1808.7 1264.1 L1811.2 1259.9 L1812.8 1259.4 L1814.4 1258.5 L1816.2 1258.5 L1817.2 1257.6 L1819.1 1258.2 L1820.1 1259.0 L1822.0 1258.9 L1823.4 1267.0 L1824.9 1262.6 L1825.9 1258.2 L1827.8 1264.8 L1829.4 1270.3 L1831.1 1262.0 L1832.5 1261.2 L1833.9 1272.2 L1835.4 1262.2 L1836.6 1260.9 L1838.0 1266.5 L1839.5 1261.4 L1842.2 1257.7 L1844.4 1256.3 L1845.9 1259.3 L1847.5 1267.9 L1848.5 1262.1 L1850.1 1257.9 L1851.4 1255.9 L1853.0 1256.1 L1854.9 1256.6 L1855.9 1255.8 L1857.5 1256.9 L1859.2 1253.9 L1861.0 1255.5 L1862.2 1266.6 L1863.5 1256.5 L1864.9 1253.5 L1866.8 1257.5 L1868.6 1255.7 L1869.6 1267.8 L1871.3 1257.9 L1872.9 1254.6 L1874.1 1263.9 L1875.5 1260.6 L1877.4 1255.6 L1878.6 1254.4 L1880.1 1253.0 L1882.0 1254.4 L1884.2 1256.4 L1886.1 1255.6 L1887.8 1269.8 L1889.6 1263.1 L1891.1 1262.5 L1892.3 1265.4 L1893.7 1265.9 L1895.0 1275.1 L1896.7 1276.1 L1898.5 1284.1 L1899.8 1274.3 L1901.5 1273.7 L1903.2 1277.4 L1904.5 1273.6 L1906.2 1270.7 L1907.6 1275.7 L1908.6 1273.1 L1910.4 1283.1 L1911.9 1274.9 L1913.3 1272.8 L1914.9 1274.2 L1916.2 1275.1 L1917.9 1276.8 L1919.6 1276.8 L1920.5 1275.5 L1923.4 1274.1 L1925.3 1275.8 L1927.2 1277.7 L1928.2 1273.9 L1929.6 1280.9 L1931.6 1279.2 L1932.8 1272.9 L1934.3 1273.6 L1935.8 1273.0 L1937.5 1270.1 L1938.6 1276.5 L1940.4 1273.1 L1941.6 1267.4 L1943.3 1267.5 L1944.7 1279.5 L1946.1 1268.6 L1947.8 1265.4 L1949.0 1265.2 L1950.5 1267.8 L1952.4 1263.0 L1953.6 1267.4 L1955.7 1266.4 L1957.1 1267.4 L1958.3 1261.1 L1961.3 1258.2 L1962.5 1259.2 L1964.1 1258.1 L1965.6 1260.6 L1967.5 1263.2 L1969.0 1265.6 L1970.0 1261.2 L1971.5 1257.1 L1973.7 1255.5 L1974.9 1259.5 L1976.1 1255.5 L1977.5 1252.4 L1979.2 1257.2 L1981.1 1253.7 L1982.5 1249.3 L1983.8 1255.3 L1985.5 1250.2 L1986.6 1248.6 L1988.3 1251.4 L1990.0 1248.0 L1991.4 1249.0 L1992.4 1252.9 L1994.0 1250.1 L1995.9 1244.2 L1997.5 1248.3 L1998.5 1256.1 L2001.0 1255.2 L2003.5 1255.0 L2004.7 1254.3 L2006.0 1243.9 L2007.6 1241.0 L2008.9 1243.4 L2011.0 1241.8 L2012.4 1244.2 L2014.1 1243.2 L2015.6 1242.1 L2016.8 1244.5 L2018.3 1245.5 L2019.9 1241.2 L2021.0 1241.0 L2023.1 1242.7 L2024.7 1240.1 L2025.6 1239.9 L2027.4 1239.3 L2028.7 1239.2 L2030.2 1250.4 L2031.4 1244.4 L2033.0 1252.5 L2034.7 1247.9 L2036.6 1248.8 L2038.0 1248.3 L2039.2 1244.1 L2040.6 1244.0 L2042.7 1246.5 L2045.6 1246.4 L2046.7 1245.3 L2048.7 1245.1 L2049.4 1252.0 L2051.4 1248.8 L2053.2 1244.6 L2054.5 1246.6 L2055.8 1244.9 L2057.5 1244.5 L2058.4 1244.3 L2060.5 1247.7 L2062.2 1250.5 L2063.4 1249.5 L2065.4 1262.7 L2066.7 1259.5 L2067.7 1253.5 L2069.7 1250.7 L2070.6 1249.5 L2072.5 1252.4 L2074.0 1250.5 L2075.5 1254.6 L2076.6 1258.8 L2078.5 1257.5 L2079.7 1255.1 L2081.1 1253.5 L2083.2 1256.3 L2084.5 1256.2 L2085.9 1256.3 L2087.2 1255.9 L2088.9 1257.3 L2090.6 1267.1 L2092.1 1260.7 L2093.4 1258.9 L2094.5 1260.4 L2096.1 1261.6 L2098.0 1268.3 L2099.6 1262.6 L2100.9 1267.0 L2103.3 1273.3 L2105.5 1266.7 L2106.9 1266.4 L2108.3 1277.7 L2109.7 1269.0 L2111.3 1264.5 L2112.9 1269.6 L2114.3 1272.0 L2115.6 1267.4 L2117.6 1264.3 L2118.7 1263.2 L2120.2 1269.8 L2121.9 1272.8 L2123.6 1272.8 L2125.0 1266.3 L2126.2 1266.8 L2128.0 1264.1 L2129.3 1265.9 L2130.8 1267.2 L2132.7 1263.1 L2133.9 1261.7 L2135.3 1268.3 L2137.0 1269.8 L2137.9 1277.7 L2139.4 1275.2 L2141.5 1266.7 L2143.0 1266.4 L2144.1 1263.7 L2145.8 1263.6 L2147.6 1262.1 L2148.5 1264.6 L2150.6 1264.3 L2151.9 1265.6 L2153.3 1276.2 L2154.5 1278.9 L2156.6 1273.5 L2157.9 1267.7 L2159.0 1269.3 L2161.0 1265.9 L2162.5 1271.0 L2163.8 1276.7 L2165.4 1270.7 L2167.0 1273.0 L2168.6 1269.9 L2170.1 1270.1 L2171.5 1270.4 L2173.1 1277.8 L2173.9 1279.0 L2176.1 1276.6 L2177.6 1280.2 L2178.8 1275.1 L2180.0 1274.1 L2182.0 1274.9 L2183.4 1280.4 L2184.6 1282.7 L2186.0 1279.5 L2187.7 1278.7 L2189.2 1277.3 L2191.1 1289.4 L2192.6 1282.3 L2193.9 1282.6 L2195.3 1284.6 L2196.6 1282.4 L2197.9 1285.8 L2200.0 1287.3 L2201.3 1285.5 L2202.6 1299.4 L2204.5 1300.6 L2205.8 1291.1 L2207.2 1287.7 L2208.7 1288.4 L2210.3 1289.7 L2211.6 1289.9 L2213.6 1295.0 L2214.6 1296.7 L2216.5 1295.0 L2218.0 1297.0 L2219.1 1296.6 L2221.2 1299.6 L2222.6 1299.7 L2223.8 1299.2 L2225.6 1302.0 L2227.1 1299.8 L2228.5 1304.1 L2229.9 1310.6 L2231.5 1306.5 L2232.7 1303.1 L2234.1 1304.6 L2235.8 1316.0 L2237.5 1307.6 L2239.0 1308.4 L2240.2 1307.5 L2242.0 1307.3 L2243.4 1307.9 L2244.6 1309.7 L2246.5 1310.1 L2247.8 1315.0 L2248.9 1318.9 L2251.1 1316.1 L2252.6 1315.6 L2254.2 1318.4 L2255.6 1318.0 L2257.0 1324.0 L2258.3 1319.1 L2260.0 1318.0 L2261.5 1321.7 L2263.1 1327.0 L2264.6 1331.2 L2265.8 1330.6 L2267.6 1329.0 L2268.8 1322.9 L2270.4 1334.8 L2271.9 1328.3 L2273.7 1326.8 L2276.1 1325.1 L2278.0 1327.8 L2278.9 1329.1 L2281.1 1332.3 L2282.2 1329.1 L2284.1 1333.1 L2285.6 1332.7 L2286.8 1333.6 L2288.0 1340.6 L2290.0 1335.5 L2291.1 1333.8 L2292.4 1334.4 L2294.4 1339.8 L2295.5 1336.2 L2297.6 1343.1 L2298.6 1345.2 L2300.0 1340.4 L2302.0 1339.7 L2303.6 1344.4 L2305.8 1345.7 L2307.8 1340.3 L2309.1 1340.0 L2310.8 1333.8 L2311.9 1335.8 L2313.9 1330.5 L2315.2 1325.9 L2317.2 1326.6 L2319.6 1331.1 L2321.2 1331.4 L2322.7 1330.7 L2324.6 1333.7 L2325.5 1340.8 L2327.0 1338.9 L2328.6 1338.0 L2330.0 1354.8 L2332.1 1353.5 L2333.7 1352.1 L2334.5 1346.5 L2336.0 1346.8 L2337.7 1345.7" stroke="#568bb4"/>
<path d="M372.5 1312.2 L374.4 1312.6 L375.7 1316.7 L377.2 1314.9 L378.9 1326.3 L381.7 1316.4 L383.4 1312.8 L385.1 1312.3 L386.3 1319.5 L387.7 1313.4 L389.3 1309.2 L390.9 1316.5 L392.6 1314.8 L393.7 1309.2 L395.3 1310.2 L396.7 1313.6 L398.0 1308.9 L400.2 1308.2 L402.9 1306.1 L404.6 1310.1 L405.4 1307.7 L407.3 1306.7 L409.1 1306.6 L410.7 1304.4 L411.5 1305.4 L413.0 1304.8 L414.5 1308.2 L416.2 1313.8 L417.7 1314.2 L419.4 1313.7 L420.4 1312.0 L422.6 1305.7 L423.9 1303.6 L425.3 1302.7 L427.2 1302.9 L428.2 1317.6 L429.6 1309.8 L431.5 1309.6 L433.0 1311.2 L434.5 1306.7 L436.1 1303.5 L437.0 1306.1 L439.1 1304.3 L440.1 1310.5 L441.9 1305.6 L443.1 1308.0 L444.8 1302.2 L446.7 1311.9 L447.7 1301.3 L450.5 1301.3 L452.6 1298.2 L453.8 1298.3 L455.2 1310.1 L457.1 1300.4 L458.1 1301.9 L460.0 1307.4 L461.1 1298.4 L462.7 1302.0 L464.5 1298.4 L465.7 1296.0 L467.3 1294.0 L468.5 1292.5 L470.1 1295.3 L471.5 1293.4 L473.6 1292.5 L475.1 1294.6 L476.5 1291.6 L478.1 1294.0 L478.9 1294.1 L481.0 1300.7 L481.9 1297.9 L483.5 1292.6 L484.9 1293.3 L486.5 1298.4 L487.9 1290.6 L490.1 1287.9 L491.1 1290.2 L492.5 1298.7 L494.4 1301.6 L495.7 1301.5 L497.3 1292.9 L498.9 1293.0 L500.6 1295.8 L501.8 1290.2 L503.1 1292.3 L505.1 1291.0 L506.4 1289.9 L507.9 1287.2 L509.3 1285.6 L511.1 1288.9 L512.4 1293.4 L513.8 1288.2 L515.7 1290.8 L517.1 1299.2 L518.0 1295.4 L520.0 1301.9 L521.2 1291.1 L522.7 1288.5 L524.5 1287.6 L526.0 1288.1 L527.7 1291.6 L528.9 1293.2 L530.1 1290.3 L531.5 1288.6 L533.0 1292.5 L534.4 1289.8 L536.1 1292.8 L537.9 1296.4 L539.5 1293.9 L540.6 1299.0 L542.3 1296.4 L544.0 1299.5 L545.1 1294.7 L546.5 1297.2 L548.0 1302.4 L549.4 1297.8 L551.2 1299.5 L553.1 1296.6 L554.4 1293.9 L555.5 1293.4 L557.2 1295.0 L558.8 1294.7 L560.2 1292.1 L561.4 1290.0 L563.1 1288.9 L564.6 1290.1 L566.2 1289.3 L567.8 1298.5 L569.0 1289.5 L570.7 1300.8 L572.2 1293.6 L574.2 1286.4 L575.0 1293.8 L576.4 1294.2 L578.4 1289.0 L580.2 1289.0 L581.6 1290.3 L582.5 1283.9 L584.0 1281.9 L585.9 1280.9 L587.1 1283.5 L588.7 1296.2 L590.2 1287.4 L591.9 1291.0 L593.3 1283.1 L594.5 1283.0 L596.5 1280.3 L598.0 1293.9 L599.1 1282.9 L601.5 1280.3 L603.4 1283.7 L605.2 1283.1 L607.2 1281.8 L608.4 1293.6 L609.6 1282.1 L611.7 1278.5 L612.5 1293.0 L613.9 1283.6 L615.8 1278.9 L617.1 1278.0 L618.8 1281.3 L620.0 1280.2 L622.0 1276.8 L623.5 1281.0 L624.8 1278.2 L626.7 1278.0 L629.6 1278.1 L630.5 1278.7 L632.3 1281.3 L633.9 1295.3 L635.4 1292.5 L636.9 1288.0 L638.6 1290.9 L639.5 1294.6 L641.0 1289.9 L643.5 1290.9 L645.8 1298.8 L647.7 1295.1 L648.6 1293.6 L650.0 1296.8 L652.2 1296.5 L653.1 1311.1 L654.5 1301.1 L655.9 1300.3 L657.5 1299.0 L660.3 1307.0 L662.3 1304.4 L663.5 1308.8 L665.2 1317.6 L666.4 1312.9 L668.2 1322.4 L669.6 1318.7 L671.5 1321.7 L672.8 1322.6 L674.6 1323.6 L675.4 1323.0 L677.4 1323.1 L678.9 1323.8 L680.1 1326.7 L681.6 1328.3 L683.4 1331.7 L685.5 1333.6 L687.6 1334.5 L689.4 1344.7 L690.4 1339.0 L692.0 1339.1 L693.8 1337.1 L695.0 1333.5 L696.9 1335.3 L698.1 1335.1 L700.0 1346.0 L702.2 1336.0 L704.0 1336.4 L705.9 1335.8 L706.9 1341.8 L709.1 1336.1 L710.5 1333.6 L712.1 1335.5 L712.9 1333.8 L714.5 1330.5 L716.1 1329.4 L717.5 1345.0 L719.0 1337.2 L720.7 1330.0 L722.1 1327.1 L723.6 1329.1 L725.1 1321.6 L726.6 1318.1 L728.6 1315.8 L729.9 1315.1 L731.4 1320.2 L732.4 1314.3 L734.2 1312.1 L735.8 1312.3 L738.4 1303.8 L740.1 1299.1 L742.0 1295.5 L743.5 1292.7 L745.0 1293.4 L746.5 1291.6 L748.0 1295.7 L749.6 1290.7 L751.1 1290.8 L752.4 1283.8 L755.0 1286.1 L756.5 1281.7 L758.1 1276.2 L759.7 1275.8 L761.1 1272.7 L763.4 1270.6 L765.5 1270.4 L767.1 1269.7 L768.4 1268.2 L770.2 1267.3 L772.2 1266.7 L772.9 1270.1 L774.8 1272.7 L776.6 1270.5 L778.0 1273.5 L779.7 1267.9 L780.7 1266.4 L781.9 1263.8 L783.5 1263.4 L785.7 1267.3 L786.9 1271.6 L788.3 1270.4 L789.5 1271.3 L791.0 1278.3 L793.2 1279.2 L794.5 1274.9 L795.7 1274.3 L797.0 1277.6 L799.0 1277.0 L800.6 1282.3 L801.5 1285.1 L803.1 1289.2 L804.5 1284.1 L806.2 1292.2 L808.7 1290.4 L810.5 1286.7 L812.7 1290.3 L813.6 1287.7 L815.7 1288.2 L817.0 1290.3 L818.6 1290.0 L820.1 1291.5 L821.5 1298.6 L822.5 1296.0 L824.2 1295.1 L825.5 1299.5 L827.4 1305.2 L828.6 1302.2 L830.3 1313.1 L831.6 1305.8 L832.9 1304.9 L835.0 1318.1 L836.4 1311.6 L838.1 1313.4 L839.5 1322.7 L840.9 1328.2 L842.3 1319.7 L843.7 1328.7 L845.5 1321.8 L847.0 1318.5 L848.2 1314.6 L849.7 1316.9 L851.3 1315.3 L852.9 1313.5 L854.4 1312.8 L856.0 1314.4 L857.7 1314.7 L858.9 1314.3 L860.6 1314.8 L861.6 1314.1 L863.5 1313.4 L864.9 1313.2 L866.1 1313.5 L867.5 1314.5 L869.0 1316.6 L871.2 1319.7 L872.5 1317.7 L873.9 1315.1 L875.0 1327.8 L876.8 1317.4 L878.5 1313.0 L879.7 1311.7 L881.4 1322.5 L883.0 1315.4 L884.5 1313.3 L886.1 1314.0 L887.6 1318.1 L889.2 1313.5 L890.5 1310.2 L891.9 1310.1 L893.3 1313.0 L895.2 1315.2 L896.7 1312.9 L897.5 1310.4 L899.5 1308.5 L901.0 1307.4 L902.4 1322.9 L903.4 1313.3 L905.3 1308.4 L906.8 1312.2 L908.4 1308.4 L909.5 1308.4 L911.3 1310.5 L912.6 1315.2 L914.5 1308.3 L915.8 1307.5 L917.5 1306.1 L918.7 1313.7 L920.7 1309.4 L921.6 1317.2 L922.8 1307.5 L924.6 1307.8 L926.5 1304.9 L927.7 1301.5 L929.2 1299.7 L930.9 1296.9 L932.4 1295.5 L934.0 1293.5 L935.5 1291.2 L936.4 1290.8 L938.3 1289.5 L939.6 1292.6 L941.1 1286.1 L943.1 1284.2 L944.4 1293.5 L945.6 1289.9 L947.2 1284.9 L949.1 1285.9 L950.7 1280.0 L951.6 1281.6 L953.1 1279.5 L954.5 1277.6 L956.3 1275.3 L957.7 1276.5 L959.2 1273.8 L960.8 1275.9 L962.6 1273.5 L964.8 1278.7 L966.5 1274.0 L968.3 1270.4 L970.0 1276.3 L971.0 1271.6 L972.8 1272.1 L974.6 1274.6 L976.1 1275.7 L977.7 1278.6 L978.8 1275.1 L981.5 1276.5 L983.2 1280.4 L985.1 1278.9 L986.3 1276.8 L988.0 1278.6 L989.1 1273.2 L990.4 1274.0 L992.5 1273.6 L993.9 1270.4 L995.3 1274.3 L996.4 1270.6 L998.3 1269.2 L1001.1 1280.3 L1002.6 1274.2 L1004.3 1270.4 L1005.6 1271.7 L1007.5 1272.8 L1008.5 1274.8 L1010.1 1285.9 L1012.0 1278.4 L1013.3 1278.4 L1014.9 1274.5 L1016.6 1277.5 L1017.8 1280.2 L1019.6 1278.1 L1020.7 1275.7 L1023.5 1277.2 L1025.1 1290.7 L1027.0 1285.3 L1028.6 1276.6 L1029.7 1274.6 L1031.1 1275.3 L1032.7 1273.9 L1034.4 1276.4 L1035.8 1274.9 L1037.1 1272.3 L1039.1 1272.6 L1039.9 1277.4 L1041.6 1271.7 L1043.0 1280.2 L1044.7 1284.9 L1045.9 1279.8 L1048.2 1272.1 L1049.6 1275.6 L1050.9 1269.1 L1052.5 1272.3 L1053.8 1272.0 L1055.1 1275.1 L1057.1 1271.6 L1058.3 1265.9 L1060.0 1263.0 L1061.6 1262.9 L1062.9 1260.9 L1064.4 1268.4 L1065.6 1261.4 L1067.6 1257.7 L1068.9 1257.5 L1070.1 1270.8 L1071.4 1259.7 L1073.8 1263.2 L1076.2 1256.5 L1077.8 1261.8 L1079.3 1257.3 L1080.5 1258.4 L1082.2 1260.6 L1084.2 1269.7 L1085.2 1265.1 L1087.2 1264.7 L1088.3 1264.3 L1090.6 1264.3 L1092.6 1262.6 L1094.1 1265.7 L1095.8 1267.9 L1097.3 1265.4 L1099.0 1271.5 L1100.1 1266.6 L1101.7 1264.7 L1103.2 1266.5 L1104.9 1278.0 L1106.0 1277.6 L1107.4 1276.4 L1109.3 1278.5 L1110.8 1271.2 L1112.5 1268.9 L1113.9 1273.3 L1115.6 1277.4 L1116.9 1272.2 L1118.3 1270.8 L1120.0 1270.2 L1121.4 1270.1 L1122.6 1270.9 L1124.2 1271.5 L1126.0 1278.3 L1127.6 1280.3 L1129.0 1282.4 L1130.5 1275.3 L1131.9 1280.7 L1132.9 1284.3 L1135.0 1284.2 L1137.7 1278.5 L1139.1 1276.9 L1140.8 1276.3 L1142.5 1273.5 L1143.8 1271.0 L1145.4 1268.1 L1146.8 1268.3 L1148.0 1265.2 L1149.5 1271.3 L1151.5 1263.0 L1152.8 1260.3 L1154.1 1264.7 L1155.8 1260.3 L1157.4 1256.5 L1158.9 1256.8 L1160.2 1254.3 L1161.8 1257.2 L1163.6 1254.8 L1165.1 1256.1 L1166.5 1255.6 L1168.1 1255.0 L1169.6 1271.5 L1170.9 1263.8 L1172.7 1267.3 L1173.8 1263.0 L1175.6 1259.7 L1176.8 1259.5 L1178.1 1268.4 L1179.7 1267.6 L1181.5 1268.1 L1182.7 1262.9 L1184.1 1266.1 L1186.1 1266.2 L1187.1 1265.2 L1189.0 1263.8 L1190.5 1264.0 L1192.1 1277.5 L1193.7 1278.2 L1195.0 1272.9 L1196.0 1266.8 L1197.7 1267.0 L1198.9 1268.2 L1201.1 1271.9 L1202.5 1274.4 L1203.8 1274.6 L1205.6 1276.9 L1206.7 1277.4 L1208.7 1282.3 L1210.1 1289.5 L1211.6 1286.7 L1212.9 1281.5 L1215.0 1281.5 L1217.5 1286.3 L1218.4 1283.1 L1220.6 1289.9 L1221.7 1289.7 L1223.5 1288.8 L1224.9 1287.6 L1226.2 1287.9 L1227.8 1290.4 L1229.4 1292.7 L1230.5 1289.7 L1232.6 1293.7 L1233.5 1290.2 L1235.7 1290.7 L1238.6 1296.9 L1239.8 1292.3 L1241.6 1294.1 L1242.6 1293.4 L1244.2 1291.5 L1246.0 1301.5 L1247.7 1293.3 L1248.7 1295.8 L1250.2 1295.8 L1251.7 1291.1 L1253.0 1289.4 L1255.1 1297.4 L1256.1 1292.5 L1257.7 1301.9 L1259.1 1291.9 L1260.6 1292.2 L1262.0 1294.4 L1263.7 1288.7 L1265.4 1287.1 L1266.8 1284.7 L1268.0 1290.5 L1269.3 1300.1 L1271.3 1290.6 L1273.0 1288.1 L1274.6 1287.2 L1275.5 1285.9 L1277.0 1289.5 L1278.5 1290.0 L1280.2 1291.4 L1281.5 1289.4 L1283.2 1292.4 L1284.4 1291.2 L1286.2 1291.6 L1287.6 1291.0 L1289.6 1292.7 L1290.6 1292.9 L1292.5 1297.9 L1293.7 1303.5 L1295.4 1298.0 L1296.6 1296.0 L1298.4 1295.2 L1300.0 1296.7 L1301.3 1300.9 L1302.8 1298.8 L1304.1 1295.4 L1306.2 1294.8 L1307.2 1298.2 L1309.1 1299.0 L1310.7 1293.8 L1311.4 1289.6 L1313.5 1292.0 L1314.5 1294.9 L1316.2 1292.8 L1317.9 1284.4 L1319.1 1293.7 L1320.9 1285.8 L1322.1 1295.9 L1323.6 1285.8 L1325.3 1280.8 L1326.8 1282.7 L1328.5 1281.2 L1329.7 1288.3 L1331.2 1294.1 L1332.8 1291.0 L1334.0 1283.1 L1336.0 1282.2 L1337.1 1278.4 L1338.6 1279.0 L1340.1 1282.2 L1341.4 1278.8 L1343.4 1284.8 L1344.8 1282.8 L1346.4 1279.6 L1347.8 1285.0 L1349.1 1276.6 L1350.7 1272.0 L1352.2 1273.3 L1354.2 1269.0 L1355.6 1271.0 L1356.7 1272.6 L1358.1 1266.0 L1359.7 1275.3 L1361.1 1268.4 L1362.4 1269.7 L1364.2 1265.0 L1365.7 1267.2 L1367.4 1262.4 L1368.4 1259.2 L1370.1 1255.7 L1371.4 1254.6 L1373.0 1257.2 L1374.8 1253.9 L1376.3 1258.9 L1378.3 1253.2 L1380.9 1259.7 L1381.9 1260.7 L1384.1 1263.2 L1385.3 1255.7 L1386.4 1261.4 L1388.7 1259.7 L1389.6 1253.9 L1391.5 1253.7 L1393.0 1254.1 L1394.4 1253.2 L1395.9 1253.9 L1397.3 1255.6 L1399.1 1254.6 L1400.2 1259.7 L1401.7 1259.4 L1403.2 1259.2 L1405.0 1263.2 L1406.3 1259.5 L1407.6 1259.3 L1409.5 1264.0 L1410.5 1260.0 L1412.6 1261.6 L1413.7 1268.7 L1414.9 1265.6 L1417.0 1261.8 L1418.6 1262.7 L1420.3 1262.7 L1422.8 1262.5 L1424.0 1264.4 L1425.9 1266.4 L1427.4 1267.1 L1428.4 1272.5 L1430.0 1270.4 L1431.9 1273.9 L1433.1 1267.1 L1434.6 1266.8 L1436.7 1268.8 L1437.7 1277.2 L1439.2 1273.2 L1441.1 1272.2 L1442.6 1273.4 L1444.1 1272.6 L1445.5 1270.5 L1446.9 1274.9 L1448.2 1273.4 L1449.9 1274.6 L1451.1 1277.7 L1452.4 1275.1 L1454.7 1273.4 L1455.9 1279.8 L1457.5 1277.1 L1459.0 1276.9 L1460.0 1276.3 L1461.9 1275.0 L1463.7 1279.8 L1464.4 1278.4 L1466.6 1276.7 L1467.5 1279.5 L1469.2 1279.0 L1470.6 1287.3 L1472.5 1281.4 L1474.0 1285.9 L1475.0 1280.2 L1476.9 1281.8 L1478.4 1280.3 L1479.8 1279.5 L1481.6 1277.2 L1483.1 1282.2 L1484.4 1279.3 L1486.2 1277.0 L1487.3 1277.0 L1488.4 1276.5 L1490.3 1276.2 L1491.6 1277.4 L1493.3 1277.2 L1494.9 1279.6 L1495.9 1279.0 L1498.0 1287.4 L1499.7 1279.1 L1500.9 1284.6 L1502.0 1283.8 L1504.2 1281.1 L1506.7 1275.1 L1508.1 1277.3 L1509.8 1274.4 L1511.6 1273.2 L1512.9 1272.9 L1515.0 1268.7 L1516.9 1274.2 L1518.9 1284.2 L1520.6 1281.3 L1521.8 1287.8 L1523.4 1284.4 L1526.2 1282.7 L1527.4 1284.5 L1529.7 1281.6 L1530.8 1285.3 L1532.6 1280.4 L1533.8 1285.3 L1535.2 1279.3 L1536.6 1277.8 L1538.7 1277.5 L1539.7 1275.8 L1540.9 1281.2 L1543.2 1274.9 L1544.4 1277.6 L1546.1 1278.5 L1547.3 1273.4 L1548.6 1273.1 L1550.3 1274.9 L1551.7 1273.1 L1553.5 1280.8 L1554.4 1280.5 L1556.3 1278.0 L1557.9 1278.4 L1559.0 1278.4 L1560.5 1279.7 L1562.1 1285.8 L1563.7 1285.1 L1565.0 1284.1 L1567.1 1286.2 L1568.6 1295.3 L1570.1 1293.7 L1571.0 1294.0 L1572.9 1292.9 L1573.9 1296.8 L1576.0 1297.8 L1577.7 1308.6 L1578.8 1299.7 L1580.5 1299.4 L1582.1 1299.7 L1583.7 1299.0 L1584.6 1297.9 L1586.2 1302.6 L1587.6 1301.2 L1589.5 1301.0 L1590.8 1297.3 L1592.0 1297.2 L1594.0 1296.9 L1595.6 1296.6 L1596.9 1297.0 L1598.1 1300.2 L1599.5 1297.9 L1601.3 1296.9 L1603.1 1293.0 L1604.6 1298.1 L1606.2 1292.4 L1607.5 1304.8 L1608.7 1296.4 L1610.1 1290.9 L1612.2 1289.0 L1613.1 1290.2 L1615.7 1286.9 L1618.1 1287.2 L1619.3 1290.5 L1620.8 1301.9 L1622.0 1291.1 L1623.4 1290.8 L1625.6 1287.3 L1626.9 1286.2 L1627.9 1287.0 L1630.0 1286.4 L1631.1 1291.9 L1632.5 1295.9 L1634.5 1290.4 L1635.8 1291.3 L1636.9 1287.7 L1638.7 1286.1 L1640.4 1286.7 L1641.8 1291.9 L1643.2 1288.2 L1645.1 1286.7 L1646.4 1289.8 L1647.4 1288.7 L1649.2 1291.5 L1651.1 1287.5 L1652.5 1298.4 L1654.3 1290.0 L1655.5 1288.3 L1656.6 1286.2 L1658.1 1287.5 L1659.9 1293.5 L1661.2 1289.1 L1663.2 1293.1 L1664.5 1299.6 L1665.6 1291.5 L1667.4 1287.7 L1668.4 1289.4 L1670.7 1285.3 L1672.0 1284.9 L1673.5 1286.8 L1674.9 1286.0 L1676.3 1289.0 L1678.1 1288.2 L1679.7 1285.5 L1681.0 1295.0 L1682.1 1286.4 L1684.2 1287.1 L1685.6 1285.0 L1686.7 1285.7 L1688.4 1284.4 L1689.7 1287.9 L1691.0 1291.0 L1693.0 1290.6 L1694.6 1285.1 L1696.1 1281.9 L1697.4 1281.8 L1698.9 1295.5 L1700.0 1294.9 L1701.8 1284.4 L1703.0 1287.2 L1704.6 1281.4 L1706.6 1278.0 L1708.1 1276.5 L1709.4 1274.0 L1711.1 1275.1 L1712.3 1273.9 L1714.0 1271.7 L1716.4 1270.1 L1718.4 1268.3 L1720.0 1274.7 L1721.3 1272.6 L1722.9 1273.4 L1724.4 1275.9 L1726.0 1270.0 L1727.0 1264.5 L1729.0 1262.4 L1730.5 1261.1 L1732.0 1262.7 L1733.5 1259.3 L1734.8 1254.7 L1735.9 1252.9 L1738.2 1249.5 L1739.6 1252.0 L1741.1 1250.1 L1742.0 1255.5 L1743.9 1254.2 L1745.6 1257.1 L1746.5 1253.4 L1748.2 1254.3 L1749.5 1264.3 L1751.7 1255.2 L1752.5 1265.0 L1753.9 1261.2 L1755.9 1261.9 L1757.3 1258.7 L1759.0 1262.1 L1760.0 1262.8 L1761.6 1262.6 L1763.5 1262.9 L1764.7 1262.1 L1766.7 1260.6 L1769.1 1261.4 L1770.9 1259.9 L1772.2 1264.8 L1773.5 1259.2 L1775.0 1260.1 L1776.8 1262.9 L1778.3 1258.9 L1780.0 1265.2 L1781.4 1264.7 L1783.1 1258.4 L1784.5 1256.0 L1786.0 1260.3 L1787.1 1258.4 L1788.5 1263.7 L1790.7 1261.6 L1792.1 1260.2 L1793.1 1258.4 L1795.1 1259.9 L1796.3 1259.6 L1798.0 1268.4 L1799.4 1275.4 L1801.1 1273.5 L1802.0 1270.4 L1803.6 1269.2 L1805.6 1268.8 L1806.6 1268.0 L1808.1 1276.7 L1809.5 1270.9 L1811.2 1271.1 L1812.6 1277.3 L1814.4 1273.4 L1815.9 1282.3 L1817.1 1272.7 L1819.0 1277.7 L1820.0 1274.1 L1821.5 1272.0 L1823.6 1272.9 L1824.8 1270.9 L1826.1 1270.7 L1828.1 1282.7 L1829.6 1272.5 L1830.6 1273.8 L1832.0 1270.0 L1834.1 1269.4 L1835.2 1270.8 L1836.6 1270.4 L1838.9 1266.8 L1841.3 1281.2 L1842.8 1270.5 L1844.1 1269.0 L1845.4 1271.3 L1847.4 1271.3 L1848.5 1275.3 L1850.5 1276.4 L1852.1 1271.0 L1852.9 1275.1 L1854.8 1274.4 L1856.1 1272.7 L1857.7 1278.3 L1859.3 1274.4 L1861.0 1278.0 L1862.3 1276.5 L1863.5 1279.8 L1865.0 1281.8 L1867.4 1277.7 L1870.1 1274.1 L1871.0 1287.9 L1872.7 1286.1 L1874.6 1279.3 L1875.4 1273.9 L1877.7 1271.8 L1878.9 1272.5 L1880.5 1277.4 L1882.0 1279.5 L1883.2 1274.7 L1885.0 1270.9 L1886.2 1271.0 L1888.0 1275.1 L1889.6 1273.6 L1891.1 1271.1 L1892.1 1270.0 L1895.0 1279.4 L1896.7 1270.4 L1898.0 1273.9 L1899.5 1274.8 L1901.3 1275.5 L1902.9 1277.4 L1904.3 1277.3 L1906.2 1275.6 L1907.6 1272.3 L1908.9 1270.6 L1910.0 1273.9 L1912.0 1274.0 L1913.2 1269.7 L1914.9 1272.8 L1916.5 1272.1 L1918.0 1276.8 L1919.6 1270.6 L1921.0 1268.5 L1922.4 1274.7 L1924.1 1269.9 L1924.9 1267.8 L1926.8 1268.5 L1928.0 1268.3 L1929.5 1269.8 L1931.4 1272.5 L1932.9 1271.3 L1934.2 1273.1 L1935.8 1270.8 L1937.5 1270.6 L1938.8 1269.6 L1940.3 1268.4 L1941.9 1271.1 L1943.5 1271.6 L1945.1 1268.4 L1946.7 1268.9 L1947.8 1270.3 L1949.6 1275.8 L1951.2 1270.4 L1952.2 1269.2 L1954.1 1276.7 L1955.2 1283.9 L1957.0 1270.9 L1958.0 1276.4 L1959.4 1275.6 L1961.5 1271.3 L1962.6 1270.8 L1964.1 1271.2 L1965.5 1270.2 L1967.3 1275.6 L1969.1 1282.9 L1970.3 1284.5 L1971.5 1273.2 L1973.3 1271.2 L1974.5 1269.1 L1976.0 1270.1 L1977.7 1270.7 L1979.0 1270.0 L1980.2 1269.7 L1982.5 1271.4 L1983.8 1272.7 L1984.9 1270.2 L1986.4 1269.3 L1988.1 1269.2 L1990.2 1271.3 L1991.5 1270.6 L1992.8 1271.8 L1994.6 1278.5 L1995.5 1276.8 L1997.1 1280.8 L1999.0 1275.5 L2000.0 1277.3 L2002.1 1272.9 L2002.9 1272.5 L2004.9 1274.6 L2006.6 1279.8 L2007.4 1282.0 L2009.1 1277.9 L2010.5 1272.8 L2011.9 1271.0 L2013.7 1286.2 L2015.0 1284.0 L2017.0 1274.7 L2018.1 1275.4 L2020.0 1272.0 L2021.6 1279.3 L2022.7 1273.7 L2024.6 1274.2 L2025.9 1277.8 L2027.5 1276.0 L2028.8 1275.3 L2030.6 1274.9 L2031.9 1272.0 L2033.5 1269.9 L2034.5 1268.7 L2036.2 1267.3 L2037.9 1268.1 L2039.6 1266.3 L2041.0 1267.7 L2042.2 1268.2 L2043.7 1265.6 L2045.4 1264.6 L2047.1 1262.3 L2048.6 1261.0 L2049.8 1261.1 L2051.4 1262.6 L2053.1 1261.0 L2054.5 1269.7 L2056.1 1260.5 L2057.3 1262.5 L2059.0 1260.4 L2060.2 1256.5 L2062.2 1262.8 L2063.3 1263.6 L2065.4 1256.4 L2068.0 1261.9 L2069.5 1265.4 L2071.2 1267.1 L2072.5 1261.3 L2073.7 1265.6 L2075.6 1270.4 L2076.8 1267.9 L2078.2 1265.2 L2079.7 1270.2 L2081.3 1269.1 L2083.1 1269.9 L2084.2 1269.1 L2085.7 1270.6 L2087.4 1274.4 L2088.8 1273.4 L2090.0 1277.2 L2091.7 1277.4 L2093.1 1284.9 L2095.1 1289.8 L2096.3 1282.5 L2097.9 1284.4 L2099.5 1283.6 L2100.8 1283.8 L2102.0 1287.9 L2104.1 1290.0 L2105.3 1288.5 L2106.6 1292.1 L2108.9 1292.3 L2111.4 1290.0 L2113.0 1294.4 L2114.2 1285.0 L2116.2 1278.9 L2117.5 1273.2 L2119.0 1273.3 L2120.6 1265.5 L2122.2 1267.9 L2123.6 1262.7 L2124.9 1267.8 L2126.1 1263.2 L2127.9 1263.2 L2129.1 1267.7 L2131.0 1271.8 L2132.1 1275.8 L2133.8 1268.9 L2135.3 1273.0 L2136.7 1270.6 L2138.3 1273.1 L2140.0 1269.6 L2141.2 1274.2 L2142.5 1274.8 L2144.4 1281.8 L2145.6 1284.1 L2147.6 1275.9 L2148.8 1272.8 L2150.0 1273.1 L2152.0 1277.7 L2153.3 1279.0 L2155.0 1279.2 L2156.4 1278.0 L2157.4 1280.9 L2160.1 1278.2 L2162.0 1278.9 L2163.5 1284.4 L2165.1 1283.0 L2167.2 1283.5 L2168.0 1287.9 L2169.5 1294.0 L2171.4 1292.8 L2172.8 1291.4 L2174.5 1294.5 L2175.9 1306.2 L2177.2 1299.2 L2178.9 1294.8 L2179.9 1294.1 L2181.8 1303.7 L2183.5 1305.7 L2184.7 1305.0 L2186.2 1302.6 L2188.5 1302.2 L2190.4 1308.5 L2192.1 1310.0 L2193.6 1307.0 L2195.4 1308.9 L2197.1 1308.3 L2197.9 1312.6 L2199.9 1310.3 L2201.0 1320.4 L2202.6 1312.6 L2204.4 1310.5 L2205.6 1313.2 L2207.2 1313.0 L2209.1 1320.4 L2209.9 1316.6 L2212.1 1317.9 L2213.0 1318.8 L2214.5 1319.9 L2216.3 1320.0 L2218.1 1327.0 L2219.2 1324.4 L2220.7 1320.2 L2222.5 1320.2 L2224.1 1321.6 L2225.3 1331.5 L2226.7 1326.4 L2228.3 1327.3 L2229.5 1324.7 L2231.3 1330.4 L2233.1 1326.9 L2234.6 1325.7 L2235.8 1326.2 L2237.2 1327.2 L2238.8 1327.0 L2240.3 1340.2 L2241.9 1331.9 L2243.2 1333.4 L2244.7 1338.2 L2246.0 1333.1 L2247.7 1340.2 L2248.9 1344.7 L2250.4 1335.5 L2252.2 1337.3 L2253.6 1338.4 L2255.6 1332.7 L2256.5 1330.6 L2258.1 1336.2 L2260.0 1333.3 L2261.7 1332.5 L2264.2 1335.2 L2265.9 1337.5 L2267.1 1337.7 L2269.1 1341.2 L2270.4 1336.8 L2272.0 1342.5 L2273.2 1337.1 L2274.7 1339.2 L2276.5 1339.5 L2277.7 1340.9 L2279.5 1350.6 L2280.7 1341.1 L2282.1 1338.5 L2283.7 1338.6 L2285.2 1336.1 L2287.0 1347.3 L2288.2 1346.1 L2289.7 1340.1 L2292.6 1342.2 L2294.7 1341.2 L2296.0 1338.2 L2297.7 1338.4 L2298.5 1337.3 L2300.4 1337.3 L2301.6 1338.2 L2303.5 1336.5 L2305.0 1339.2 L2306.2 1343.4 L2307.4 1343.9 L2309.6 1344.8 L2311.5 1348.4 L2313.5 1342.8 L2315.0 1341.2 L2316.7 1339.0 L2318.4 1338.1 L2319.7 1338.7 L2321.0 1342.9 L2322.9 1355.1 L2324.3 1370.2 L2325.6 1369.7 L2327.0 1373.2 L2328.6 1377.7 L2330.4 1379.8 L2331.7 1384.3 L2333.6 1386.0 L2334.6 1387.9 L2336.0 1392.6 L2337.6 1395.0" stroke="#e8474a"/>
<path d="M372.8 1327.2 L374.4 1328.6 L376.1 1327.4 L377.1 1327.1 L378.9 1327.1 L380.2 1331.1 L381.7 1326.5 L383.3 1323.9 L384.6 1322.8 L386.3 1323.3 L387.6 1324.0 L388.9 1325.7 L390.5 1321.8 L391.8 1322.8 L393.4 1321.0 L395.5 1328.0 L397.0 1331.2 L397.9 1327.0 L399.8 1323.9 L401.2 1324.2 L402.7 1323.2 L404.0 1327.5 L406.2 1326.3 L407.1 1329.9 L409.1 1332.4 L410.2 1334.0 L411.6 1329.3 L413.1 1325.6 L414.6 1328.2 L416.5 1329.3 L418.1 1325.0 L419.5 1321.2 L420.6 1328.8 L422.1 1323.8 L423.8 1321.0 L425.3 1321.3 L427.0 1322.1 L428.6 1327.6 L430.0 1321.5 L431.3 1319.2 L433.0 1320.9 L434.5 1317.8 L435.6 1318.6 L437.7 1315.7 L438.8 1315.2 L440.4 1322.7 L441.9 1317.6 L443.5 1317.3 L444.5 1321.3 L446.0 1315.3 L447.6 1313.1 L449.0 1320.9 L451.0 1314.8 L452.3 1314.7 L453.5 1312.3 L455.2 1309.9 L456.6 1312.5 L458.9 1310.1 L461.6 1308.2 L463.0 1307.1 L464.3 1306.1 L465.9 1304.6 L467.7 1311.2 L469.0 1304.4 L470.2 1301.6 L471.7 1305.8 L473.6 1304.4 L475.7 1299.9 L477.5 1314.1 L479.3 1305.4 L480.4 1304.7 L482.3 1304.8 L483.4 1301.9 L485.4 1299.2 L486.5 1299.8 L488.0 1304.3 L489.5 1300.6 L491.2 1300.3 L492.8 1313.5 L494.1 1304.6 L495.9 1301.1 L497.4 1301.6 L498.6 1303.5 L500.2 1304.0 L502.5 1300.9 L505.1 1301.4 L506.4 1300.8 L507.9 1301.6 L509.6 1311.6 L510.4 1304.0 L512.3 1304.2 L514.1 1301.8 L515.3 1305.0 L516.4 1303.7 L518.7 1302.9 L520.0 1302.5 L521.2 1302.3 L522.5 1305.4 L523.9 1308.6 L526.0 1307.6 L527.6 1307.1 L528.5 1307.5 L530.0 1304.5 L532.0 1305.7 L533.0 1310.6 L534.9 1307.5 L536.2 1306.9 L537.9 1304.0 L539.4 1302.5 L540.6 1301.9 L542.1 1302.3 L543.6 1306.8 L545.7 1308.1 L546.8 1314.7 L548.0 1307.6 L549.8 1311.4 L551.4 1313.8 L553.1 1305.0 L554.2 1305.2 L556.0 1302.1 L557.4 1301.2 L559.6 1304.4 L561.6 1303.2 L562.9 1300.8 L564.8 1305.5 L566.4 1301.4 L567.7 1301.9 L569.6 1300.2 L570.6 1297.3 L572.5 1295.7 L574.1 1293.4 L575.3 1296.8 L576.4 1294.4 L578.4 1294.6 L579.9 1292.3 L581.7 1292.1 L583.1 1291.9 L584.3 1292.4 L585.9 1288.0 L587.1 1293.8 L588.9 1292.7 L590.5 1288.9 L591.8 1285.2 L593.2 1286.6 L594.4 1284.5 L596.3 1288.7 L597.7 1288.8 L599.6 1287.9 L600.6 1285.0 L601.9 1286.3 L603.6 1289.4 L605.3 1285.6 L606.6 1288.6 L608.5 1295.5 L609.7 1288.4 L611.0 1284.8 L612.6 1284.4 L614.6 1293.7 L615.5 1293.3 L618.3 1289.7 L620.1 1285.8 L622.1 1287.1 L623.4 1290.8 L625.1 1289.2 L626.2 1288.3 L628.0 1287.5 L629.3 1292.9 L631.0 1292.2 L632.5 1292.6 L633.7 1291.7 L635.4 1299.6 L637.1 1294.6 L638.0 1295.2 L640.1 1298.4 L641.1 1295.7 L643.5 1294.5 L646.2 1296.5 L647.3 1301.2 L648.4 1304.2 L650.2 1303.7 L651.9 1301.1 L653.5 1302.9 L654.7 1307.1 L656.7 1312.4 L657.7 1307.4 L659.0 1307.3 L661.0 1306.9 L662.6 1316.9 L664.0 1311.9 L665.1 1312.0 L666.6 1313.6 L668.7 1312.3 L671.1 1314.1 L672.8 1321.5 L674.0 1322.6 L676.1 1321.1 L677.6 1335.3 L679.0 1329.5 L680.2 1327.3 L682.1 1334.3 L683.5 1333.1 L685.5 1337.7 L687.5 1340.6 L689.4 1336.0 L690.5 1336.9 L692.4 1339.7 L693.4 1341.5 L695.5 1338.4 L697.1 1344.1 L698.6 1345.2 L700.1 1343.7 L701.4 1341.2 L703.1 1346.8 L704.1 1356.9 L706.0 1355.1 L707.5 1358.5 L708.8 1349.9 L710.6 1359.2 L712.0 1355.1 L712.9 1357.4 L714.6 1346.7 L716.2 1340.2 L718.1 1337.9 L719.3 1335.9 L720.7 1333.8 L722.2 1335.7 L723.7 1337.7 L725.6 1336.0 L727.4 1328.9 L730.1 1323.1 L731.6 1330.6 L732.4 1334.2 L734.2 1322.3 L735.4 1315.8 L737.2 1313.8 L738.7 1316.0 L740.0 1314.6 L742.2 1319.4 L742.9 1314.8 L745.0 1313.3 L746.4 1303.3 L747.8 1306.6 L749.4 1307.7 L750.4 1305.5 L752.2 1295.4 L753.8 1294.6 L755.0 1295.8 L756.7 1293.6 L758.3 1287.0 L759.8 1286.2 L761.3 1290.5 L762.5 1284.7 L764.4 1285.2 L766.1 1287.2 L767.1 1289.0 L768.8 1277.8 L770.1 1284.4 L771.8 1278.6 L773.7 1275.8 L774.7 1276.3 L775.9 1288.5 L777.6 1282.3 L779.0 1283.3 L780.5 1287.6 L782.2 1289.2 L783.7 1290.9 L785.2 1290.3 L787.0 1288.6 L788.1 1288.2 L789.6 1288.9 L791.1 1289.5 L792.7 1296.6 L794.1 1293.1 L795.6 1294.9 L797.6 1297.2 L798.5 1294.2 L800.5 1299.0 L801.8 1295.8 L803.4 1293.4 L805.0 1301.6 L806.3 1297.8 L808.1 1296.7 L809.1 1295.0 L810.9 1302.2 L811.9 1298.9 L813.7 1296.7 L815.1 1296.1 L817.0 1303.0 L818.8 1306.0 L820.1 1302.8 L821.3 1301.1 L822.7 1299.4 L824.3 1310.4 L825.9 1315.4 L827.6 1308.4 L828.7 1305.6 L830.5 1307.6 L831.8 1314.2 L833.4 1307.7 L834.4 1312.5 L836.1 1311.1 L837.9 1321.8 L839.5 1316.8 L840.6 1310.5 L842.4 1310.3 L843.5 1315.5 L845.0 1311.9 L846.9 1311.7 L848.4 1312.0 L849.9 1313.0 L851.0 1315.4 L852.7 1329.2 L854.0 1323.6 L856.1 1317.4 L857.0 1330.9 L859.1 1321.0 L860.5 1318.0 L861.5 1324.3 L863.5 1322.2 L865.1 1323.1 L866.4 1324.0 L867.7 1323.5 L869.4 1321.7 L870.8 1323.2 L872.5 1324.3 L874.0 1329.2 L875.2 1335.8 L876.6 1328.3 L878.2 1324.1 L879.5 1321.3 L881.6 1319.4 L882.7 1323.6 L883.9 1326.2 L886.0 1321.2 L887.6 1322.7 L889.3 1319.6 L891.7 1322.8 L893.1 1318.3 L894.9 1320.4 L896.3 1317.7 L897.4 1320.6 L899.0 1320.0 L900.8 1315.6 L902.4 1314.3 L903.7 1317.1 L905.6 1312.6 L906.4 1311.4 L908.3 1311.5 L909.5 1310.9 L911.5 1309.8 L912.5 1310.3 L914.1 1309.2 L915.9 1308.3 L917.5 1307.1 L918.5 1308.0 L920.2 1304.9 L921.9 1303.5 L923.1 1318.1 L924.5 1308.1 L926.4 1304.6 L927.8 1302.0 L929.0 1311.3 L931.2 1304.7 L933.7 1313.5 L935.4 1307.8 L937.2 1299.8 L937.9 1305.7 L940.0 1304.0 L941.7 1301.7 L943.1 1296.2 L944.1 1293.7 L945.5 1307.8 L947.6 1298.9 L948.9 1297.2 L950.4 1292.4 L951.8 1292.5 L953.3 1290.6 L954.9 1286.8 L956.4 1290.0 L958.1 1287.2 L959.4 1294.7 L960.5 1297.2 L962.7 1293.4 L963.5 1292.1 L965.6 1291.9 L966.5 1288.2 L968.2 1285.3 L969.4 1286.0 L971.5 1285.8 L972.7 1284.4 L974.2 1282.4 L975.5 1284.6 L977.3 1292.8 L979.0 1293.6 L980.4 1287.8 L982.1 1285.3 L982.9 1284.0 L984.8 1283.7 L986.1 1280.3 L987.7 1295.1 L989.9 1283.4 L992.5 1285.1 L993.8 1285.2 L995.0 1285.7 L996.6 1300.8 L998.1 1294.2 L999.6 1293.3 L1001.4 1294.4 L1003.1 1302.0 L1004.5 1306.8 L1006.7 1302.1 L1008.8 1304.9 L1010.7 1301.1 L1011.7 1299.6 L1013.6 1299.0 L1014.8 1295.0 L1016.6 1293.7 L1018.2 1291.9 L1019.0 1294.9 L1020.7 1295.9 L1022.2 1293.0 L1023.9 1288.4 L1025.5 1294.3 L1026.8 1298.1 L1027.9 1297.2 L1029.5 1292.5 L1031.9 1284.8 L1034.5 1281.6 L1035.7 1281.4 L1036.9 1278.3 L1038.7 1276.9 L1040.1 1277.0 L1041.4 1280.2 L1043.2 1278.0 L1045.1 1281.8 L1046.6 1281.3 L1047.5 1278.1 L1049.0 1273.3 L1050.5 1273.5 L1052.4 1276.1 L1054.1 1283.3 L1055.4 1273.2 L1056.5 1269.3 L1058.1 1279.7 L1059.4 1270.7 L1061.6 1267.6 L1063.0 1268.2 L1064.0 1266.9 L1065.5 1264.5 L1067.1 1265.3 L1068.7 1269.6 L1070.0 1265.0 L1071.8 1264.3 L1073.0 1267.2 L1074.6 1264.2 L1076.1 1266.9 L1077.5 1262.6 L1079.5 1261.2 L1081.2 1271.9 L1082.4 1265.0 L1083.5 1264.7 L1085.2 1274.3 L1086.8 1274.8 L1088.0 1263.6 L1090.6 1262.2 L1093.0 1261.7 L1094.1 1262.1 L1095.5 1265.2 L1097.5 1263.8 L1099.0 1272.2 L1100.2 1266.5 L1101.7 1269.1 L1103.5 1274.8 L1104.7 1269.4 L1106.3 1272.3 L1108.1 1271.8 L1109.2 1273.6 L1110.4 1270.3 L1112.2 1282.8 L1113.8 1274.8 L1115.8 1277.7 L1117.2 1274.7 L1118.0 1272.0 L1119.6 1277.7 L1121.5 1275.6 L1123.0 1275.6 L1124.2 1272.4 L1125.9 1272.3 L1127.3 1274.4 L1128.7 1277.1 L1130.5 1270.0 L1132.0 1270.4 L1133.6 1267.6 L1135.0 1267.4 L1136.6 1265.9 L1137.9 1265.1 L1139.1 1265.4 L1140.6 1264.9 L1143.4 1268.8 L1145.3 1266.2 L1146.5 1266.7 L1148.3 1271.4 L1149.7 1265.3 L1151.6 1268.0 L1153.1 1263.6 L1154.4 1262.3 L1155.9 1260.7 L1157.7 1268.9 L1158.5 1267.4 L1160.2 1267.0 L1161.8 1258.1 L1163.5 1256.5 L1165.2 1255.0 L1166.4 1253.6 L1168.6 1254.8 L1170.9 1252.0 L1172.7 1251.0 L1173.9 1253.6 L1175.1 1251.9 L1176.4 1252.8 L1178.5 1251.1 L1179.8 1254.5 L1181.1 1258.9 L1182.6 1251.8 L1184.6 1262.8 L1185.8 1263.3 L1187.4 1258.0 L1189.2 1255.9 L1189.9 1250.1 L1191.6 1252.9 L1193.7 1251.4 L1196.0 1256.0 L1197.9 1259.9 L1198.9 1260.5 L1201.1 1254.1 L1201.9 1261.3 L1203.6 1262.7 L1205.4 1255.4 L1206.6 1256.6 L1208.6 1255.7 L1210.5 1262.7 L1213.1 1265.5 L1214.0 1260.6 L1216.1 1264.6 L1217.2 1264.3 L1218.6 1260.8 L1219.9 1272.7 L1222.1 1266.0 L1223.4 1270.1 L1224.8 1274.7 L1227.3 1276.7 L1229.0 1274.4 L1230.7 1275.5 L1232.0 1270.3 L1233.8 1271.0 L1235.3 1266.3 L1236.6 1267.9 L1238.4 1273.3 L1239.6 1270.3 L1241.1 1266.3 L1244.1 1265.7 L1245.9 1266.2 L1247.3 1268.4 L1248.6 1269.0 L1250.4 1272.3 L1252.0 1274.7 L1253.2 1272.4 L1255.0 1277.9 L1256.6 1273.2 L1257.7 1271.9 L1259.7 1273.5 L1260.6 1283.5 L1262.2 1288.6 L1263.8 1283.2 L1264.9 1281.9 L1266.9 1278.5 L1269.3 1277.9 L1271.3 1283.8 L1272.9 1288.7 L1274.0 1279.3 L1275.6 1275.6 L1277.3 1277.1 L1279.0 1274.8 L1280.6 1274.6 L1281.9 1275.4 L1282.9 1274.7 L1285.0 1276.5 L1286.7 1276.2 L1287.4 1276.2 L1289.1 1281.6 L1290.9 1285.7 L1292.2 1278.6 L1294.4 1280.5 L1295.6 1282.1 L1297.0 1273.0 L1298.2 1277.4 L1300.1 1275.4 L1301.3 1275.3 L1302.6 1281.0 L1304.6 1278.6 L1305.7 1280.5 L1307.6 1276.9 L1308.8 1278.7 L1310.6 1275.1 L1311.7 1274.1 L1313.4 1276.5 L1315.0 1276.3 L1316.0 1279.3 L1317.6 1290.2 L1319.3 1282.0 L1320.8 1278.6 L1322.2 1279.0 L1323.7 1276.5 L1325.5 1289.0 L1326.7 1289.5 L1328.7 1285.7 L1329.8 1279.5 L1331.0 1280.0 L1333.0 1281.7 L1334.0 1286.0 L1336.4 1280.9 L1339.1 1277.0 L1340.3 1281.8 L1341.8 1275.4 L1343.3 1281.6 L1344.6 1274.4 L1346.4 1274.8 L1347.6 1272.1 L1349.1 1270.4 L1350.9 1266.6 L1353.2 1265.6 L1355.5 1264.7 L1357.0 1262.8 L1358.0 1265.0 L1360.0 1265.3 L1361.1 1261.5 L1362.5 1262.5 L1364.2 1266.5 L1365.7 1261.4 L1367.1 1264.8 L1368.5 1261.8 L1370.3 1263.5 L1372.0 1266.2 L1373.5 1260.8 L1374.8 1257.0 L1376.6 1255.2 L1378.3 1254.0 L1379.7 1253.8 L1380.7 1256.0 L1382.6 1255.1 L1383.5 1255.3 L1385.5 1252.6 L1386.4 1251.7 L1388.0 1252.0 L1389.7 1258.3 L1391.3 1256.0 L1393.2 1253.2 L1394.1 1251.3 L1395.6 1251.3 L1397.5 1249.5 L1399.1 1260.5 L1400.0 1263.5 L1401.4 1254.7 L1403.1 1252.0 L1404.5 1249.2 L1406.2 1250.2 L1407.5 1255.6 L1409.0 1249.5 L1410.5 1251.9 L1411.9 1252.3 L1413.7 1252.8 L1415.0 1258.6 L1416.6 1254.6 L1418.4 1264.3 L1419.4 1268.0 L1420.9 1263.3 L1423.0 1273.1 L1424.1 1266.0 L1425.7 1264.4 L1427.5 1267.0 L1428.7 1283.0 L1430.1 1277.2 L1432.0 1273.1 L1433.7 1275.9 L1435.1 1279.6 L1437.1 1280.0 L1439.0 1279.6 L1440.8 1281.8 L1441.9 1277.0 L1444.0 1274.0 L1445.0 1273.5 L1446.4 1283.9 L1448.1 1275.2 L1449.7 1271.8 L1451.4 1272.1 L1452.5 1270.6 L1453.8 1271.0 L1455.4 1275.8 L1457.7 1284.7 L1458.8 1276.4 L1460.2 1273.3 L1461.7 1273.6 L1463.2 1270.5 L1464.4 1281.3 L1466.4 1276.7 L1467.4 1277.9 L1469.0 1274.7 L1470.5 1280.9 L1472.0 1275.5 L1473.7 1272.4 L1475.7 1274.0 L1476.9 1278.4 L1478.0 1272.0 L1480.1 1270.6 L1481.2 1270.6 L1482.7 1284.7 L1484.5 1284.7 L1486.1 1276.8 L1487.4 1278.1 L1490.1 1270.4 L1491.5 1272.5 L1493.2 1268.0 L1494.7 1265.3 L1496.2 1263.4 L1497.5 1266.0 L1499.5 1267.1 L1501.0 1265.8 L1502.1 1261.2 L1504.1 1258.7 L1505.6 1256.6 L1508.0 1257.2 L1510.2 1258.3 L1511.2 1257.2 L1512.4 1254.8 L1515.0 1251.8 L1517.3 1255.6 L1518.9 1256.6 L1520.7 1261.3 L1521.9 1261.0 L1523.4 1256.9 L1524.6 1258.9 L1526.2 1267.4 L1527.6 1260.3 L1529.5 1272.1 L1531.1 1266.2 L1532.0 1270.3 L1533.9 1266.5 L1535.6 1274.5 L1536.9 1265.5 L1538.5 1262.7 L1540.2 1270.3 L1543.0 1269.6 L1544.6 1271.1 L1546.1 1267.5 L1546.9 1264.3 L1548.8 1263.1 L1550.4 1269.7 L1551.4 1273.5 L1553.6 1272.8 L1554.4 1269.7 L1556.0 1272.2 L1557.8 1266.8 L1558.9 1270.2 L1562.0 1273.4 L1563.8 1272.4 L1565.3 1269.7 L1566.7 1269.3 L1568.6 1269.7 L1569.4 1271.4 L1571.4 1270.7 L1573.1 1271.4 L1574.7 1277.7 L1575.7 1275.0 L1577.2 1281.3 L1579.1 1276.6 L1580.2 1282.7 L1582.1 1289.0 L1583.6 1287.8 L1584.7 1280.9 L1586.0 1276.5 L1587.7 1277.0 L1589.2 1278.5 L1590.5 1290.7 L1592.1 1290.5 L1593.9 1278.8 L1595.7 1279.1 L1596.4 1290.1 L1598.9 1282.0 L1601.0 1276.5 L1602.6 1273.9 L1604.3 1274.1 L1605.5 1274.2 L1607.0 1276.1 L1609.0 1280.5 L1610.3 1274.6 L1611.5 1275.8 L1613.0 1272.8 L1614.4 1272.2 L1616.0 1272.5 L1617.6 1283.4 L1619.1 1277.2 L1620.9 1274.7 L1622.0 1273.0 L1624.1 1274.3 L1626.8 1283.0 L1628.4 1274.7 L1629.4 1277.0 L1631.1 1271.9 L1633.2 1269.2 L1634.5 1270.1 L1635.8 1271.1 L1637.5 1271.7 L1638.4 1269.5 L1639.9 1268.9 L1641.7 1268.1 L1643.3 1267.3 L1645.1 1269.4 L1645.9 1270.5 L1648.0 1269.3 L1649.3 1271.5 L1650.9 1269.8 L1652.2 1268.7 L1654.1 1266.4 L1655.6 1264.9 L1656.7 1265.9 L1658.4 1265.4 L1659.6 1265.6 L1660.9 1272.2 L1662.7 1268.8 L1663.9 1264.8 L1665.6 1264.4 L1667.6 1264.4 L1668.6 1263.7 L1670.5 1262.4 L1671.6 1263.9 L1673.6 1263.5 L1675.2 1266.7 L1676.0 1263.3 L1678.1 1266.7 L1679.6 1263.2 L1680.6 1262.4 L1682.8 1268.1 L1684.2 1266.3 L1685.2 1261.9 L1686.9 1264.1 L1688.2 1276.3 L1689.4 1265.7 L1691.6 1264.4 L1692.9 1264.5 L1694.0 1267.2 L1696.0 1266.7 L1697.4 1264.3 L1698.4 1266.7 L1700.7 1265.8 L1701.8 1269.0 L1703.6 1262.6 L1705.2 1262.7 L1706.0 1263.3 L1708.0 1266.1 L1709.6 1263.5 L1710.8 1261.9 L1711.9 1258.5 L1713.6 1262.8 L1714.9 1264.8 L1717.0 1262.7 L1718.0 1256.2 L1720.0 1254.0 L1721.6 1251.4 L1722.8 1254.3 L1724.8 1251.1 L1727.0 1248.5 L1728.7 1249.7 L1730.5 1247.7 L1732.1 1258.6 L1733.5 1252.3 L1734.5 1254.6 L1736.5 1249.4 L1738.2 1246.7 L1739.7 1247.7 L1741.1 1251.2 L1742.5 1248.6 L1744.1 1245.9 L1745.0 1250.9 L1746.8 1250.9 L1748.1 1246.3 L1749.6 1248.8 L1751.4 1245.4 L1752.9 1241.3 L1754.3 1248.3 L1755.7 1243.2 L1758.3 1241.6 L1760.6 1241.0 L1761.6 1240.9 L1763.1 1241.0 L1765.0 1240.9 L1765.9 1243.0 L1767.7 1243.0 L1769.6 1249.1 L1770.5 1245.3 L1772.2 1245.1 L1773.6 1246.2 L1775.1 1249.7 L1777.0 1247.4 L1778.6 1246.7 L1779.9 1245.4 L1781.0 1245.5 L1782.5 1247.7 L1784.2 1246.6 L1786.0 1251.8 L1787.0 1258.9 L1788.6 1251.6 L1790.4 1247.4 L1792.0 1249.7 L1793.0 1248.7 L1794.8 1246.6 L1796.7 1250.9 L1797.8 1246.7 L1799.1 1248.3 L1800.3 1252.6 L1802.0 1252.0 L1803.8 1249.9 L1805.1 1247.3 L1806.7 1251.1 L1808.0 1252.6 L1809.7 1256.9 L1811.2 1251.8 L1812.9 1253.7 L1814.1 1253.3 L1816.0 1251.4 L1816.9 1252.8 L1819.1 1250.8 L1820.6 1251.0 L1821.6 1252.0 L1823.1 1255.3 L1825.5 1254.5 L1827.7 1256.5 L1829.1 1254.8 L1831.0 1255.9 L1832.0 1261.0 L1834.0 1257.0 L1835.1 1261.8 L1836.6 1259.5 L1838.1 1257.2 L1840.1 1257.3 L1840.9 1261.5 L1842.4 1266.0 L1844.3 1261.0 L1846.0 1263.8 L1847.5 1261.7 L1848.7 1265.1 L1850.6 1264.7 L1853.3 1269.8 L1855.1 1267.2 L1856.0 1264.3 L1858.0 1262.0 L1859.0 1274.7 L1861.0 1265.6 L1862.5 1267.7 L1864.0 1261.8 L1865.3 1259.9 L1867.4 1263.9 L1870.2 1259.6 L1871.3 1261.1 L1873.1 1261.5 L1874.1 1269.1 L1875.9 1262.2 L1877.0 1262.1 L1879.1 1260.6 L1880.6 1261.5 L1882.2 1263.8 L1883.3 1262.4 L1885.0 1261.5 L1888.1 1262.8 L1889.1 1264.1 L1890.5 1264.6 L1892.2 1266.4 L1893.4 1268.6 L1895.0 1271.0 L1896.7 1269.0 L1897.9 1273.0 L1899.9 1275.5 L1901.1 1274.1 L1903.0 1278.3 L1904.4 1280.6 L1906.1 1277.2 L1907.6 1273.8 L1909.2 1268.6 L1910.3 1266.8 L1912.0 1265.6 L1913.9 1269.7 L1916.0 1270.7 L1918.1 1265.3 L1919.0 1263.2 L1920.7 1265.5 L1921.9 1264.9 L1924.2 1269.0 L1925.4 1264.3 L1926.9 1262.8 L1928.5 1263.5 L1929.4 1263.1 L1931.5 1263.6 L1932.5 1264.5 L1934.1 1263.5 L1935.6 1265.1 L1937.0 1268.2 L1939.1 1273.1 L1940.3 1275.6 L1942.3 1274.6 L1945.0 1273.9 L1946.1 1268.9 L1947.8 1263.2 L1949.4 1271.9 L1950.7 1270.0 L1952.4 1261.5 L1954.1 1258.9 L1955.1 1258.4 L1956.7 1261.8 L1958.4 1259.5 L1959.9 1257.4 L1961.1 1257.3 L1962.9 1271.1 L1964.2 1262.1 L1966.0 1257.2 L1967.6 1253.7 L1968.7 1256.0 L1970.6 1256.0 L1971.8 1254.3 L1973.7 1251.3 L1974.7 1250.1 L1976.0 1256.5 L1978.0 1251.2 L1980.2 1254.9 L1982.1 1251.9 L1983.9 1261.8 L1984.9 1256.9 L1987.0 1250.6 L1987.9 1249.6 L1990.2 1250.5 L1991.2 1256.2 L1992.7 1252.6 L1994.0 1250.0 L1995.8 1251.0 L1997.6 1247.7 L1998.6 1255.3 L2000.5 1259.9 L2001.7 1255.5 L2003.4 1250.8 L2004.7 1255.2 L2006.0 1251.0 L2007.9 1251.5 L2009.4 1253.4 L2010.5 1252.3 L2012.7 1247.9 L2013.9 1248.3 L2015.2 1246.3 L2016.8 1250.0 L2018.5 1248.3 L2019.7 1251.7 L2021.6 1248.2 L2023.0 1248.4 L2024.0 1245.9 L2025.8 1247.1 L2027.5 1253.3 L2030.2 1251.4 L2031.6 1253.0 L2033.6 1248.5 L2034.9 1250.4 L2036.2 1263.0 L2038.2 1256.5 L2038.9 1250.4 L2040.6 1250.3 L2042.0 1249.5 L2043.8 1250.1 L2045.4 1256.8 L2046.7 1260.6 L2048.6 1253.3 L2049.7 1251.7 L2051.7 1251.0 L2052.6 1251.7 L2054.4 1257.3 L2055.5 1255.1 L2057.3 1255.8 L2059.1 1255.3 L2060.3 1253.8 L2061.6 1256.9 L2063.7 1254.4 L2065.4 1259.0 L2067.8 1259.6 L2069.5 1261.3 L2071.1 1268.4 L2072.3 1265.2 L2073.8 1258.3 L2075.6 1256.5 L2076.4 1255.8 L2078.1 1258.3 L2080.2 1262.7 L2081.3 1263.2 L2082.6 1259.1 L2084.4 1273.0 L2085.6 1266.0 L2087.4 1267.3 L2088.5 1265.4 L2090.2 1271.4 L2091.6 1263.4 L2093.2 1260.8 L2095.1 1259.5 L2096.1 1258.6 L2097.8 1271.2 L2099.2 1263.4 L2100.4 1264.8 L2102.0 1268.9 L2103.3 1265.4 L2104.9 1265.0 L2106.9 1261.5 L2108.7 1263.0 L2109.5 1261.1 L2111.6 1261.4 L2112.9 1259.5 L2114.3 1268.0 L2115.7 1262.0 L2117.6 1264.6 L2119.1 1262.6 L2120.6 1274.1 L2121.8 1273.4 L2122.9 1270.3 L2124.9 1263.0 L2126.6 1260.0 L2128.1 1258.9 L2129.0 1258.5 L2130.8 1259.0 L2132.3 1259.0 L2133.8 1258.5 L2135.2 1257.9 L2137.3 1260.3 L2139.6 1271.1 L2141.3 1262.3 L2142.8 1261.4 L2144.3 1262.1 L2146.0 1264.6 L2147.1 1268.5 L2148.4 1263.7 L2150.2 1261.7 L2152.1 1265.8 L2153.2 1263.2 L2155.1 1263.0 L2156.0 1265.4 L2157.9 1264.2 L2159.7 1268.4 L2161.1 1270.2 L2162.4 1268.7 L2163.9 1267.9 L2165.3 1281.2 L2166.8 1274.7 L2168.0 1268.3 L2170.1 1267.9 L2171.1 1273.6 L2172.7 1269.6 L2174.2 1269.1 L2175.8 1269.6 L2177.2 1272.8 L2178.8 1272.3 L2180.5 1275.2 L2182.1 1274.0 L2183.1 1271.1 L2184.7 1274.9 L2186.3 1276.7 L2188.5 1273.1 L2191.0 1282.1 L2192.2 1276.6 L2194.0 1275.2 L2195.2 1281.1 L2196.6 1283.5 L2198.1 1286.7 L2200.1 1281.3 L2201.4 1281.2 L2202.9 1281.8 L2204.1 1287.3 L2205.8 1282.8 L2207.6 1282.0 L2208.6 1284.4 L2209.9 1289.2 L2212.2 1292.3 L2213.6 1288.7 L2215.0 1284.8 L2216.5 1285.8 L2218.1 1286.1 L2219.5 1285.7 L2220.5 1290.0 L2222.3 1287.3 L2223.6 1287.2 L2225.0 1287.8 L2226.3 1288.7 L2228.2 1290.4 L2229.8 1295.5 L2230.9 1294.0 L2233.0 1299.4 L2234.6 1299.0 L2235.6 1296.5 L2237.7 1299.8 L2238.5 1301.0 L2240.0 1302.9 L2241.5 1303.4 L2243.1 1313.7 L2245.3 1304.3 L2248.0 1306.9 L2249.5 1321.4 L2250.6 1311.9 L2252.2 1315.5 L2253.8 1315.8 L2255.1 1313.6 L2256.4 1319.8 L2258.5 1326.0 L2259.5 1316.8 L2261.0 1327.3 L2264.2 1325.3 L2265.8 1318.0 L2267.6 1325.9 L2269.0 1328.9 L2270.7 1323.8 L2271.7 1319.8 L2273.4 1325.0 L2275.1 1319.6 L2276.0 1315.9 L2277.8 1316.1 L2279.6 1314.0 L2281.0 1320.5 L2282.2 1315.5 L2284.2 1315.5 L2284.9 1314.2 L2286.4 1315.1 L2288.2 1317.4 L2289.8 1319.9 L2290.9 1314.6 L2292.6 1320.3 L2294.0 1316.7 L2295.6 1317.1 L2297.6 1317.5 L2298.8 1316.3 L2300.2 1315.4 L2301.5 1331.5 L2303.6 1327.9 L2304.6 1319.5 L2306.1 1318.3 L2308.1 1324.4 L2309.3 1326.8 L2311.2 1325.4 L2312.4 1322.3 L2314.0 1320.3 L2315.5 1319.9 L2317.0 1321.7 L2317.9 1320.9 L2320.0 1337.3 L2321.6 1329.3 L2322.7 1327.3 L2324.2 1327.2 L2325.4 1328.5 L2327.2 1335.6 L2329.0 1339.6 L2330.5 1342.2 L2331.5 1350.6 L2333.2 1348.3 L2334.4 1354.0 L2336.0 1348.1 L2337.8 1343.2" stroke="#6ebf6f"/>
<path d="M372.4 1332.3 L374.6 1323.1 L375.6 1325.0 L377.4 1321.2 L378.8 1320.2 L381.7 1320.8 L383.6 1326.0 L384.8 1330.3 L386.7 1327.7 L388.1 1332.2 L389.4 1336.9 L391.0 1336.2 L392.0 1349.4 L394.1 1339.2 L395.7 1338.8 L397.1 1344.9 L398.0 1352.7 L400.2 1347.8 L401.6 1348.5 L402.5 1345.3 L404.1 1345.4 L405.9 1358.9 L407.4 1349.9 L408.6 1345.6 L410.5 1344.4 L411.4 1346.9 L413.6 1349.2 L414.9 1344.9 L415.9 1350.0 L417.9 1344.4 L419.2 1340.6 L420.9 1342.7 L422.3 1341.6 L423.6 1349.2 L425.3 1344.6 L426.8 1340.9 L428.0 1337.7 L429.8 1345.4 L431.7 1338.1 L432.4 1344.0 L434.4 1350.7 L436.2 1346.9 L437.2 1346.9 L438.7 1340.0 L440.3 1338.5 L441.5 1341.6 L442.9 1334.6 L445.0 1332.3 L446.3 1331.5 L448.1 1330.3 L449.2 1329.5 L450.5 1329.3 L452.0 1329.0 L453.8 1336.7 L455.1 1333.6 L456.7 1330.6 L458.2 1332.1 L459.6 1332.1 L461.7 1330.4 L462.8 1330.9 L463.9 1327.9 L465.9 1329.0 L467.1 1329.8 L468.9 1327.6 L470.1 1325.6 L471.5 1326.5 L473.1 1327.3 L475.7 1328.2 L478.1 1324.9 L479.6 1339.3 L480.6 1335.7 L482.7 1326.4 L483.9 1323.2 L485.4 1325.1 L486.5 1326.1 L488.2 1322.1 L489.6 1324.0 L491.7 1324.6 L492.6 1329.6 L494.2 1322.9 L495.7 1320.3 L497.3 1318.6 L498.7 1318.1 L500.9 1320.8 L502.1 1319.4 L503.6 1319.9 L505.0 1326.2 L506.4 1320.5 L507.6 1321.7 L509.3 1328.0 L511.2 1324.3 L512.0 1324.9 L513.6 1321.4 L515.5 1324.9 L516.8 1322.9 L518.5 1326.1 L519.8 1326.4 L520.9 1324.8 L522.5 1327.4 L524.2 1325.3 L526.0 1323.3 L527.3 1321.9 L528.6 1327.0 L530.5 1324.6 L531.7 1324.8 L533.3 1323.5 L535.0 1324.7 L536.3 1323.4 L537.8 1321.0 L539.7 1327.1 L541.2 1331.0 L542.6 1325.6 L543.9 1328.7 L544.9 1323.5 L546.7 1328.3 L548.6 1327.5 L551.2 1322.2 L552.8 1323.1 L554.0 1319.4 L556.1 1326.4 L556.9 1322.4 L559.0 1317.7 L560.1 1317.3 L561.6 1316.3 L563.4 1317.5 L564.9 1314.0 L566.6 1321.0 L568.2 1316.0 L569.3 1323.6 L570.6 1317.5 L572.7 1313.2 L574.0 1309.4 L575.0 1314.6 L576.4 1313.1 L577.9 1309.3 L579.4 1310.3 L581.1 1307.6 L582.6 1306.5 L584.6 1309.0 L585.8 1313.9 L587.1 1308.8 L588.7 1311.3 L590.3 1306.8 L591.9 1310.7 L593.4 1306.8 L594.7 1306.5 L596.5 1308.1 L598.1 1306.6 L599.6 1305.3 L600.9 1304.7 L602.4 1305.2 L604.0 1305.0 L605.0 1313.2 L606.6 1318.1 L608.6 1307.5 L609.9 1312.0 L611.5 1306.2 L612.9 1306.2 L614.4 1308.3 L615.6 1305.5 L617.4 1305.3 L618.8 1307.9 L620.4 1309.1 L621.6 1310.8 L623.2 1318.8 L625.2 1314.2 L626.2 1310.3 L627.7 1313.4 L628.9 1313.9 L631.1 1322.4 L632.1 1315.7 L633.9 1315.4 L635.1 1326.9 L636.6 1320.8 L638.2 1315.5 L640.2 1315.1 L641.0 1318.4 L643.1 1318.4 L644.4 1317.9 L645.5 1318.2 L647.1 1328.3 L649.1 1330.5 L650.4 1324.6 L652.1 1323.4 L653.1 1324.8 L654.6 1333.3 L656.1 1329.2 L657.9 1328.7 L660.3 1330.3 L662.3 1331.0 L664.1 1335.4 L665.0 1335.4 L666.9 1334.1 L668.5 1337.6 L669.7 1342.1 L671.1 1340.3 L672.4 1342.2 L674.6 1347.7 L675.5 1345.9 L677.4 1344.1 L679.1 1348.7 L680.4 1347.3 L682.0 1347.2 L683.3 1347.8 L685.5 1349.1 L687.9 1352.2 L689.0 1352.7 L690.6 1355.7 L692.4 1354.9 L693.5 1357.3 L695.2 1355.8 L696.7 1356.7 L698.1 1368.3 L700.2 1363.6 L702.2 1361.0 L704.0 1359.9 L706.0 1371.1 L706.9 1362.2 L708.4 1358.7 L710.3 1360.7 L712.2 1359.2 L713.6 1357.7 L714.9 1355.3 L716.3 1354.0 L717.7 1354.5 L719.0 1353.8 L721.2 1354.5 L722.2 1362.8 L723.8 1357.4 L725.4 1354.5 L727.4 1351.6 L730.1 1352.3 L731.2 1351.3 L733.1 1351.8 L734.7 1347.1 L735.6 1341.6 L737.6 1336.2 L738.5 1342.2 L740.1 1339.8 L742.0 1330.4 L743.0 1327.4 L744.2 1325.3 L746.6 1326.0 L747.7 1319.3 L749.6 1316.0 L750.9 1311.4 L752.5 1311.5 L755.0 1312.3 L756.6 1309.3 L758.2 1305.2 L759.6 1302.2 L761.4 1302.6 L762.6 1298.7 L764.0 1298.0 L765.9 1297.7 L767.2 1296.3 L768.8 1296.1 L770.3 1299.2 L771.8 1295.2 L773.2 1309.2 L774.4 1306.9 L776.4 1298.5 L778.0 1296.9 L779.1 1295.7 L780.9 1295.4 L781.9 1294.1 L783.5 1293.3 L784.9 1296.3 L786.5 1298.6 L788.1 1296.9 L789.9 1304.7 L791.6 1312.7 L793.0 1302.9 L794.0 1311.2 L795.4 1310.8 L797.0 1303.5 L799.2 1303.2 L800.5 1312.5 L801.9 1314.0 L803.6 1317.2 L804.7 1310.4 L806.0 1309.6 L808.1 1310.5 L809.1 1311.4 L810.5 1316.1 L812.0 1323.6 L813.7 1318.9 L815.0 1320.7 L816.7 1335.1 L818.5 1328.5 L820.0 1326.2 L821.2 1328.3 L822.8 1342.1 L824.1 1334.4 L826.0 1333.8 L827.5 1338.3 L828.8 1337.9 L830.5 1343.8 L831.8 1343.1 L833.4 1345.3 L835.2 1342.2 L835.9 1348.7 L837.7 1347.9 L839.3 1343.8 L840.7 1344.3 L842.2 1344.8 L843.9 1349.9 L845.3 1342.1 L846.4 1345.2 L848.2 1346.2 L850.0 1345.5 L851.0 1345.2 L853.0 1344.4 L855.7 1359.1 L857.0 1351.8 L859.0 1356.7 L860.4 1347.4 L862.1 1344.8 L863.2 1344.5 L865.0 1342.3 L866.1 1340.8 L867.6 1349.8 L869.4 1352.3 L870.8 1343.2 L872.5 1339.8 L874.1 1339.4 L875.6 1341.5 L876.6 1348.4 L878.2 1344.3 L879.6 1341.8 L881.1 1339.6 L882.8 1345.1 L884.0 1343.5 L885.9 1346.0 L887.1 1343.0 L888.9 1338.9 L890.3 1336.9 L892.6 1337.2 L894.8 1345.3 L896.2 1341.2 L898.0 1340.1 L899.2 1340.6 L900.8 1338.6 L902.2 1342.6 L903.9 1343.9 L905.4 1340.5 L907.0 1338.5 L908.4 1340.6 L909.7 1344.6 L911.4 1341.4 L912.6 1339.7 L914.4 1336.4 L916.2 1339.2 L917.7 1334.1 L918.6 1333.0 L920.3 1330.9 L922.0 1330.8 L923.4 1333.0 L925.0 1328.4 L926.4 1327.7 L928.0 1328.2 L929.3 1327.7 L930.7 1325.9 L932.5 1322.5 L933.9 1320.7 L935.5 1320.1 L936.9 1331.6 L938.3 1326.9 L939.6 1320.2 L941.2 1318.1 L943.1 1315.0 L944.3 1314.8 L946.1 1318.4 L947.0 1312.1 L948.7 1318.1 L950.0 1319.3 L951.8 1314.5 L953.1 1308.8 L954.5 1305.8 L956.6 1305.1 L957.9 1302.2 L959.0 1303.5 L961.0 1301.7 L962.4 1304.1 L964.8 1301.4 L966.4 1300.1 L968.6 1298.1 L969.8 1299.3 L971.2 1300.2 L972.9 1301.8 L974.1 1299.2 L975.7 1301.9 L977.0 1300.0 L978.4 1301.4 L981.5 1300.6 L983.6 1315.1 L984.6 1306.2 L986.1 1302.8 L988.1 1309.9 L989.0 1306.7 L991.1 1310.2 L992.4 1303.1 L993.6 1304.4 L995.3 1306.9 L997.2 1299.4 L998.3 1310.2 L1000.1 1300.5 L1000.9 1303.3 L1002.9 1308.7 L1004.6 1298.8 L1006.7 1299.1 L1008.4 1295.7 L1010.0 1295.3 L1011.8 1296.2 L1013.2 1298.2 L1014.8 1298.8 L1016.6 1300.3 L1017.8 1301.5 L1019.1 1306.2 L1021.0 1311.8 L1022.0 1316.6 L1023.5 1308.7 L1025.7 1316.6 L1026.4 1306.5 L1028.7 1303.3 L1029.4 1304.1 L1031.3 1300.9 L1032.6 1299.3 L1034.5 1298.5 L1035.6 1299.2 L1037.2 1296.9 L1039.0 1296.7 L1040.6 1299.0 L1041.7 1294.6 L1043.6 1299.5 L1044.9 1298.1 L1046.3 1297.2 L1048.7 1293.6 L1051.0 1292.0 L1052.3 1297.5 L1054.2 1292.6 L1055.4 1290.2 L1057.2 1289.6 L1058.2 1293.9 L1059.4 1291.3 L1061.0 1289.1 L1063.2 1296.5 L1064.0 1292.1 L1065.5 1289.6 L1067.4 1289.0 L1068.5 1287.1 L1069.9 1287.9 L1071.7 1288.6 L1073.8 1285.8 L1075.2 1296.5 L1076.7 1287.5 L1078.2 1288.3 L1079.7 1288.4 L1080.9 1286.0 L1081.9 1283.6 L1084.0 1282.4 L1085.1 1282.2 L1086.6 1288.1 L1088.1 1284.2 L1090.6 1282.6 L1093.2 1283.4 L1094.2 1286.8 L1095.8 1282.8 L1097.3 1284.3 L1098.4 1295.0 L1100.0 1294.5 L1101.9 1289.5 L1103.4 1281.5 L1104.7 1285.7 L1107.4 1286.8 L1109.5 1287.1 L1110.7 1289.7 L1112.0 1290.7 L1114.0 1287.5 L1115.2 1289.3 L1117.2 1293.5 L1118.4 1297.8 L1119.5 1299.4 L1121.3 1297.4 L1123.0 1297.5 L1124.2 1298.8 L1125.6 1297.9 L1127.5 1295.8 L1129.1 1294.5 L1130.4 1297.4 L1131.6 1295.6 L1133.0 1292.9 L1135.0 1293.0 L1136.7 1289.0 L1137.6 1291.7 L1139.6 1285.2 L1140.9 1281.3 L1142.0 1292.6 L1143.9 1282.3 L1145.0 1280.1 L1146.9 1271.5 L1148.6 1271.4 L1149.5 1271.1 L1151.8 1266.1 L1154.3 1266.3 L1155.7 1266.6 L1157.4 1272.1 L1158.5 1273.9 L1160.1 1277.0 L1161.6 1280.6 L1163.6 1276.3 L1164.8 1272.8 L1166.5 1271.4 L1167.4 1277.9 L1169.0 1279.1 L1171.1 1288.7 L1172.6 1278.6 L1173.6 1289.8 L1175.0 1282.3 L1177.0 1287.6 L1178.3 1279.0 L1179.7 1284.6 L1181.2 1274.1 L1182.8 1266.0 L1185.3 1261.3 L1187.4 1259.4 L1189.1 1263.2 L1190.7 1262.7 L1192.0 1260.2 L1193.6 1262.8 L1195.1 1260.0 L1196.6 1258.7 L1197.6 1269.2 L1199.5 1265.6 L1200.9 1260.9 L1202.1 1259.9 L1204.0 1260.6 L1205.6 1265.0 L1206.9 1275.8 L1208.4 1266.8 L1210.5 1263.4 L1212.9 1263.7 L1214.6 1264.9 L1215.9 1269.2 L1217.1 1269.4 L1218.6 1270.7 L1220.3 1268.3 L1221.7 1270.1 L1223.5 1273.9 L1224.8 1270.6 L1226.6 1280.4 L1228.2 1279.3 L1229.4 1274.9 L1230.6 1288.4 L1232.0 1287.7 L1233.5 1279.5 L1235.7 1282.6 L1237.1 1278.4 L1238.3 1277.2 L1239.8 1279.6 L1241.4 1275.9 L1242.5 1275.1 L1243.9 1276.4 L1245.8 1273.0 L1247.1 1273.8 L1248.4 1274.0 L1250.2 1272.4 L1252.5 1270.6 L1254.7 1276.3 L1256.4 1272.7 L1258.0 1278.2 L1259.2 1275.0 L1260.9 1278.5 L1262.1 1286.8 L1263.5 1278.3 L1265.5 1276.9 L1267.1 1285.4 L1268.3 1289.1 L1269.5 1280.4 L1270.9 1278.1 L1272.7 1283.1 L1274.5 1278.4 L1276.0 1278.5 L1277.6 1284.6 L1278.9 1282.8 L1280.3 1279.9 L1281.8 1287.4 L1283.7 1289.3 L1285.1 1285.2 L1286.6 1284.2 L1287.8 1293.2 L1289.6 1289.9 L1291.1 1288.6 L1292.5 1286.9 L1294.4 1288.5 L1297.0 1289.4 L1298.7 1294.0 L1299.5 1293.9 L1301.5 1298.9 L1302.6 1295.0 L1304.3 1300.9 L1306.1 1299.7 L1307.3 1297.8 L1309.1 1301.8 L1309.9 1302.4 L1311.8 1308.8 L1313.5 1303.4 L1315.0 1307.2 L1316.2 1310.2 L1317.8 1306.2 L1319.6 1306.6 L1321.0 1304.3 L1322.1 1307.1 L1323.5 1304.5 L1325.5 1310.7 L1326.6 1304.7 L1328.3 1300.3 L1330.2 1300.1 L1331.5 1306.8 L1332.7 1302.7 L1334.6 1305.7 L1336.4 1298.0 L1338.5 1303.2 L1340.0 1303.6 L1341.7 1293.9 L1343.3 1297.7 L1344.9 1290.5 L1346.0 1288.6 L1347.6 1287.8 L1349.6 1283.8 L1351.1 1290.0 L1352.1 1281.2 L1353.9 1277.9 L1355.2 1278.4 L1357.1 1276.0 L1358.3 1280.5 L1359.6 1275.0 L1361.5 1271.0 L1363.1 1276.8 L1364.5 1271.3 L1366.1 1274.8 L1367.6 1275.9 L1368.9 1268.6 L1370.0 1269.4 L1372.1 1264.2 L1373.5 1262.0 L1374.6 1263.4 L1376.4 1268.5 L1377.6 1274.0 L1379.4 1262.9 L1380.7 1260.6 L1382.4 1269.4 L1383.5 1260.4 L1385.3 1257.4 L1386.8 1262.2 L1388.0 1255.5 L1390.0 1255.4 L1391.1 1256.7 L1392.8 1260.6 L1395.1 1255.0 L1397.4 1256.8 L1398.5 1255.7 L1400.1 1272.5 L1401.9 1267.4 L1403.7 1264.8 L1405.1 1279.9 L1406.7 1272.0 L1408.1 1277.7 L1409.5 1282.5 L1411.9 1278.9 L1414.0 1279.6 L1415.1 1280.5 L1417.0 1286.6 L1418.7 1288.0 L1419.5 1289.5 L1421.5 1290.2 L1422.5 1298.4 L1424.3 1294.6 L1425.7 1296.5 L1427.0 1300.8 L1428.7 1302.6 L1430.5 1299.5 L1431.4 1305.0 L1433.1 1303.3 L1434.8 1301.3 L1436.0 1299.3 L1438.1 1299.0 L1439.4 1299.3 L1440.6 1313.8 L1442.2 1304.5 L1443.9 1303.0 L1445.5 1300.7 L1446.9 1304.6 L1448.4 1300.2 L1449.6 1296.9 L1451.3 1303.6 L1453.1 1305.4 L1454.6 1297.2 L1455.7 1293.9 L1457.0 1291.4 L1458.8 1291.3 L1460.1 1297.6 L1462.2 1287.2 L1464.9 1288.2 L1466.5 1289.8 L1467.8 1292.6 L1469.3 1289.8 L1470.5 1297.6 L1472.2 1293.4 L1473.7 1296.5 L1475.5 1301.7 L1476.5 1305.0 L1479.0 1296.6 L1481.1 1293.7 L1482.9 1291.2 L1484.0 1289.1 L1486.0 1290.9 L1487.2 1288.0 L1489.0 1284.9 L1490.0 1283.5 L1492.1 1280.0 L1493.3 1294.6 L1494.8 1284.5 L1496.2 1280.3 L1497.7 1283.0 L1499.7 1275.4 L1500.5 1271.7 L1502.5 1268.6 L1503.6 1270.8 L1505.3 1268.9 L1506.6 1266.2 L1508.0 1273.9 L1510.1 1271.7 L1511.3 1265.7 L1513.0 1261.2 L1515.0 1259.9 L1517.3 1262.1 L1519.0 1265.9 L1520.1 1267.5 L1521.5 1266.9 L1523.2 1268.5 L1524.9 1273.5 L1526.4 1279.4 L1527.8 1275.9 L1528.9 1276.4 L1531.8 1282.0 L1534.1 1290.1 L1535.7 1283.6 L1536.4 1278.4 L1538.0 1275.1 L1539.6 1283.4 L1541.6 1277.6 L1543.1 1277.1 L1543.9 1278.7 L1545.9 1272.5 L1548.6 1271.2 L1549.9 1280.4 L1552.1 1288.8 L1553.3 1284.6 L1554.4 1282.4 L1556.6 1281.5 L1557.6 1295.1 L1559.4 1292.5 L1560.9 1294.6 L1562.6 1293.6 L1564.1 1298.1 L1564.9 1295.9 L1566.9 1297.4 L1568.7 1300.0 L1570.0 1300.6 L1571.5 1300.8 L1572.9 1315.1 L1574.4 1309.0 L1576.0 1305.2 L1577.3 1300.6 L1579.1 1304.4 L1580.3 1301.3 L1581.8 1298.4 L1583.4 1298.3 L1585.0 1297.9 L1586.6 1297.4 L1588.0 1296.6 L1590.5 1295.4 L1592.2 1301.4 L1594.0 1296.6 L1595.0 1295.2 L1596.7 1294.4 L1598.0 1288.4 L1600.0 1285.8 L1601.7 1282.4 L1602.4 1281.2 L1604.5 1283.4 L1605.7 1288.9 L1607.3 1281.0 L1610.5 1280.0 L1611.8 1285.9 L1613.0 1283.0 L1614.7 1286.4 L1615.9 1289.7 L1617.8 1288.3 L1619.6 1285.3 L1620.9 1292.7 L1622.4 1288.3 L1623.6 1292.6 L1625.5 1289.6 L1627.1 1296.4 L1628.6 1297.1 L1629.8 1300.0 L1631.3 1294.0 L1632.5 1299.5 L1634.0 1296.9 L1636.1 1298.3 L1636.9 1293.1 L1639.1 1286.9 L1640.6 1297.1 L1641.7 1286.4 L1643.5 1287.2 L1644.9 1281.2 L1646.2 1276.6 L1647.4 1288.0 L1649.3 1280.7 L1651.1 1276.9 L1652.2 1277.6 L1653.7 1277.3 L1655.3 1277.5 L1657.2 1281.8 L1657.9 1280.2 L1659.8 1281.6 L1661.7 1288.1 L1662.8 1285.6 L1664.6 1287.0 L1665.7 1286.9 L1667.1 1286.2 L1668.5 1295.1 L1670.1 1294.3 L1671.8 1292.5 L1674.4 1296.2 L1676.4 1295.4 L1677.9 1291.6 L1679.2 1288.3 L1681.2 1291.1 L1682.1 1287.4 L1683.9 1283.6 L1685.4 1282.4 L1687.2 1281.9 L1688.6 1294.1 L1689.7 1288.9 L1691.6 1280.1 L1693.1 1275.9 L1694.7 1273.9 L1695.9 1273.1 L1697.2 1276.9 L1699.6 1274.6 L1702.1 1277.9 L1703.2 1276.7 L1704.5 1273.2 L1706.1 1273.8 L1707.4 1270.7 L1709.3 1271.4 L1711.0 1279.9 L1712.2 1279.4 L1713.8 1274.6 L1715.4 1274.8 L1716.7 1270.6 L1718.0 1274.7 L1719.9 1270.8 L1721.5 1274.5 L1722.5 1273.3 L1724.8 1271.7 L1727.2 1268.8 L1728.5 1273.9 L1730.1 1266.3 L1732.1 1261.3 L1733.6 1262.1 L1734.5 1265.3 L1736.4 1266.4 L1737.9 1263.0 L1739.7 1257.5 L1740.8 1258.4 L1742.4 1257.2 L1743.6 1251.2 L1746.6 1246.4 L1748.0 1245.9 L1749.9 1248.8 L1751.2 1249.9 L1752.7 1262.2 L1754.1 1259.5 L1756.0 1260.1 L1757.4 1261.2 L1758.4 1268.4 L1759.9 1263.0 L1761.8 1267.5 L1763.6 1266.8 L1765.1 1267.9 L1766.7 1271.0 L1769.6 1272.6 L1770.5 1270.7 L1772.3 1275.9 L1773.9 1265.4 L1775.0 1267.9 L1776.6 1265.4 L1778.5 1264.3 L1780.1 1270.3 L1781.5 1259.0 L1783.5 1255.7 L1785.6 1259.3 L1787.0 1265.8 L1789.1 1272.7 L1790.3 1268.7 L1791.5 1273.0 L1793.5 1282.5 L1794.9 1275.8 L1796.1 1285.2 L1797.8 1287.1 L1800.3 1284.9 L1802.5 1283.0 L1803.5 1289.9 L1805.3 1281.3 L1806.5 1287.4 L1808.4 1282.8 L1809.8 1276.9 L1811.2 1273.2 L1812.6 1272.8 L1814.1 1271.0 L1815.6 1274.8 L1817.6 1270.1 L1818.5 1271.4 L1820.0 1271.6 L1821.5 1266.7 L1823.6 1271.1 L1825.5 1266.8 L1827.7 1268.7 L1829.4 1267.3 L1831.0 1270.9 L1832.0 1269.9 L1834.2 1268.0 L1835.6 1270.4 L1837.1 1267.2 L1838.0 1276.0 L1839.8 1269.3 L1841.6 1267.9 L1842.9 1271.8 L1844.2 1269.1 L1846.1 1272.7 L1847.7 1285.4 L1849.0 1277.7 L1850.6 1283.7 L1853.6 1286.2 L1854.7 1280.2 L1856.2 1277.5 L1857.7 1278.9 L1859.5 1275.6 L1860.5 1284.7 L1862.6 1278.1 L1864.1 1275.4 L1865.1 1284.4 L1866.5 1277.7 L1868.4 1277.4 L1869.7 1277.2 L1871.6 1279.4 L1872.8 1279.0 L1874.2 1280.2 L1875.8 1283.9 L1876.9 1284.3 L1878.5 1281.2 L1880.6 1294.9 L1881.7 1285.0 L1884.2 1282.0 L1885.9 1282.2 L1888.2 1286.5 L1889.5 1288.5 L1890.5 1293.0 L1892.4 1297.3 L1895.0 1295.6 L1897.0 1297.7 L1898.0 1294.1 L1900.0 1298.4 L1901.0 1294.9 L1902.8 1294.4 L1904.2 1306.2 L1905.6 1298.8 L1907.4 1297.7 L1909.0 1295.1 L1910.4 1296.0 L1911.7 1301.0 L1913.9 1301.2 L1916.5 1299.0 L1917.8 1303.6 L1919.7 1301.6 L1921.1 1298.6 L1922.6 1304.9 L1923.6 1302.0 L1925.2 1303.4 L1927.1 1308.2 L1929.1 1308.5 L1931.2 1309.1 L1932.7 1302.3 L1934.3 1303.4 L1935.8 1306.8 L1937.7 1301.8 L1938.8 1307.8 L1940.0 1307.9 L1942.1 1296.6 L1943.4 1294.1 L1944.8 1297.7 L1946.4 1298.5 L1948.1 1291.0 L1949.4 1291.4 L1951.8 1293.7 L1953.5 1295.1 L1955.1 1290.3 L1956.7 1284.2 L1958.0 1280.1 L1959.8 1278.5 L1961.5 1280.1 L1963.0 1276.9 L1964.4 1274.8 L1965.8 1272.1 L1967.2 1269.6 L1968.5 1272.8 L1970.7 1267.1 L1972.0 1266.7 L1973.3 1270.2 L1974.7 1276.3 L1976.2 1271.2 L1977.9 1279.4 L1979.2 1277.0 L1980.5 1274.5 L1982.0 1276.6 L1983.7 1273.2 L1984.9 1275.1 L1987.0 1276.2 L1988.2 1276.4 L1989.7 1275.1 L1991.0 1273.4 L1992.8 1280.0 L1994.0 1272.0 L1996.0 1271.2 L1997.5 1268.7 L1998.6 1269.1 L1999.9 1266.0 L2001.9 1260.4 L2004.8 1254.8 L2006.6 1257.8 L2007.5 1254.9 L2009.4 1252.7 L2010.9 1253.8 L2012.2 1258.3 L2014.1 1254.1 L2015.1 1254.5 L2016.4 1252.6 L2018.0 1261.1 L2019.7 1263.3 L2021.6 1262.1 L2022.9 1258.9 L2024.3 1260.1 L2025.7 1260.5 L2027.5 1259.4 L2028.9 1263.6 L2030.5 1258.0 L2032.2 1257.3 L2033.6 1254.2 L2034.4 1258.5 L2036.0 1260.3 L2037.9 1254.5 L2039.3 1263.7 L2041.2 1266.5 L2042.5 1268.1 L2043.6 1260.1 L2044.9 1259.3 L2046.8 1258.2 L2048.5 1262.8 L2049.9 1260.7 L2051.1 1261.2 L2053.0 1254.8 L2054.4 1252.3 L2055.9 1254.8 L2057.1 1254.3 L2058.8 1255.2 L2060.6 1252.6 L2061.6 1251.6 L2063.1 1251.4 L2065.4 1254.7 L2067.4 1256.6 L2069.4 1256.3 L2070.9 1256.6 L2072.7 1256.0 L2073.8 1254.8 L2075.0 1270.5 L2077.0 1266.6 L2078.1 1261.0 L2079.5 1259.0 L2081.4 1258.1 L2082.6 1257.3 L2084.3 1258.0 L2086.0 1271.0 L2087.6 1273.3 L2088.8 1267.4 L2090.5 1273.8 L2091.5 1273.4 L2093.8 1272.7 L2096.4 1271.0 L2098.0 1272.9 L2099.1 1270.3 L2100.9 1268.2 L2101.9 1268.9 L2103.4 1270.8 L2105.2 1269.3 L2106.9 1270.7 L2108.0 1265.7 L2109.4 1265.1 L2110.9 1264.6 L2112.7 1265.6 L2114.0 1266.5 L2115.5 1264.4 L2117.1 1273.9 L2118.6 1272.3 L2120.0 1277.5 L2121.9 1275.3 L2123.1 1276.2 L2124.9 1276.5 L2125.9 1276.3 L2128.1 1283.0 L2128.9 1281.1 L2131.7 1287.8 L2133.9 1292.7 L2135.6 1287.4 L2136.7 1283.9 L2138.5 1282.4 L2139.7 1282.5 L2140.9 1297.8 L2142.6 1293.3 L2144.3 1297.4 L2145.5 1288.4 L2147.0 1283.4 L2148.6 1282.3 L2150.6 1281.1 L2153.5 1284.1 L2155.0 1283.0 L2156.0 1285.6 L2158.1 1287.6 L2158.9 1291.3 L2160.9 1285.7 L2162.0 1285.3 L2164.2 1285.5 L2165.7 1289.0 L2166.6 1285.3 L2169.5 1287.2 L2171.0 1292.3 L2172.5 1295.4 L2174.3 1290.6 L2176.1 1289.1 L2176.9 1292.7 L2178.5 1298.6 L2180.4 1299.5 L2181.6 1296.4 L2183.0 1297.7 L2185.0 1295.8 L2186.2 1298.6 L2188.5 1299.7 L2190.5 1298.7 L2192.3 1302.7 L2193.4 1307.3 L2195.0 1307.5 L2196.9 1313.8 L2198.6 1308.6 L2199.5 1321.7 L2201.2 1316.7 L2202.8 1313.9 L2204.6 1311.5 L2206.2 1315.8 L2207.4 1314.8 L2208.9 1319.5 L2210.7 1317.3 L2211.6 1322.3 L2213.5 1322.3 L2214.7 1317.7 L2216.6 1316.3 L2217.5 1314.8 L2218.9 1312.9 L2220.9 1314.1 L2222.6 1312.2 L2223.6 1315.7 L2225.1 1315.3 L2226.5 1313.1 L2228.5 1311.5 L2230.1 1320.6 L2231.0 1318.7 L2232.9 1316.7 L2234.5 1314.1 L2235.8 1312.4 L2237.0 1311.8 L2238.9 1321.9 L2240.0 1328.3 L2241.8 1325.6 L2242.9 1319.2 L2244.5 1317.8 L2246.0 1317.2 L2247.8 1316.5 L2248.9 1321.8 L2250.6 1319.2 L2252.2 1317.8 L2253.4 1319.6 L2255.1 1326.3 L2256.9 1326.7 L2258.0 1329.6 L2260.0 1327.4 L2261.1 1332.7 L2262.9 1336.2 L2264.2 1328.1 L2265.4 1324.9 L2267.0 1324.4 L2268.5 1331.2 L2270.6 1329.7 L2271.9 1334.8 L2273.7 1334.1 L2274.7 1335.5 L2275.9 1330.8 L2277.7 1330.0 L2279.5 1332.4 L2280.5 1335.5 L2283.1 1334.2 L2285.4 1344.5 L2286.8 1333.4 L2288.1 1331.0 L2289.9 1327.7 L2291.7 1326.0 L2292.9 1329.7 L2294.5 1326.1 L2296.1 1334.6 L2297.2 1326.4 L2298.9 1324.7 L2300.3 1326.0 L2302.1 1320.4 L2304.8 1320.5 L2306.1 1326.1 L2308.1 1322.0 L2309.2 1321.7 L2310.6 1325.2 L2312.3 1327.1 L2313.5 1330.7 L2315.3 1327.0 L2316.9 1326.2 L2318.4 1324.1 L2319.4 1331.7 L2322.0 1331.4 L2323.9 1328.4 L2325.9 1336.1 L2327.4 1335.7 L2328.8 1334.5 L2330.1 1335.3 L2331.6 1336.8 L2332.9 1340.7 L2334.5 1340.2 L2336.0 1341.2 L2337.9 1341.3" stroke="#f79937"/>
<path d="M372.7 1345.8 L374.3 1349.9 L376.1 1349.3 L377.7 1344.5 L378.5 1344.9 L379.9 1346.5 L381.7 1352.9 L383.6 1348.4 L385.0 1344.8 L386.6 1344.8 L388.1 1343.8 L389.0 1342.9 L391.2 1343.1 L392.2 1347.7 L393.4 1344.4 L394.9 1349.1 L396.4 1345.1 L398.4 1346.5 L400.2 1349.2 L402.9 1344.6 L404.0 1342.6 L405.7 1340.8 L407.2 1347.8 L409.1 1344.3 L410.1 1341.2 L412.2 1344.0 L413.7 1343.9 L414.6 1350.5 L417.0 1349.9 L419.0 1337.8 L421.0 1333.8 L422.2 1335.4 L423.5 1346.5 L425.4 1340.5 L427.1 1334.4 L428.3 1346.1 L429.5 1336.2 L431.0 1332.0 L432.6 1333.3 L434.6 1332.1 L435.6 1343.2 L437.4 1332.1 L438.8 1328.5 L440.0 1334.5 L442.1 1330.4 L443.3 1329.5 L445.1 1335.5 L446.1 1328.5 L447.7 1325.5 L449.0 1329.4 L450.8 1324.3 L452.0 1336.0 L454.0 1326.0 L455.2 1330.9 L456.5 1328.8 L458.7 1325.0 L459.4 1329.0 L461.6 1323.2 L462.8 1321.3 L464.6 1318.8 L465.7 1324.2 L467.3 1319.8 L468.8 1325.3 L470.5 1324.9 L471.6 1319.6 L473.0 1322.5 L474.6 1318.7 L476.3 1314.5 L477.6 1314.1 L479.1 1320.2 L481.1 1313.5 L482.0 1314.3 L484.0 1311.1 L484.9 1310.0 L486.6 1311.0 L488.2 1310.2 L489.6 1311.3 L491.1 1313.0 L492.5 1309.4 L494.3 1307.7 L496.0 1309.5 L497.4 1308.0 L499.1 1311.6 L500.2 1311.3 L501.7 1308.3 L503.3 1311.1 L504.8 1316.8 L506.2 1310.6 L507.7 1311.6 L509.1 1314.7 L510.8 1312.4 L512.7 1311.6 L513.7 1316.3 L515.6 1313.5 L517.6 1312.9 L520.0 1316.6 L521.7 1311.5 L522.9 1310.5 L524.5 1311.4 L526.1 1313.7 L527.6 1313.0 L528.8 1320.0 L530.6 1317.8 L531.7 1321.0 L533.5 1317.7 L534.5 1323.0 L536.1 1314.4 L537.5 1314.2 L539.0 1313.2 L540.4 1312.5 L542.8 1311.5 L545.4 1310.3 L546.5 1315.1 L548.6 1312.3 L549.8 1312.3 L551.1 1315.1 L552.6 1314.1 L554.5 1312.3 L555.8 1318.6 L557.1 1308.8 L559.6 1305.7 L561.7 1312.8 L563.5 1312.2 L564.9 1309.8 L566.6 1311.5 L567.5 1306.5 L569.6 1311.5 L570.6 1310.6 L572.3 1304.3 L573.5 1304.4 L575.6 1303.1 L577.1 1300.7 L578.4 1301.5 L579.6 1303.0 L581.0 1313.8 L582.7 1306.5 L584.8 1306.5 L587.7 1300.7 L589.2 1298.2 L590.4 1305.0 L591.7 1298.8 L593.3 1301.6 L594.7 1304.9 L596.4 1301.9 L597.6 1299.7 L599.2 1300.0 L600.4 1300.0 L602.1 1299.4 L604.0 1295.7 L605.3 1294.0 L607.1 1294.7 L608.2 1300.1 L609.9 1294.2 L611.2 1307.4 L612.9 1308.5 L614.5 1307.5 L616.1 1298.8 L617.2 1295.4 L618.5 1294.1 L620.2 1294.6 L621.5 1294.4 L623.0 1298.7 L625.0 1308.5 L626.7 1308.4 L629.1 1310.5 L630.9 1303.4 L632.1 1302.8 L633.8 1304.9 L635.6 1305.8 L637.1 1311.1 L638.5 1316.2 L639.7 1318.7 L641.2 1312.6 L643.5 1312.4 L645.4 1313.3 L647.4 1313.9 L648.9 1317.7 L650.4 1314.9 L652.1 1322.4 L653.1 1331.1 L654.9 1329.7 L656.6 1326.0 L658.2 1325.3 L659.1 1322.6 L660.9 1322.5 L662.4 1322.3 L664.1 1327.8 L664.9 1326.8 L667.1 1327.3 L668.7 1333.7 L670.0 1332.6 L671.6 1331.1 L673.1 1339.6 L674.5 1335.4 L675.4 1335.0 L677.6 1338.3 L678.5 1349.6 L680.7 1345.7 L681.7 1344.9 L683.7 1344.4 L685.5 1361.3 L688.1 1356.2 L689.5 1350.0 L690.6 1359.6 L692.1 1356.4 L693.8 1355.8 L695.3 1360.0 L697.2 1356.5 L698.1 1355.1 L699.4 1354.5 L702.2 1365.5 L704.6 1359.6 L705.5 1359.0 L707.0 1359.9 L709.1 1353.8 L710.0 1357.1 L712.1 1357.3 L713.0 1352.8 L714.5 1350.9 L716.3 1355.6 L719.0 1363.2 L720.5 1357.7 L722.5 1362.3 L723.4 1355.0 L725.1 1347.4 L726.9 1348.3 L728.4 1344.7 L729.8 1347.6 L732.4 1340.6 L734.3 1336.6 L735.5 1334.4 L737.5 1333.5 L738.7 1329.8 L740.5 1323.1 L742.2 1317.2 L743.6 1322.8 L745.0 1318.9 L746.6 1318.2 L747.6 1308.2 L749.5 1304.9 L751.2 1299.9 L752.3 1296.8 L753.4 1295.1 L755.0 1293.3 L756.9 1294.9 L758.3 1291.4 L759.9 1289.6 L761.5 1295.5 L763.2 1288.6 L764.0 1287.1 L765.9 1285.5 L767.4 1283.3 L768.7 1288.9 L770.1 1297.5 L771.8 1290.1 L773.4 1284.9 L774.9 1281.6 L776.1 1280.0 L777.6 1280.5 L779.7 1281.2 L780.7 1278.1 L783.5 1278.2 L785.3 1277.5 L787.0 1281.5 L788.2 1282.6 L789.7 1282.5 L791.2 1283.1 L792.6 1284.5 L794.5 1287.3 L795.6 1286.0 L797.0 1288.7 L798.5 1288.8 L800.0 1294.2 L801.8 1308.6 L803.4 1302.6 L805.3 1306.2 L807.6 1307.6 L809.2 1309.4 L810.4 1309.9 L812.5 1312.3 L813.9 1313.5 L815.4 1315.1 L817.2 1319.7 L818.0 1323.7 L819.8 1322.6 L822.1 1323.2 L824.6 1322.7 L825.6 1324.6 L827.3 1323.5 L829.0 1333.0 L829.9 1332.4 L831.8 1333.4 L833.2 1333.3 L834.4 1341.1 L836.1 1333.6 L838.9 1335.9 L840.6 1334.9 L842.6 1332.5 L843.5 1334.0 L845.4 1334.3 L847.1 1336.3 L849.0 1335.9 L851.5 1338.8 L853.1 1350.2 L854.0 1351.2 L855.7 1350.9 L857.0 1350.8 L858.7 1340.5 L860.3 1345.0 L862.1 1337.5 L864.1 1334.9 L866.7 1334.6 L867.4 1334.5 L869.6 1336.1 L870.5 1340.7 L872.1 1338.5 L874.0 1338.3 L875.5 1336.4 L876.6 1335.3 L878.2 1334.3 L880.9 1336.6 L882.7 1334.1 L884.4 1331.3 L886.1 1328.5 L887.0 1333.8 L888.9 1330.8 L890.0 1329.9 L891.9 1326.3 L893.7 1324.4 L894.5 1324.5 L897.6 1338.3 L899.0 1326.8 L900.6 1325.6 L902.4 1323.4 L904.1 1327.8 L905.1 1323.0 L906.5 1321.1 L908.6 1326.2 L910.1 1333.1 L911.0 1325.1 L912.8 1322.2 L914.4 1324.1 L916.0 1322.9 L917.0 1319.1 L918.6 1319.2 L920.1 1316.8 L921.7 1324.6 L923.2 1319.1 L925.2 1315.0 L926.1 1314.4 L927.5 1315.6 L929.6 1312.0 L931.2 1310.9 L933.5 1310.1 L935.5 1306.3 L937.1 1307.7 L938.4 1303.8 L939.5 1301.5 L941.2 1302.6 L942.4 1300.7 L944.0 1308.8 L945.8 1310.5 L948.0 1308.1 L950.1 1303.2 L951.6 1304.4 L953.1 1297.3 L955.1 1297.0 L956.0 1291.2 L958.2 1284.1 L959.7 1283.9 L961.4 1282.5 L963.6 1285.9 L965.6 1288.3 L966.6 1286.9 L968.4 1287.6 L969.6 1288.9 L971.5 1287.5 L973.2 1290.0 L975.5 1288.1 L977.4 1289.2 L978.9 1293.3 L980.3 1288.6 L982.1 1286.8 L983.2 1302.0 L985.0 1292.1 L986.1 1290.1 L987.9 1288.6 L989.9 1297.1 L991.9 1288.6 L993.6 1286.0 L995.2 1291.4 L997.1 1290.0 L998.1 1291.9 L999.7 1292.0 L1001.3 1287.9 L1003.1 1284.0 L1004.2 1284.1 L1006.7 1283.0 L1008.9 1284.0 L1010.0 1290.9 L1011.6 1289.8 L1013.6 1286.5 L1014.9 1288.7 L1016.6 1287.4 L1017.9 1288.2 L1019.4 1287.4 L1020.5 1285.2 L1023.5 1286.7 L1025.3 1294.4 L1026.5 1291.2 L1027.9 1300.9 L1029.6 1297.0 L1031.9 1297.8 L1034.6 1294.7 L1036.1 1296.1 L1037.0 1294.1 L1039.0 1291.6 L1040.3 1295.2 L1042.1 1303.6 L1043.3 1297.1 L1044.4 1289.4 L1046.6 1296.4 L1048.1 1295.8 L1049.0 1291.0 L1050.4 1294.0 L1052.5 1289.4 L1053.9 1283.8 L1055.3 1282.6 L1057.1 1280.7 L1059.6 1279.0 L1060.9 1281.0 L1062.8 1278.3 L1064.4 1278.0 L1065.6 1277.6 L1067.1 1290.4 L1068.6 1290.0 L1070.5 1279.6 L1072.0 1274.2 L1073.8 1272.4 L1076.5 1279.5 L1077.5 1279.0 L1079.1 1271.9 L1080.7 1272.1 L1082.4 1283.7 L1083.9 1277.6 L1086.6 1272.4 L1088.5 1274.7 L1089.9 1286.3 L1091.7 1282.5 L1092.6 1277.3 L1094.3 1277.4 L1095.9 1278.3 L1097.1 1278.9 L1099.0 1279.5 L1102.0 1294.9 L1103.2 1295.0 L1105.0 1286.1 L1106.6 1288.8 L1107.5 1295.5 L1109.6 1287.3 L1110.5 1284.4 L1112.0 1282.8 L1113.4 1280.9 L1115.8 1280.8 L1118.3 1279.8 L1120.1 1283.7 L1121.6 1280.3 L1123.1 1284.7 L1124.6 1281.7 L1126.0 1281.1 L1128.0 1291.7 L1130.5 1285.1 L1131.6 1293.8 L1132.9 1283.0 L1135.0 1280.6 L1137.8 1281.5 L1138.9 1278.2 L1140.9 1277.5 L1142.0 1278.3 L1144.0 1280.9 L1145.6 1281.6 L1146.7 1283.9 L1148.5 1291.8 L1149.6 1289.2 L1151.8 1279.6 L1154.2 1275.7 L1156.1 1279.0 L1157.6 1275.4 L1158.6 1280.5 L1160.1 1277.3 L1161.4 1273.3 L1163.2 1272.5 L1165.1 1276.7 L1166.3 1273.4 L1168.2 1284.9 L1169.4 1277.7 L1171.1 1270.3 L1172.4 1275.3 L1173.8 1272.8 L1175.6 1268.3 L1177.0 1267.0 L1178.6 1267.3 L1180.0 1270.7 L1180.9 1273.1 L1182.4 1270.8 L1184.4 1278.0 L1186.0 1277.0 L1187.1 1274.0 L1188.8 1272.9 L1189.9 1271.9 L1191.8 1271.6 L1193.7 1273.7 L1196.3 1274.0 L1197.8 1275.1 L1199.3 1277.6 L1200.4 1278.6 L1202.1 1277.4 L1203.5 1274.0 L1205.4 1273.7 L1207.0 1277.8 L1208.0 1281.5 L1210.5 1278.6 L1212.9 1277.6 L1214.7 1291.2 L1215.4 1284.9 L1217.2 1284.0 L1219.1 1281.5 L1220.2 1287.3 L1222.3 1293.1 L1225.0 1287.1 L1226.3 1283.5 L1227.8 1285.2 L1229.5 1291.9 L1230.7 1289.7 L1232.4 1292.2 L1233.9 1287.9 L1235.6 1284.6 L1236.8 1283.1 L1238.0 1296.3 L1239.8 1287.3 L1241.7 1284.8 L1242.8 1285.6 L1244.1 1285.8 L1245.7 1298.2 L1247.0 1292.2 L1248.5 1291.0 L1250.1 1290.4 L1251.6 1287.6 L1253.7 1284.4 L1255.1 1284.0 L1255.9 1285.0 L1258.2 1286.0 L1259.1 1283.9 L1260.6 1294.5 L1262.4 1293.9 L1264.1 1288.3 L1265.5 1289.3 L1266.7 1287.0 L1268.1 1288.1 L1269.3 1288.5 L1271.0 1288.0 L1272.7 1285.9 L1274.3 1284.5 L1275.9 1284.1 L1277.7 1296.9 L1279.0 1290.6 L1280.7 1285.0 L1282.0 1284.1 L1283.0 1285.0 L1285.2 1284.0 L1285.9 1288.4 L1287.5 1286.2 L1289.3 1283.8 L1291.1 1282.3 L1292.0 1282.0 L1294.4 1283.0 L1295.7 1283.4 L1296.4 1282.5 L1298.3 1282.8 L1299.5 1284.9 L1300.9 1287.3 L1302.8 1293.0 L1306.1 1290.5 L1307.0 1295.2 L1308.8 1291.3 L1310.5 1293.4 L1311.4 1302.4 L1312.9 1299.5 L1315.0 1308.7 L1316.5 1301.8 L1317.6 1302.1 L1319.2 1303.7 L1321.1 1301.1 L1322.6 1296.6 L1323.9 1310.6 L1325.1 1306.0 L1326.6 1302.4 L1328.0 1298.9 L1330.2 1295.2 L1331.6 1293.4 L1332.8 1292.5 L1334.1 1297.5 L1335.8 1292.6 L1337.4 1292.2 L1339.1 1296.2 L1340.1 1289.9 L1341.6 1288.9 L1343.3 1285.4 L1344.8 1284.7 L1346.2 1283.5 L1348.1 1282.5 L1349.6 1278.8 L1350.4 1282.9 L1352.3 1281.3 L1354.0 1279.6 L1355.1 1273.7 L1356.8 1272.2 L1358.2 1271.5 L1359.6 1271.5 L1361.0 1270.4 L1362.7 1267.9 L1364.2 1267.7 L1365.7 1265.2 L1367.1 1261.8 L1368.4 1264.9 L1369.9 1262.9 L1372.0 1262.2 L1373.2 1263.1 L1374.9 1264.8 L1376.3 1261.6 L1378.0 1260.9 L1379.2 1262.1 L1380.9 1271.1 L1382.3 1266.3 L1383.6 1271.8 L1385.3 1265.1 L1386.7 1266.1 L1388.6 1274.2 L1389.5 1277.4 L1391.1 1270.3 L1393.1 1263.7 L1394.1 1266.6 L1395.6 1267.1 L1397.1 1267.8 L1398.9 1262.4 L1400.1 1264.0 L1402.0 1264.3 L1403.5 1265.0 L1406.5 1269.3 L1407.6 1263.2 L1409.1 1272.9 L1411.0 1265.8 L1412.7 1272.3 L1414.0 1268.3 L1415.3 1270.4 L1416.9 1268.0 L1418.1 1270.2 L1419.7 1282.8 L1421.1 1276.5 L1422.6 1273.7 L1425.3 1275.7 L1427.0 1281.8 L1428.6 1283.5 L1430.6 1279.2 L1431.4 1277.1 L1433.4 1292.6 L1434.5 1286.4 L1437.1 1285.7 L1439.2 1281.9 L1440.9 1282.4 L1442.2 1284.2 L1443.7 1282.0 L1445.0 1281.8 L1447.2 1283.3 L1448.2 1294.5 L1449.5 1286.8 L1451.3 1287.0 L1453.8 1291.2 L1456.0 1297.1 L1457.5 1290.7 L1458.4 1290.8 L1460.0 1288.6 L1462.1 1295.2 L1462.9 1292.5 L1464.9 1296.7 L1466.0 1300.1 L1467.3 1296.1 L1469.5 1291.5 L1470.9 1292.0 L1472.2 1289.0 L1473.8 1299.9 L1475.0 1290.6 L1477.0 1286.7 L1479.0 1284.4 L1481.2 1286.3 L1483.2 1282.4 L1484.4 1282.2 L1485.8 1280.7 L1487.5 1281.7 L1489.1 1276.6 L1490.2 1275.7 L1491.7 1272.7 L1493.2 1276.7 L1495.8 1281.4 L1497.6 1273.8 L1499.5 1279.6 L1501.1 1273.3 L1502.6 1275.5 L1503.9 1275.8 L1505.3 1272.3 L1506.7 1274.1 L1508.0 1272.2 L1509.7 1270.2 L1511.0 1269.6 L1512.7 1270.1 L1515.0 1276.8 L1517.1 1273.3 L1519.1 1273.5 L1520.6 1272.5 L1522.0 1269.8 L1523.2 1268.7 L1524.5 1268.2 L1525.9 1274.4 L1527.5 1280.7 L1529.1 1272.0 L1531.8 1269.1 L1534.0 1268.8 L1535.3 1273.6 L1536.7 1271.0 L1538.0 1274.9 L1539.7 1272.1 L1541.6 1279.1 L1543.0 1274.9 L1544.5 1280.4 L1545.5 1278.4 L1548.6 1278.5 L1550.6 1277.7 L1551.6 1281.0 L1553.4 1281.2 L1554.6 1281.9 L1556.1 1284.3 L1557.5 1283.0 L1559.6 1289.5 L1560.6 1289.0 L1562.2 1288.3 L1563.5 1297.3 L1565.3 1298.9 L1568.6 1300.0 L1569.5 1298.1 L1571.4 1299.9 L1573.7 1294.2 L1575.8 1292.6 L1577.7 1293.6 L1578.8 1300.3 L1580.5 1294.3 L1581.5 1292.6 L1583.0 1294.0 L1584.5 1291.7 L1586.3 1296.0 L1587.4 1291.2 L1589.0 1287.7 L1590.5 1286.1 L1591.9 1287.4 L1593.5 1298.4 L1595.6 1295.0 L1596.8 1288.5 L1598.2 1286.0 L1599.5 1288.0 L1601.6 1288.2 L1602.4 1289.2 L1604.6 1287.0 L1605.5 1288.5 L1607.4 1291.3 L1609.1 1288.3 L1610.3 1286.2 L1611.6 1286.4 L1613.2 1289.8 L1614.4 1290.4 L1615.7 1287.0 L1617.6 1287.8 L1619.5 1286.7 L1621.2 1286.3 L1622.2 1286.8 L1624.2 1285.1 L1625.6 1283.6 L1626.8 1288.8 L1628.3 1290.6 L1629.9 1289.0 L1632.5 1289.3 L1634.2 1295.2 L1635.5 1285.5 L1637.0 1281.8 L1639.1 1281.3 L1640.2 1284.3 L1641.4 1289.2 L1643.4 1288.4 L1645.2 1285.9 L1646.4 1287.4 L1647.8 1283.5 L1649.3 1282.8 L1651.1 1283.0 L1652.3 1284.8 L1653.7 1298.0 L1655.1 1288.5 L1657.1 1297.6 L1658.5 1288.4 L1659.7 1284.8 L1661.6 1287.5 L1663.0 1286.2 L1664.0 1284.9 L1666.0 1289.6 L1667.6 1287.8 L1668.6 1292.1 L1670.5 1295.6 L1671.7 1286.0 L1673.0 1281.9 L1675.1 1291.9 L1676.6 1289.5 L1678.0 1291.7 L1679.2 1282.0 L1680.7 1279.6 L1682.8 1285.1 L1685.3 1284.8 L1687.1 1283.6 L1688.6 1277.9 L1690.0 1276.7 L1691.6 1275.9 L1692.8 1282.6 L1694.5 1277.8 L1695.6 1279.2 L1697.6 1276.4 L1699.6 1281.2 L1702.0 1276.5 L1702.9 1278.9 L1705.2 1278.3 L1706.7 1283.3 L1707.9 1275.8 L1709.6 1272.5 L1710.4 1270.4 L1712.3 1273.2 L1714.0 1278.7 L1716.4 1270.8 L1718.5 1266.7 L1719.7 1280.1 L1721.1 1273.4 L1722.9 1266.7 L1724.6 1268.3 L1725.8 1264.7 L1727.1 1268.7 L1728.6 1267.9 L1730.6 1261.5 L1731.9 1273.9 L1733.2 1270.7 L1734.6 1263.8 L1736.0 1260.9 L1737.5 1259.5 L1739.1 1257.3 L1740.5 1261.5 L1742.5 1261.4 L1744.2 1258.4 L1745.7 1260.8 L1747.1 1258.9 L1748.2 1257.3 L1749.9 1264.2 L1752.5 1258.7 L1754.1 1257.7 L1755.5 1258.5 L1757.2 1260.1 L1758.5 1258.6 L1759.9 1256.4 L1761.6 1259.9 L1762.9 1258.3 L1765.1 1258.3 L1766.7 1256.3 L1768.1 1258.9 L1769.1 1259.0 L1770.8 1261.0 L1772.1 1260.1 L1774.0 1261.1 L1775.2 1262.3 L1776.7 1262.3 L1778.3 1261.7 L1779.6 1269.2 L1781.0 1265.0 L1783.5 1271.3 L1785.8 1265.8 L1787.6 1265.0 L1789.2 1264.6 L1790.2 1274.2 L1791.5 1267.7 L1793.7 1272.6 L1794.7 1269.9 L1796.2 1273.7 L1797.7 1271.5 L1800.3 1276.2 L1802.5 1274.7 L1803.5 1274.6 L1805.0 1272.8 L1807.0 1278.8 L1808.2 1285.5 L1809.9 1278.1 L1811.4 1279.7 L1812.8 1276.1 L1814.4 1276.6 L1815.8 1278.8 L1817.1 1279.8 L1818.5 1290.6 L1820.5 1277.6 L1821.6 1280.5 L1823.3 1292.8 L1824.9 1280.2 L1825.9 1282.6 L1827.8 1282.2 L1828.9 1286.9 L1830.5 1280.8 L1833.8 1285.2 L1835.5 1281.0 L1836.9 1282.2 L1838.4 1279.1 L1839.6 1278.3 L1841.5 1279.7 L1843.1 1281.2 L1844.6 1282.2 L1845.8 1279.4 L1847.2 1279.0 L1849.1 1282.9 L1850.6 1287.6 L1851.8 1284.3 L1853.2 1279.3 L1854.7 1277.9 L1856.1 1277.4 L1858.1 1278.5 L1859.6 1277.1 L1861.0 1278.2 L1862.3 1282.3 L1863.9 1278.9 L1865.4 1279.0 L1867.4 1279.2 L1869.9 1287.0 L1871.3 1293.5 L1872.6 1285.4 L1874.1 1282.1 L1876.0 1280.4 L1877.3 1281.8 L1878.7 1282.0 L1880.2 1282.8 L1881.9 1279.6 L1884.2 1280.6 L1886.0 1280.1 L1887.6 1283.1 L1888.9 1281.6 L1890.7 1285.3 L1892.6 1287.4 L1893.7 1285.3 L1895.0 1288.4 L1897.1 1286.0 L1898.1 1285.1 L1899.5 1284.5 L1901.0 1292.0 L1902.6 1297.8 L1904.2 1287.0 L1905.5 1287.1 L1907.3 1283.5 L1909.1 1282.6 L1909.9 1288.5 L1911.5 1290.9 L1913.9 1284.8 L1916.6 1284.1 L1918.2 1292.6 L1919.6 1292.1 L1920.6 1290.9 L1922.3 1286.2 L1924.1 1290.6 L1925.5 1299.7 L1926.8 1292.4 L1928.1 1286.9 L1930.1 1285.9 L1931.6 1286.3 L1932.9 1286.2 L1934.2 1285.4 L1935.7 1292.0 L1937.5 1288.8 L1938.4 1288.4 L1940.0 1297.1 L1941.9 1292.0 L1942.9 1290.5 L1944.5 1288.0 L1946.5 1283.2 L1947.5 1286.6 L1949.6 1296.0 L1950.6 1286.0 L1951.8 1282.0 L1954.0 1280.6 L1955.5 1280.2 L1957.2 1286.1 L1958.2 1295.7 L1959.4 1296.6 L1961.5 1296.6 L1962.7 1295.9 L1964.0 1287.8 L1965.9 1283.8 L1967.6 1282.1 L1968.7 1281.4 L1970.7 1284.3 L1972.0 1283.7 L1973.1 1281.2 L1975.0 1278.6 L1976.4 1283.6 L1978.2 1280.5 L1978.9 1277.5 L1981.2 1275.8 L1982.6 1273.5 L1983.9 1273.3 L1985.0 1274.1 L1986.5 1273.1 L1988.3 1275.0 L1989.7 1273.6 L1991.6 1270.1 L1993.1 1275.5 L1994.5 1270.5 L1996.0 1271.1 L1997.4 1267.5 L1998.6 1270.7 L2000.1 1269.3 L2001.7 1267.9 L2003.3 1264.1 L2004.7 1268.9 L2006.0 1267.8 L2008.6 1264.8 L2011.1 1262.8 L2012.1 1266.2 L2014.1 1267.8 L2015.6 1264.9 L2016.6 1266.7 L2018.0 1265.4 L2019.6 1270.0 L2021.6 1265.2 L2023.1 1268.5 L2024.0 1267.4 L2025.5 1268.4 L2027.5 1267.5 L2030.2 1278.8 L2032.1 1272.0 L2033.3 1267.6 L2035.0 1277.4 L2036.4 1276.5 L2037.5 1266.5 L2039.3 1261.6 L2040.7 1264.4 L2042.0 1265.8 L2044.1 1260.9 L2046.5 1260.3 L2048.5 1273.8 L2049.9 1271.7 L2051.0 1267.6 L2052.7 1262.4 L2054.4 1262.5 L2056.1 1277.8 L2057.2 1272.0 L2059.2 1266.9 L2060.1 1264.9 L2061.7 1265.4 L2063.2 1269.2 L2065.4 1269.4 L2067.6 1266.6 L2069.5 1266.8 L2070.8 1266.5 L2072.4 1272.0 L2074.1 1269.2 L2075.5 1270.2 L2076.5 1267.5 L2078.3 1269.1 L2079.6 1268.7 L2081.4 1273.3 L2083.1 1275.8 L2084.3 1276.3 L2085.6 1268.7 L2087.1 1269.4 L2088.9 1266.0 L2090.6 1267.1 L2092.1 1263.4 L2093.8 1259.3 L2095.2 1262.7 L2096.1 1274.3 L2097.4 1268.0 L2098.9 1265.1 L2100.9 1268.6 L2102.5 1280.7 L2104.2 1276.6 L2105.6 1275.2 L2107.2 1272.2 L2108.3 1273.4 L2109.7 1272.4 L2110.9 1273.4 L2112.7 1281.4 L2114.0 1279.7 L2115.8 1277.5 L2117.3 1277.9 L2118.4 1281.2 L2120.5 1281.0 L2121.6 1277.9 L2123.6 1282.3 L2124.7 1277.0 L2126.3 1278.6 L2127.4 1282.6 L2129.2 1277.4 L2131.7 1274.8 L2133.6 1273.4 L2135.3 1274.7 L2136.4 1284.5 L2138.6 1284.1 L2139.7 1276.7 L2140.9 1274.6 L2142.9 1276.8 L2144.4 1278.1 L2145.4 1285.0 L2147.5 1276.9 L2148.9 1277.3 L2150.6 1274.9 L2152.1 1277.6 L2153.4 1280.9 L2154.7 1277.5 L2156.0 1281.7 L2158.1 1277.9 L2159.2 1282.9 L2161.2 1282.3 L2162.3 1281.2 L2163.9 1282.3 L2165.4 1289.2 L2166.7 1282.9 L2168.2 1281.2 L2169.5 1281.0 L2171.5 1285.7 L2172.5 1285.1 L2174.5 1288.0 L2175.8 1293.6 L2177.5 1289.5 L2178.5 1284.4 L2180.6 1286.7 L2182.1 1288.5 L2182.9 1289.9 L2185.1 1295.2 L2186.0 1292.5 L2188.5 1291.1 L2191.0 1297.6 L2192.3 1293.5 L2194.1 1293.2 L2195.0 1291.2 L2196.7 1297.6 L2198.4 1291.3 L2199.6 1291.0 L2201.3 1294.4 L2202.9 1293.6 L2204.1 1290.7 L2205.9 1301.4 L2207.4 1295.1 L2208.9 1296.4 L2210.0 1299.9 L2212.1 1300.9 L2213.5 1296.7 L2215.0 1302.2 L2216.1 1308.3 L2217.4 1311.2 L2219.4 1305.7 L2221.0 1302.5 L2222.2 1304.9 L2224.1 1300.9 L2226.3 1300.6 L2228.0 1311.1 L2229.6 1306.4 L2231.4 1306.5 L2233.1 1312.6 L2234.3 1311.3 L2235.5 1316.5 L2237.4 1321.5 L2238.9 1314.6 L2240.4 1312.0 L2242.0 1312.8 L2243.0 1320.8 L2245.3 1318.9 L2247.4 1317.0 L2249.4 1315.8 L2250.6 1325.1 L2252.3 1320.0 L2253.8 1317.3 L2255.7 1316.9 L2257.1 1324.6 L2258.5 1319.5 L2259.8 1319.2 L2261.7 1318.4 L2262.5 1319.5 L2264.2 1328.6 L2266.1 1326.1 L2267.7 1323.1 L2268.6 1329.1 L2270.2 1328.3 L2271.6 1326.2 L2273.7 1330.0 L2274.8 1324.1 L2276.0 1322.7 L2277.5 1322.7 L2279.4 1328.2 L2281.0 1327.2 L2283.1 1334.7 L2285.1 1333.8 L2286.6 1327.7 L2288.0 1326.5 L2290.1 1331.6 L2291.5 1327.0 L2293.2 1326.4 L2294.4 1328.9 L2295.7 1329.5 L2297.5 1328.8 L2299.1 1332.7 L2300.3 1329.8 L2302.1 1334.3 L2303.3 1332.3 L2305.0 1329.0 L2306.3 1327.7 L2307.5 1330.9 L2309.0 1331.3 L2311.1 1334.3 L2312.5 1335.9 L2313.5 1332.9 L2315.0 1336.5 L2317.2 1332.5 L2319.0 1334.9 L2321.6 1339.5 L2323.1 1346.0 L2324.2 1352.0 L2325.8 1361.6 L2327.4 1359.5 L2328.6 1355.5 L2330.2 1356.0 L2332.1 1360.3 L2333.5 1367.8 L2334.7 1366.5 L2336.0 1365.7 L2337.6 1365.0" stroke="#a970b2"/>
</g>
<text transform="translate(357.68 764.55) scale(0.8988 0.8560)" font-family='"Liberation Serif", serif' font-size="100" fill="#231f20">0</text>
<text transform="translate(533.04 764.55) scale(0.8988 0.8560)" font-family='"Liberation Serif", serif' font-size="100" fill="#231f20">1</text>
<text transform="translate(712.61 764.55) scale(0.8988 0.8560)" font-family='"Liberation Serif", serif' font-size="100" fill="#231f20">2</text>
<text transform="translate(888.98 764.55) scale(0.8988 0.8560)" font-family='"Liberation Serif", serif' font-size="100" fill="#231f20">3</text>
<text transform="translate(1066.42 764.55) scale(0.8988 0.8560)" font-family='"Liberation Serif", serif' font-size="100" fill="#231f20">4</text>
<text transform="translate(1242.97 764.55) scale(0.8988 0.8560)" font-family='"Liberation Serif", serif' font-size="100" fill="#231f20">5</text>
<text transform="translate(1420.45 764.55) scale(0.8988 0.8560)" font-family='"Liberation Serif", serif' font-size="100" fill="#231f20">6</text>
<text transform="translate(1596.59 764.55) scale(0.8988 0.8560)" font-family='"Liberation Serif", serif' font-size="100" fill="#231f20">7</text>
<text transform="translate(1775.48 764.55) scale(0.8988 0.8560)" font-family='"Liberation Serif", serif' font-size="100" fill="#231f20">8</text>
<text transform="translate(1953.10 764.55) scale(0.8988 0.8560)" font-family='"Liberation Serif", serif' font-size="100" fill="#231f20">9</text>
<text transform="translate(2105.19 764.55) scale(0.8988 0.8560)" font-family='"Liberation Serif", serif' font-size="100" fill="#231f20">10</text>
<text transform="translate(2284.56 764.55) scale(0.8988 0.8560)" font-family='"Liberation Serif", serif' font-size="100" fill="#231f20">11</text>
<text transform="translate(335.16 1486.10) scale(0.8988 0.8560)" font-family='"Liberation Serif", serif' font-size="100" fill="#231f20">11</text>
<text transform="translate(512.75 1486.10) scale(0.8988 0.8560)" font-family='"Liberation Serif", serif' font-size="100" fill="#231f20">12</text>
<text transform="translate(688.74 1486.10) scale(0.8988 0.8560)" font-family='"Liberation Serif", serif' font-size="100" fill="#231f20">13</text>
<text transform="translate(863.68 1486.10) scale(0.8988 0.8560)" font-family='"Liberation Serif", serif' font-size="100" fill="#231f20">14</text>
<text transform="translate(1041.93 1486.10) scale(0.8988 0.8560)" font-family='"Liberation Serif", serif' font-size="100" fill="#231f20">15</text>
<text transform="translate(1218.74 1486.10) scale(0.8988 0.8560)" font-family='"Liberation Serif", serif' font-size="100" fill="#231f20">16</text>
<text transform="translate(1395.92 1486.10) scale(0.8988 0.8560)" font-family='"Liberation Serif", serif' font-size="100" fill="#231f20">17</text>
<text transform="translate(1573.54 1486.10) scale(0.8988 0.8560)" font-family='"Liberation Serif", serif' font-size="100" fill="#231f20">18</text>
<text transform="translate(1750.89 1486.10) scale(0.8988 0.8560)" font-family='"Liberation Serif", serif' font-size="100" fill="#231f20">19</text>
<text transform="translate(1929.95 1486.10) scale(0.8988 0.8560)" font-family='"Liberation Serif", serif' font-size="100" fill="#231f20">20</text>
<text transform="translate(2108.16 1486.10) scale(0.8988 0.8560)" font-family='"Liberation Serif", serif' font-size="100" fill="#231f20">21</text>
<text transform="translate(2285.15 1486.10) scale(0.8988 0.8560)" font-family='"Liberation Serif", serif' font-size="100" fill="#231f20">22</text>
<text transform="translate(266.27 359.81) scale(0.8672 0.8578)" font-family='"Liberation Serif", serif' font-size="100" fill="#231f20">60</text>
<text transform="translate(201.79 354.67) scale(1.1226 0.5000)" font-family='"Liberation Serif", serif' font-size="100" fill="#231f20">−</text>
<text transform="translate(266.72 587.80) scale(0.8626 0.8578)" font-family='"Liberation Serif", serif' font-size="100" fill="#231f20">80</text>
<text transform="translate(201.79 582.66) scale(1.1226 0.5000)" font-family='"Liberation Serif", serif' font-size="100" fill="#231f20">−</text>
<text transform="translate(266.27 1091.84) scale(0.8672 0.8578)" font-family='"Liberation Serif", serif' font-size="100" fill="#231f20">60</text>
<text transform="translate(201.79 1086.70) scale(1.1226 0.5000)" font-family='"Liberation Serif", serif' font-size="100" fill="#231f20">−</text>
<text transform="translate(266.72 1312.84) scale(0.8626 0.8578)" font-family='"Liberation Serif", serif' font-size="100" fill="#231f20">80</text>
<text transform="translate(201.79 1307.70) scale(1.1226 0.5000)" font-family='"Liberation Serif", serif' font-size="100" fill="#231f20">−</text>
<text transform="translate(1045.57 835.50) scale(0.9081 0.8534)" font-family='"Liberation Serif", serif' font-size="100" fill="#4d4d4f">Frequency [kHz]</text>
<text transform="translate(1045.57 1557.05) scale(0.9081 0.8534)" font-family='"Liberation Serif", serif' font-size="100" fill="#4d4d4f">Frequency [kHz]</text>
<text transform="translate(118.00 710.72) rotate(-90) scale(0.9154 0.8803)" font-family='"Liberation Serif", serif' font-size="100" fill="#4d4d4f">Amplitude [dB]</text>
<text transform="translate(118.00 1440.09) rotate(-90) scale(0.9154 0.8803)" font-family='"Liberation Serif", serif' font-size="100" fill="#4d4d4f">Amplitude [dB]</text>
</svg>
</body></html>
